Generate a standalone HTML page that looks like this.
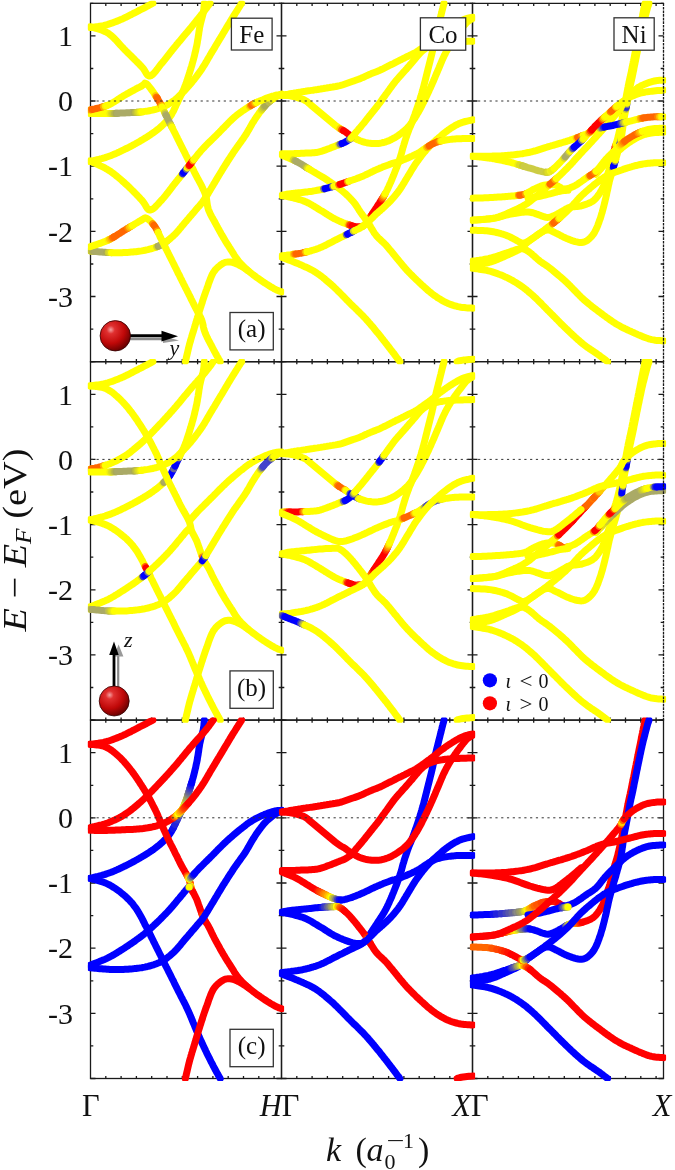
<!DOCTYPE html>
<html><head><meta charset="utf-8"><style>
html,body{margin:0;padding:0;background:#fff;width:675px;height:1170px;overflow:hidden}
svg{display:block;will-change:transform}
text{font-family:"Liberation Serif",serif}
</style></head><body>
<svg width="675" height="1170" viewBox="0 0 675 1170">
<defs><radialGradient id="ball" cx="0.35" cy="0.3" r="0.75"><stop offset="0" stop-color="#f4a0a0"/><stop offset="0.18" stop-color="#e03030"/><stop offset="0.6" stop-color="#c00808"/><stop offset="1" stop-color="#600000"/></radialGradient></defs>
<g stroke="#1a1a1a" stroke-width="1.3" fill="none">
<rect x="90.5" y="3.3" width="191.0" height="358.4"/>
<path d="M90.5 361.7h5.0M281.5 361.7h-5.0"/>
<path d="M90.5 329.1h2.8M281.5 329.1h-2.8"/>
<path d="M90.5 296.5h5.0M281.5 296.5h-5.0"/>
<path d="M90.5 264.0h2.8M281.5 264.0h-2.8"/>
<path d="M90.5 231.4h5.0M281.5 231.4h-5.0"/>
<path d="M90.5 198.8h2.8M281.5 198.8h-2.8"/>
<path d="M90.5 166.2h5.0M281.5 166.2h-5.0"/>
<path d="M90.5 133.6h2.8M281.5 133.6h-2.8"/>
<path d="M90.5 101.0h5.0M281.5 101.0h-5.0"/>
<path d="M90.5 68.5h2.8M281.5 68.5h-2.8"/>
<path d="M90.5 35.9h5.0M281.5 35.9h-5.0"/>
<path d="M90.5 3.3h2.8M281.5 3.3h-2.8"/>
<path d="M105.8 3.3v2.6M105.8 361.7v-2.6"/>
<path d="M121.1 3.3v2.6M121.1 361.7v-2.6"/>
<path d="M136.4 3.3v2.6M136.4 361.7v-2.6"/>
<path d="M151.7 3.3v2.6M151.7 361.7v-2.6"/>
<path d="M167.0 3.3v2.6M167.0 361.7v-2.6"/>
<path d="M182.3 3.3v2.6M182.3 361.7v-2.6"/>
<path d="M197.6 3.3v2.6M197.6 361.7v-2.6"/>
<path d="M212.9 3.3v2.6M212.9 361.7v-2.6"/>
<path d="M228.2 3.3v2.6M228.2 361.7v-2.6"/>
<path d="M243.5 3.3v2.6M243.5 361.7v-2.6"/>
<path d="M258.8 3.3v2.6M258.8 361.7v-2.6"/>
<path d="M274.1 3.3v2.6M274.1 361.7v-2.6"/>
<rect x="281.5" y="3.3" width="191.0" height="358.4"/>
<path d="M281.5 361.7h5.0M472.5 361.7h-5.0"/>
<path d="M281.5 329.1h2.8M472.5 329.1h-2.8"/>
<path d="M281.5 296.5h5.0M472.5 296.5h-5.0"/>
<path d="M281.5 264.0h2.8M472.5 264.0h-2.8"/>
<path d="M281.5 231.4h5.0M472.5 231.4h-5.0"/>
<path d="M281.5 198.8h2.8M472.5 198.8h-2.8"/>
<path d="M281.5 166.2h5.0M472.5 166.2h-5.0"/>
<path d="M281.5 133.6h2.8M472.5 133.6h-2.8"/>
<path d="M281.5 101.0h5.0M472.5 101.0h-5.0"/>
<path d="M281.5 68.5h2.8M472.5 68.5h-2.8"/>
<path d="M281.5 35.9h5.0M472.5 35.9h-5.0"/>
<path d="M281.5 3.3h2.8M472.5 3.3h-2.8"/>
<path d="M296.8 3.3v2.6M296.8 361.7v-2.6"/>
<path d="M312.1 3.3v2.6M312.1 361.7v-2.6"/>
<path d="M327.4 3.3v2.6M327.4 361.7v-2.6"/>
<path d="M342.7 3.3v2.6M342.7 361.7v-2.6"/>
<path d="M358.0 3.3v2.6M358.0 361.7v-2.6"/>
<path d="M373.3 3.3v2.6M373.3 361.7v-2.6"/>
<path d="M388.6 3.3v2.6M388.6 361.7v-2.6"/>
<path d="M403.9 3.3v2.6M403.9 361.7v-2.6"/>
<path d="M419.2 3.3v2.6M419.2 361.7v-2.6"/>
<path d="M434.5 3.3v2.6M434.5 361.7v-2.6"/>
<path d="M449.8 3.3v2.6M449.8 361.7v-2.6"/>
<path d="M465.1 3.3v2.6M465.1 361.7v-2.6"/>
<path d="M471.9 3.3H664.1M472.5 3.3V361.7H664.1"/>
<path d="M472.5 361.7h5.0M663.5 361.7h-5.0"/>
<path d="M472.5 329.1h2.8M663.5 329.1h-2.8"/>
<path d="M472.5 296.5h5.0M663.5 296.5h-5.0"/>
<path d="M472.5 264.0h2.8M663.5 264.0h-2.8"/>
<path d="M472.5 231.4h5.0M663.5 231.4h-5.0"/>
<path d="M472.5 198.8h2.8M663.5 198.8h-2.8"/>
<path d="M472.5 166.2h5.0M663.5 166.2h-5.0"/>
<path d="M472.5 133.6h2.8M663.5 133.6h-2.8"/>
<path d="M472.5 101.0h5.0M663.5 101.0h-5.0"/>
<path d="M472.5 68.5h2.8M663.5 68.5h-2.8"/>
<path d="M472.5 35.9h5.0M663.5 35.9h-5.0"/>
<path d="M472.5 3.3h2.8M663.5 3.3h-2.8"/>
<path d="M487.8 3.3v2.6M487.8 361.7v-2.6"/>
<path d="M503.1 3.3v2.6M503.1 361.7v-2.6"/>
<path d="M518.4 3.3v2.6M518.4 361.7v-2.6"/>
<path d="M533.7 3.3v2.6M533.7 361.7v-2.6"/>
<path d="M549.0 3.3v2.6M549.0 361.7v-2.6"/>
<path d="M564.3 3.3v2.6M564.3 361.7v-2.6"/>
<path d="M579.6 3.3v2.6M579.6 361.7v-2.6"/>
<path d="M594.9 3.3v2.6M594.9 361.7v-2.6"/>
<path d="M610.2 3.3v2.6M610.2 361.7v-2.6"/>
<path d="M625.5 3.3v2.6M625.5 361.7v-2.6"/>
<path d="M640.8 3.3v2.6M640.8 361.7v-2.6"/>
<path d="M656.1 3.3v2.6M656.1 361.7v-2.6"/>
<rect x="90.5" y="361.7" width="191.0" height="358.4"/>
<path d="M90.5 720.1h5.0M281.5 720.1h-5.0"/>
<path d="M90.5 687.5h2.8M281.5 687.5h-2.8"/>
<path d="M90.5 654.9h5.0M281.5 654.9h-5.0"/>
<path d="M90.5 622.4h2.8M281.5 622.4h-2.8"/>
<path d="M90.5 589.8h5.0M281.5 589.8h-5.0"/>
<path d="M90.5 557.2h2.8M281.5 557.2h-2.8"/>
<path d="M90.5 524.6h5.0M281.5 524.6h-5.0"/>
<path d="M90.5 492.0h2.8M281.5 492.0h-2.8"/>
<path d="M90.5 459.4h5.0M281.5 459.4h-5.0"/>
<path d="M90.5 426.9h2.8M281.5 426.9h-2.8"/>
<path d="M90.5 394.3h5.0M281.5 394.3h-5.0"/>
<path d="M90.5 361.7h2.8M281.5 361.7h-2.8"/>
<path d="M105.8 361.7v2.6M105.8 720.1v-2.6"/>
<path d="M121.1 361.7v2.6M121.1 720.1v-2.6"/>
<path d="M136.4 361.7v2.6M136.4 720.1v-2.6"/>
<path d="M151.7 361.7v2.6M151.7 720.1v-2.6"/>
<path d="M167.0 361.7v2.6M167.0 720.1v-2.6"/>
<path d="M182.3 361.7v2.6M182.3 720.1v-2.6"/>
<path d="M197.6 361.7v2.6M197.6 720.1v-2.6"/>
<path d="M212.9 361.7v2.6M212.9 720.1v-2.6"/>
<path d="M228.2 361.7v2.6M228.2 720.1v-2.6"/>
<path d="M243.5 361.7v2.6M243.5 720.1v-2.6"/>
<path d="M258.8 361.7v2.6M258.8 720.1v-2.6"/>
<path d="M274.1 361.7v2.6M274.1 720.1v-2.6"/>
<rect x="281.5" y="361.7" width="191.0" height="358.4"/>
<path d="M281.5 720.1h5.0M472.5 720.1h-5.0"/>
<path d="M281.5 687.5h2.8M472.5 687.5h-2.8"/>
<path d="M281.5 654.9h5.0M472.5 654.9h-5.0"/>
<path d="M281.5 622.4h2.8M472.5 622.4h-2.8"/>
<path d="M281.5 589.8h5.0M472.5 589.8h-5.0"/>
<path d="M281.5 557.2h2.8M472.5 557.2h-2.8"/>
<path d="M281.5 524.6h5.0M472.5 524.6h-5.0"/>
<path d="M281.5 492.0h2.8M472.5 492.0h-2.8"/>
<path d="M281.5 459.4h5.0M472.5 459.4h-5.0"/>
<path d="M281.5 426.9h2.8M472.5 426.9h-2.8"/>
<path d="M281.5 394.3h5.0M472.5 394.3h-5.0"/>
<path d="M281.5 361.7h2.8M472.5 361.7h-2.8"/>
<path d="M296.8 361.7v2.6M296.8 720.1v-2.6"/>
<path d="M312.1 361.7v2.6M312.1 720.1v-2.6"/>
<path d="M327.4 361.7v2.6M327.4 720.1v-2.6"/>
<path d="M342.7 361.7v2.6M342.7 720.1v-2.6"/>
<path d="M358.0 361.7v2.6M358.0 720.1v-2.6"/>
<path d="M373.3 361.7v2.6M373.3 720.1v-2.6"/>
<path d="M388.6 361.7v2.6M388.6 720.1v-2.6"/>
<path d="M403.9 361.7v2.6M403.9 720.1v-2.6"/>
<path d="M419.2 361.7v2.6M419.2 720.1v-2.6"/>
<path d="M434.5 361.7v2.6M434.5 720.1v-2.6"/>
<path d="M449.8 361.7v2.6M449.8 720.1v-2.6"/>
<path d="M465.1 361.7v2.6M465.1 720.1v-2.6"/>
<path d="M471.9 361.7H664.1M472.5 361.7V720.1H664.1"/>
<path d="M472.5 720.1h5.0M663.5 720.1h-5.0"/>
<path d="M472.5 687.5h2.8M663.5 687.5h-2.8"/>
<path d="M472.5 654.9h5.0M663.5 654.9h-5.0"/>
<path d="M472.5 622.4h2.8M663.5 622.4h-2.8"/>
<path d="M472.5 589.8h5.0M663.5 589.8h-5.0"/>
<path d="M472.5 557.2h2.8M663.5 557.2h-2.8"/>
<path d="M472.5 524.6h5.0M663.5 524.6h-5.0"/>
<path d="M472.5 492.0h2.8M663.5 492.0h-2.8"/>
<path d="M472.5 459.4h5.0M663.5 459.4h-5.0"/>
<path d="M472.5 426.9h2.8M663.5 426.9h-2.8"/>
<path d="M472.5 394.3h5.0M663.5 394.3h-5.0"/>
<path d="M472.5 361.7h2.8M663.5 361.7h-2.8"/>
<path d="M487.8 361.7v2.6M487.8 720.1v-2.6"/>
<path d="M503.1 361.7v2.6M503.1 720.1v-2.6"/>
<path d="M518.4 361.7v2.6M518.4 720.1v-2.6"/>
<path d="M533.7 361.7v2.6M533.7 720.1v-2.6"/>
<path d="M549.0 361.7v2.6M549.0 720.1v-2.6"/>
<path d="M564.3 361.7v2.6M564.3 720.1v-2.6"/>
<path d="M579.6 361.7v2.6M579.6 720.1v-2.6"/>
<path d="M594.9 361.7v2.6M594.9 720.1v-2.6"/>
<path d="M610.2 361.7v2.6M610.2 720.1v-2.6"/>
<path d="M625.5 361.7v2.6M625.5 720.1v-2.6"/>
<path d="M640.8 361.7v2.6M640.8 720.1v-2.6"/>
<path d="M656.1 361.7v2.6M656.1 720.1v-2.6"/>
<rect x="90.5" y="720.1" width="191.0" height="358.4"/>
<path d="M90.5 1078.5h5.0M281.5 1078.5h-5.0"/>
<path d="M90.5 1045.9h2.8M281.5 1045.9h-2.8"/>
<path d="M90.5 1013.3h5.0M281.5 1013.3h-5.0"/>
<path d="M90.5 980.8h2.8M281.5 980.8h-2.8"/>
<path d="M90.5 948.2h5.0M281.5 948.2h-5.0"/>
<path d="M90.5 915.6h2.8M281.5 915.6h-2.8"/>
<path d="M90.5 883.0h5.0M281.5 883.0h-5.0"/>
<path d="M90.5 850.4h2.8M281.5 850.4h-2.8"/>
<path d="M90.5 817.8h5.0M281.5 817.8h-5.0"/>
<path d="M90.5 785.3h2.8M281.5 785.3h-2.8"/>
<path d="M90.5 752.7h5.0M281.5 752.7h-5.0"/>
<path d="M90.5 720.1h2.8M281.5 720.1h-2.8"/>
<path d="M105.8 720.1v2.6M105.8 1078.5v-2.6"/>
<path d="M121.1 720.1v2.6M121.1 1078.5v-2.6"/>
<path d="M136.4 720.1v2.6M136.4 1078.5v-2.6"/>
<path d="M151.7 720.1v2.6M151.7 1078.5v-2.6"/>
<path d="M167.0 720.1v2.6M167.0 1078.5v-2.6"/>
<path d="M182.3 720.1v2.6M182.3 1078.5v-2.6"/>
<path d="M197.6 720.1v2.6M197.6 1078.5v-2.6"/>
<path d="M212.9 720.1v2.6M212.9 1078.5v-2.6"/>
<path d="M228.2 720.1v2.6M228.2 1078.5v-2.6"/>
<path d="M243.5 720.1v2.6M243.5 1078.5v-2.6"/>
<path d="M258.8 720.1v2.6M258.8 1078.5v-2.6"/>
<path d="M274.1 720.1v2.6M274.1 1078.5v-2.6"/>
<rect x="281.5" y="720.1" width="191.0" height="358.4"/>
<path d="M281.5 1078.5h5.0M472.5 1078.5h-5.0"/>
<path d="M281.5 1045.9h2.8M472.5 1045.9h-2.8"/>
<path d="M281.5 1013.3h5.0M472.5 1013.3h-5.0"/>
<path d="M281.5 980.8h2.8M472.5 980.8h-2.8"/>
<path d="M281.5 948.2h5.0M472.5 948.2h-5.0"/>
<path d="M281.5 915.6h2.8M472.5 915.6h-2.8"/>
<path d="M281.5 883.0h5.0M472.5 883.0h-5.0"/>
<path d="M281.5 850.4h2.8M472.5 850.4h-2.8"/>
<path d="M281.5 817.8h5.0M472.5 817.8h-5.0"/>
<path d="M281.5 785.3h2.8M472.5 785.3h-2.8"/>
<path d="M281.5 752.7h5.0M472.5 752.7h-5.0"/>
<path d="M281.5 720.1h2.8M472.5 720.1h-2.8"/>
<path d="M296.8 720.1v2.6M296.8 1078.5v-2.6"/>
<path d="M312.1 720.1v2.6M312.1 1078.5v-2.6"/>
<path d="M327.4 720.1v2.6M327.4 1078.5v-2.6"/>
<path d="M342.7 720.1v2.6M342.7 1078.5v-2.6"/>
<path d="M358.0 720.1v2.6M358.0 1078.5v-2.6"/>
<path d="M373.3 720.1v2.6M373.3 1078.5v-2.6"/>
<path d="M388.6 720.1v2.6M388.6 1078.5v-2.6"/>
<path d="M403.9 720.1v2.6M403.9 1078.5v-2.6"/>
<path d="M419.2 720.1v2.6M419.2 1078.5v-2.6"/>
<path d="M434.5 720.1v2.6M434.5 1078.5v-2.6"/>
<path d="M449.8 720.1v2.6M449.8 1078.5v-2.6"/>
<path d="M465.1 720.1v2.6M465.1 1078.5v-2.6"/>
<rect x="472.5" y="720.1" width="191.0" height="358.4"/>
<path d="M472.5 1078.5h5.0M663.5 1078.5h-5.0"/>
<path d="M472.5 1045.9h2.8M663.5 1045.9h-2.8"/>
<path d="M472.5 1013.3h5.0M663.5 1013.3h-5.0"/>
<path d="M472.5 980.8h2.8M663.5 980.8h-2.8"/>
<path d="M472.5 948.2h5.0M663.5 948.2h-5.0"/>
<path d="M472.5 915.6h2.8M663.5 915.6h-2.8"/>
<path d="M472.5 883.0h5.0M663.5 883.0h-5.0"/>
<path d="M472.5 850.4h2.8M663.5 850.4h-2.8"/>
<path d="M472.5 817.8h5.0M663.5 817.8h-5.0"/>
<path d="M472.5 785.3h2.8M663.5 785.3h-2.8"/>
<path d="M472.5 752.7h5.0M663.5 752.7h-5.0"/>
<path d="M472.5 720.1h2.8M663.5 720.1h-2.8"/>
<path d="M487.8 720.1v2.6M487.8 1078.5v-2.6"/>
<path d="M503.1 720.1v2.6M503.1 1078.5v-2.6"/>
<path d="M518.4 720.1v2.6M518.4 1078.5v-2.6"/>
<path d="M533.7 720.1v2.6M533.7 1078.5v-2.6"/>
<path d="M549.0 720.1v2.6M549.0 1078.5v-2.6"/>
<path d="M564.3 720.1v2.6M564.3 1078.5v-2.6"/>
<path d="M579.6 720.1v2.6M579.6 1078.5v-2.6"/>
<path d="M594.9 720.1v2.6M594.9 1078.5v-2.6"/>
<path d="M610.2 720.1v2.6M610.2 1078.5v-2.6"/>
<path d="M625.5 720.1v2.6M625.5 1078.5v-2.6"/>
<path d="M640.8 720.1v2.6M640.8 1078.5v-2.6"/>
<path d="M656.1 720.1v2.6M656.1 1078.5v-2.6"/>
</g>
<g fill="none" stroke-width="7.0" stroke-linecap="round" stroke-linejoin="round">
<defs><clipPath id="cp00"><rect x="87.9" y="0.7" width="196.2" height="363.6"/></clipPath><clipPath id="cp01"><rect x="278.9" y="0.7" width="196.2" height="363.6"/></clipPath><clipPath id="cp02"><rect x="469.9" y="0.7" width="196.2" height="363.6"/></clipPath><clipPath id="cp10"><rect x="87.9" y="359.1" width="196.2" height="363.6"/></clipPath><clipPath id="cp11"><rect x="278.9" y="359.1" width="196.2" height="363.6"/></clipPath><clipPath id="cp12"><rect x="469.9" y="359.1" width="196.2" height="363.6"/></clipPath><clipPath id="cp20"><rect x="87.9" y="717.5" width="196.2" height="363.6"/></clipPath><clipPath id="cp21"><rect x="278.9" y="717.5" width="196.2" height="363.6"/></clipPath><clipPath id="cp22"><rect x="469.9" y="717.5" width="196.2" height="363.6"/></clipPath></defs>
<g clip-path="url(#cp00)">
<polyline points="90.0,161.5 90.9,161.3 92.0,161.0 93.3,160.7 94.8,160.3 96.4,159.9 98.1,159.5 99.9,159.0 101.7,158.6 103.4,158.1 105.2,157.6 106.8,157.0 108.3,156.5 109.8,156.0 111.2,155.5 112.6,154.9 114.0,154.3 115.4,153.7 116.8,153.1 118.1,152.5 119.5,151.9 120.9,151.2 122.2,150.5 123.6,149.9 125.0,149.2 126.4,148.5 127.8,147.8 129.2,147.1 130.7,146.3 132.1,145.6 133.5,144.8 135.0,144.0 136.4,143.2 137.7,142.5 139.1,141.7 140.4,140.9 141.7,140.2 143.2,139.3 144.6,138.4 146.0,137.6 147.4,136.7 148.8,135.8 150.1,135.0 151.3,134.1 152.6,133.3 153.8,132.4 155.0,131.5 156.4,130.4 157.8,129.4 159.1,128.3 160.4,127.2 161.6,126.1 162.8,125.0 163.9,123.9 165.0,122.9 166.1,121.7 167.1,120.5 168.1,119.4 169.0,118.3 169.9,117.0 170.7,115.7 171.7,114.2 172.3,113.0 173.0,111.8 173.7,110.5 174.3,109.1 175.0,107.7 175.7,106.3 176.3,104.8 177.0,103.4 177.7,101.9 178.3,100.5 179.0,99.2 179.7,97.8 180.3,96.5 181.0,95.1 181.7,93.8 182.3,92.4 183.0,91.0 183.7,89.5 184.3,87.9 185.0,86.2 185.5,84.9 186.0,83.6 186.5,82.2 187.0,80.8 187.4,79.4 187.9,77.9 188.4,76.4 188.9,74.9 189.4,73.3 189.9,71.8 190.3,70.3 190.8,68.8 191.2,67.3 191.7,65.9 192.1,64.3 192.5,62.8 193.0,61.2 193.4,59.7 193.8,58.2 194.2,56.6 194.6,55.1 194.9,53.5 195.3,52.0 195.7,50.5 196.0,48.9 196.3,47.4 196.7,45.9 197.0,44.3 197.3,42.7 197.5,41.1 197.8,39.5 198.1,37.9 198.3,36.3 198.6,34.7 198.8,33.1 199.0,31.5 199.3,30.0 199.5,28.6 199.7,27.2 200.0,25.9 200.4,24.1 200.8,22.4 201.2,20.8 201.6,19.3 202.0,17.8 202.4,16.4 202.7,15.1 203.1,13.8 203.3,12.5 203.6,10.6 203.9,8.8 204.0,7.0 204.2,5.5 204.3,4.2 204.3,3.3" stroke="#ffff00"/>
<polyline points="90.0,27.5 90.9,27.4 92.0,27.3 93.3,27.1 94.8,26.9 96.5,26.7 98.2,26.5 99.9,26.2 101.7,25.9 103.4,25.6 105.0,25.2 106.5,24.8 107.9,24.4 109.4,23.9 110.9,23.4 112.5,22.9 114.0,22.3 115.5,21.7 117.1,21.1 118.6,20.5 120.1,19.8 121.7,19.2 123.1,18.6 124.5,17.9 125.8,17.3 127.2,16.6 128.6,15.9 130.0,15.2 131.4,14.5 132.8,13.7 134.2,13.0 135.6,12.3 137.0,11.6 138.3,10.9 139.7,10.1 141.2,9.4 142.8,8.6 144.3,7.8 145.9,7.0 147.4,6.2 148.8,5.4 150.2,4.7 151.5,4.0 152.6,3.4 152.9,3.3" stroke="#ffff00"/>
<polyline points="90.0,113.5 90.9,113.5 92.0,113.5 93.3,113.5 94.8,113.6 96.4,113.6 98.1,113.6 99.9,113.6 101.7,113.6 103.4,113.6 105.2,113.6 106.8,113.6 108.3,113.5 109.9,113.5" stroke="#ffff00"/>
<polyline points="109.9,113.5 111.5,113.5" stroke="#eeee11"/>
<polyline points="111.5,113.5 113.0,113.4" stroke="#dddd22"/>
<polyline points="113.0,113.4 114.5,113.4" stroke="#cccc33"/>
<polyline points="114.5,113.4 116.0,113.3" stroke="#bbbb44"/>
<polyline points="116.0,113.3 117.5,113.2" stroke="#aaaa55"/>
<polyline points="117.5,113.2 119.0,113.2 120.5,113.1 122.0,113.0 123.5,112.9 125.0,112.9 126.5,112.8 128.0,112.7 129.5,112.7 131.1,112.6 132.6,112.6 134.1,112.5" stroke="#aaaa66"/>
<polyline points="134.1,112.5 135.6,112.4" stroke="#aaaa55"/>
<polyline points="135.6,112.4 137.1,112.3" stroke="#bbbb44"/>
<polyline points="137.1,112.3 138.6,112.2" stroke="#cccc33"/>
<polyline points="138.6,112.2 140.2,112.0" stroke="#dddd22"/>
<polyline points="140.2,112.0 141.7,111.9" stroke="#eeee11"/>
<polyline points="141.7,111.9 143.2,111.7 144.7,111.4 146.3,111.2 147.9,111.0 149.4,110.7 151.0,110.4 152.5,110.1 154.0,109.7 155.5,109.4 156.9,109.0 158.3,108.5 160.0,108.0 161.6,107.4 163.1,106.7 164.7,106.1 166.2,105.3 167.6,104.6 169.0,103.8 170.3,103.0 171.7,102.2 173.1,101.2 174.4,100.3 175.7,99.2 176.9,98.2 178.1,97.1 179.2,95.9 180.4,94.7 181.7,93.5 182.8,92.4 183.9,91.3 185.0,90.1 186.1,88.9 187.2,87.7 188.3,86.5 189.4,85.2 190.6,83.9 191.7,82.5 192.6,81.4 193.5,80.3 194.4,79.2 195.3,78.0 196.2,76.8 197.1,75.6 198.0,74.4 198.9,73.1 199.8,71.9 200.8,70.5 201.7,69.2 202.5,67.9 203.3,66.6 204.2,65.3 205.0,63.9 205.8,62.5 206.7,61.1 207.5,59.6 208.3,58.2 209.2,56.8 210.0,55.3 210.8,53.9 211.7,52.5 212.5,51.1 213.3,49.8 214.2,48.4 215.0,47.0 215.8,45.6 216.7,44.2 217.5,42.8 218.3,41.4 219.2,40.0 220.0,38.6 220.8,37.3 221.7,35.9 222.5,34.5 223.3,33.1 224.2,31.7 225.0,30.3 225.8,28.9 226.7,27.5 227.5,26.1 228.3,24.7 229.2,23.3 230.0,21.9 230.8,20.6 231.7,19.2 232.5,17.8 233.4,16.3 234.4,14.8 235.4,13.2 236.3,11.7 237.3,10.2 238.2,8.7 239.1,7.3 239.9,6.1 240.6,4.9 241.2,4.0 241.6,3.3" stroke="#ffff00"/>
<polyline points="90.0,250.9 90.9,251.0" stroke="#dddd22"/>
<polyline points="90.9,251.0 92.0,251.1" stroke="#cccc33"/>
<polyline points="92.0,251.1 93.3,251.2" stroke="#bbbb44"/>
<polyline points="93.3,251.2 94.8,251.4" stroke="#aaaa55"/>
<polyline points="94.8,251.4 96.4,251.5 98.1,251.7 99.9,251.9 101.7,252.0 103.4,252.2 105.2,252.3 106.8,252.4" stroke="#aaaa66"/>
<polyline points="106.8,252.4 108.3,252.5" stroke="#aaaa55"/>
<polyline points="108.3,252.5 109.9,252.6" stroke="#cccc33"/>
<polyline points="109.9,252.6 111.5,252.7" stroke="#dddd22"/>
<polyline points="111.5,252.7 113.0,252.7 114.5,252.7 116.0,252.7 117.5,252.7 119.0,252.7 120.5,252.7 122.0,252.7 123.5,252.6 125.0,252.5 126.5,252.5 128.1,252.4 129.6,252.2 131.2,252.1 132.8,252.0 134.3,251.8 135.9,251.7 137.4,251.5 138.8,251.3 140.3,251.1 141.7,250.9 143.3,250.6 144.9,250.3 146.5,249.9 148.0,249.6 149.5,249.2 150.9,248.8 152.3,248.4 153.7,248.0 155.0,247.5 156.6,246.9" stroke="#ffff00"/>
<polyline points="156.6,246.9 158.1,246.3" stroke="#dddd22"/>
<polyline points="158.1,246.3 159.5,245.7" stroke="#aaaa55"/>
<polyline points="159.5,245.7 160.9,245.0 162.2,244.3 163.6,243.4 165.0,242.5" stroke="#aaaa66"/>
<polyline points="165.0,242.5 166.2,241.7" stroke="#aaaa55"/>
<polyline points="166.2,241.7 167.5,240.8" stroke="#dddd33"/>
<polyline points="167.5,240.8 168.8,239.8 170.0,238.8 171.2,237.7 172.5,236.6 173.8,235.4 175.0,234.2 176.0,233.2 177.0,232.1 178.0,230.9 179.0,229.8 180.0,228.6 181.0,227.4 182.0,226.1 183.0,224.9 184.0,223.7 185.0,222.5 186.0,221.4 187.0,220.2 188.1,219.0 189.1,217.8 190.1,216.6 191.1,215.4 192.1,214.2 193.1,213.1 194.1,212.0 195.0,210.9 196.1,209.6 197.2,208.3 198.2,207.1 199.3,206.0 200.3,204.8 201.3,203.6 202.3,202.3 203.3,200.9 204.2,199.7 205.0,198.5 205.8,197.2 206.6,195.9 207.4,194.6 208.2,193.3 209.0,191.9 209.9,190.5 210.8,189.0 211.7,187.5 212.4,186.3 213.2,185.0 214.0,183.6 214.8,182.3 215.6,180.9 216.5,179.5 217.3,178.1 218.1,176.7 219.0,175.2 219.9,173.8 220.8,172.3 221.7,170.9 222.4,169.6 223.2,168.3 224.1,167.0 224.9,165.7 225.7,164.4 226.6,163.0 227.4,161.7 228.2,160.4 229.1,159.0 230.0,157.7 230.8,156.4 231.7,155.1 232.5,153.8 233.3,152.5 234.2,151.2 235.1,149.9 236.1,148.6 237.0,147.3 237.9,146.0 238.8,144.7 239.7,143.5 240.6,142.2 241.5,140.9 242.4,139.7 243.3,138.4 244.2,137.1 245.0,135.9 245.9,134.5 246.8,133.1 247.6,131.6 248.5,130.2 249.3,128.8 250.1,127.3 250.9,125.9 251.7,124.5 252.5,123.1 253.4,121.8 254.2,120.5 255.0,119.2 255.9,117.8 256.8,116.5 257.7,115.2 258.6,113.9 259.5,112.6 260.5,111.4 261.4,110.2" stroke="#ffff00"/>
<polyline points="261.4,110.2 262.3,109.1" stroke="#eeee11"/>
<polyline points="262.3,109.1 263.2,107.9" stroke="#dddd22"/>
<polyline points="263.2,107.9 264.1,106.9" stroke="#cccc33"/>
<polyline points="264.1,106.9 265.0,105.9" stroke="#bbbb44"/>
<polyline points="265.0,105.9 266.3,104.6 267.6,103.3 268.9,102.2" stroke="#aaaa55"/>
<polyline points="268.9,102.2 270.2,101.1" stroke="#bbbb55"/>
<polyline points="270.2,101.1 271.5,100.1" stroke="#bbbb44"/>
<polyline points="271.5,100.1 272.7,99.1" stroke="#dddd33"/>
<polyline points="272.7,99.1 273.9,98.3" stroke="#eeee11"/>
<polyline points="273.9,98.3 275.0,97.5 277.1,96.3 279.0,95.3 280.5,94.7 281.7,94.2" stroke="#ffff00"/>
<polyline points="185.4,361.7 185.5,361.3 185.7,360.1 186.1,358.7 186.4,357.2 186.8,355.6 187.2,353.9 187.6,352.2 188.0,350.5 188.4,348.7 188.8,347.1 189.2,345.5 189.6,343.9 190.0,342.5 190.5,340.9 190.9,339.3 191.4,337.7 191.8,336.2 192.3,334.7 192.7,333.2 193.2,331.8 193.6,330.3 194.1,328.8 194.5,327.4 195.0,325.9 195.4,324.4 195.9,322.9 196.3,321.4 196.7,319.9 197.2,318.5 197.6,317.0 198.1,315.5 198.5,314.0 199.0,312.4 199.5,310.8 200.0,309.2 200.4,307.9 200.9,306.5 201.3,305.1 201.8,303.6 202.3,302.2 202.7,300.7 203.2,299.2 203.7,297.7 204.2,296.2 204.7,294.8 205.2,293.3 205.7,291.9 206.2,290.5 206.7,289.2 207.3,287.5 207.9,285.9 208.4,284.2 209.0,282.5 209.6,280.9 210.2,279.4 210.8,277.8 211.4,276.4 212.0,275.0 212.7,273.7 213.3,272.5 214.5,270.9 215.6,269.4 216.9,268.1 218.1,266.9 219.4,265.9 220.5,265.0 221.7,264.2 223.5,263.1 225.1,262.4 226.7,262.1 228.3,261.9 230.0,261.9 231.7,262.2 233.3,262.6 235.0,263.2 236.7,263.9 238.3,264.7 240.0,265.6 241.7,266.5 243.1,267.4 244.7,268.4 246.1,269.4 247.4,270.3 248.3,270.9" stroke="#ffff00"/>
<polyline points="90.0,26.7 90.8,26.9 91.8,27.2 93.0,27.5 94.3,27.9 95.8,28.3 97.3,28.7 98.9,29.2 100.6,29.7 102.2,30.3 103.8,31.0 105.4,31.7 106.9,32.5 108.3,33.3 109.5,34.2 110.6,35.1 111.8,36.0 112.9,37.1 114.0,38.1 115.1,39.3 116.2,40.4 117.3,41.6 118.4,42.9 119.5,44.1 120.6,45.3 121.7,46.5 122.8,47.7 123.9,48.9 125.0,50.0 126.1,51.1 127.3,52.3 128.5,53.5 129.7,54.6 130.9,55.8 132.1,57.0 133.3,58.2 134.4,59.4 135.6,60.5 136.7,61.7 137.8,62.7 138.9,63.8 139.9,64.8 140.8,65.8 141.7,66.7 143.1,68.3 144.3,70.0 145.3,71.7 146.1,73.2 147.0,74.4 147.9,75.4 148.9,75.9 150.0,76.0 150.9,75.7 151.9,75.1 152.9,74.2 153.9,73.2 155.0,72.0 156.1,70.6 157.2,69.2 158.3,67.7 159.4,66.2 160.5,64.7 161.7,63.3 162.6,62.3 163.5,61.2 164.4,60.1 165.3,59.0 166.2,57.8 167.1,56.6 168.0,55.5 169.0,54.3 169.9,53.0 170.9,51.8 171.9,50.5 172.9,49.3 173.9,48.0 175.0,46.7 175.9,45.6 176.8,44.4 177.8,43.3 178.8,42.1 179.8,40.9 180.8,39.7 181.8,38.5 182.8,37.3 183.8,36.1 184.9,34.8 185.9,33.6 186.9,32.4 187.9,31.2 188.9,30.0 189.8,28.9 190.8,27.8 191.7,26.7 192.7,25.4 193.8,24.1 194.9,22.8 195.9,21.5 196.9,20.2 197.9,18.9 198.9,17.7 199.9,16.5 200.8,15.3 201.7,14.2 202.6,13.1 203.4,12.0 204.2,11.0 205.0,10.0 206.3,8.4 207.4,6.8 208.5,5.3 209.5,4.0 210.0,3.3" stroke="#ffff00"/>
<polyline points="90.0,110.0 90.9,109.8" stroke="#ffbb00"/>
<polyline points="90.9,109.8 92.0,109.5" stroke="#ff9900"/>
<polyline points="92.0,109.5 93.3,109.2 94.8,108.9 96.4,108.5 98.1,108.1 99.9,107.7 101.7,107.2 103.4,106.7" stroke="#ff6600"/>
<polyline points="103.4,106.7 105.2,106.2" stroke="#ffaa00"/>
<polyline points="105.2,106.2 106.8,105.6" stroke="#ffee00"/>
<polyline points="106.8,105.6 108.3,105.0 109.8,104.3 111.2,103.6 112.6,102.8 114.0,102.0 115.4,101.1 116.8,100.2 118.1,99.3 119.5,98.4 120.9,97.5 122.2,96.7 123.6,95.8 125.0,95.0 126.4,94.2 127.9,93.4 129.4,92.5 131.0,91.7 132.5,90.8 134.1,90.0 135.5,89.2 137.0,88.4 138.3,87.7 139.6,87.1 140.7,86.5 141.7,86.0 144.0,84.1 144.9,83.1 146.7,84.0 147.4,84.6 148.1,85.4 148.9,86.4 149.8,87.5 150.7,88.7 151.7,90.0 152.7,91.3 153.7,92.7 154.6,94.2 155.6,95.7" stroke="#ffff00"/>
<polyline points="155.6,95.7 156.6,97.1" stroke="#ffcc00"/>
<polyline points="156.6,97.1 157.5,98.6" stroke="#ff7700"/>
<polyline points="157.5,98.6 158.3,100.0 159.1,101.3 159.8,102.6 160.6,104.0 161.3,105.4" stroke="#ff6600"/>
<polyline points="161.3,105.4 162.0,106.8" stroke="#ffaa00"/>
<polyline points="162.0,106.8 162.7,108.3 163.4,109.7 164.1,111.2 164.8,112.7" stroke="#ffff00"/>
<polyline points="164.8,112.7 165.5,114.2" stroke="#dddd22"/>
<polyline points="165.5,114.2 166.2,115.6" stroke="#bbbb55"/>
<polyline points="166.2,115.6 166.9,117.1 167.6,118.6 168.3,120.0 169.0,121.4 169.8,122.9 170.5,124.3" stroke="#aaaa66"/>
<polyline points="170.5,124.3 171.2,125.7" stroke="#bbbb55"/>
<polyline points="171.2,125.7 171.9,127.1" stroke="#dddd22"/>
<polyline points="171.9,127.1 172.6,128.6 173.3,130.0 174.0,131.4 174.8,132.9 175.5,134.3 176.2,135.7 176.9,137.1 177.6,138.6 178.3,140.0 179.1,141.4 179.8,142.9 180.5,144.4 181.3,145.9 182.0,147.4 182.8,148.9 183.5,150.4 184.3,151.9 185.0,153.3 185.7,154.8 186.4,156.2 187.1,157.5 187.7,158.8 188.3,160.0 189.2,161.7 190.0,163.3 190.7,164.7 191.3,166.0 192.0,167.3 192.7,168.6 193.4,170.1 194.1,171.6 195.0,173.3 195.6,174.6 196.3,175.9 197.0,177.3 197.8,178.7 198.6,180.2 199.4,181.7 200.2,183.2 201.0,184.7 201.8,186.2 202.5,187.7 203.2,189.2 203.9,190.6 204.5,192.0 205.0,193.3 205.6,195.1 206.0,196.8 206.4,198.5 206.7,200.1 206.9,201.7 207.1,203.2 207.3,204.8 207.6,206.3 207.9,207.7 208.3,209.2 208.9,210.8 209.6,212.3 210.2,213.8 211.0,215.2 211.7,216.6 212.5,218.1 213.3,219.5 214.2,221.0 215.0,222.5 215.7,223.8 216.4,225.2 217.2,226.5 217.9,227.9 218.7,229.3 219.5,230.7 220.2,232.1 221.0,233.5 221.8,234.9 222.6,236.2 223.3,237.5 224.2,238.9 225.0,240.4 225.9,241.8 226.7,243.1 227.6,244.5 228.5,245.9 229.3,247.2 230.1,248.4 230.9,249.7 231.7,250.9 232.6,252.3 233.4,253.6 234.1,254.9 234.9,256.1 235.7,257.3 236.5,258.4 237.4,259.6 238.3,260.9 239.3,262.0 240.3,263.1 241.3,264.2 242.4,265.3 243.5,266.4 244.6,267.5 245.8,268.6 247.1,269.8 248.3,270.9 249.4,271.8 250.6,272.7 251.7,273.6 252.9,274.6 254.2,275.5 255.4,276.4 256.7,277.4 257.9,278.3 259.2,279.1 260.4,280.0 261.7,280.9 263.0,281.8 264.4,282.7 265.9,283.7 267.3,284.6 268.8,285.5 270.1,286.4 271.5,287.2 272.8,287.9 273.9,288.6 275.0,289.2 277.3,290.3 279.2,291.1 280.6,291.5 281.7,291.9" stroke="#ffff00"/>
<polyline points="90.0,161.0 90.8,161.4 91.8,161.8 93.0,162.4 94.3,163.0 95.8,163.6 97.3,164.3 98.9,165.0 100.5,165.8 102.2,166.6 103.8,167.4 105.4,168.3 106.9,169.1 108.3,170.0 109.5,170.8 110.8,171.6 112.0,172.5 113.2,173.4 114.4,174.3 115.6,175.2 116.8,176.2 117.9,177.1 119.1,178.1 120.3,179.1 121.5,180.1 122.6,181.2 123.8,182.2 125.0,183.3 126.1,184.3 127.3,185.4 128.5,186.5 129.7,187.7 130.9,188.9 132.1,190.1 133.3,191.3 134.5,192.5 135.6,193.6 136.8,194.8 137.8,195.9 138.9,197.0 139.9,198.1 140.8,199.1 141.7,200.0 143.1,201.7 144.3,203.4 145.3,205.1 146.2,206.7 147.0,208.0 147.9,209.1 148.9,209.8 150.0,210.0 151.0,209.8 152.1,209.4 153.2,208.7 154.4,207.8 155.5,206.7 156.7,205.4 158.0,204.1 159.2,202.7 160.4,201.4 161.7,200.0 162.6,199.0 163.5,198.0 164.4,196.9 165.4,195.7 166.3,194.5 167.3,193.3 168.2,192.1 169.2,190.8 170.2,189.5 171.2,188.3 172.1,187.0 173.1,185.7 174.0,184.5 175.0,183.3 175.9,182.1 176.9,180.9 177.8,179.7 178.8,178.6 179.7,177.4 180.7,176.2 181.6,175.0" stroke="#ffff00"/>
<polyline points="181.6,175.0 182.6,173.8" stroke="#eeee11"/>
<polyline points="182.6,173.8 183.5,172.6" stroke="#3333cc"/>
<polyline points="183.5,172.6 184.5,171.4 185.4,170.3 186.4,169.1" stroke="#0000ff"/>
<polyline points="186.4,169.1 187.3,167.9" stroke="#777788"/>
<polyline points="187.3,167.9 188.3,166.7" stroke="#ffff00"/>
<polyline points="188.3,166.7 189.2,165.5" stroke="#ffcc00"/>
<polyline points="189.2,165.5 190.2,164.3" stroke="#ff1100"/>
<polyline points="190.2,164.3 191.1,163.1 192.0,161.9 192.9,160.7" stroke="#ff0000"/>
<polyline points="192.9,160.7 193.9,159.5" stroke="#ff9900"/>
<polyline points="193.9,159.5 194.8,158.4 195.7,157.2 196.7,156.0 197.6,154.8 198.6,153.6 199.6,152.4 200.6,151.2 201.7,150.0 202.7,148.9 203.8,147.8 204.8,146.7 205.9,145.5 207.0,144.4 208.1,143.3 209.2,142.2 210.4,141.1 211.5,140.0 212.6,138.9 213.8,137.7 214.9,136.6 216.1,135.5 217.2,134.4 218.3,133.3 219.4,132.2 220.5,131.0 221.6,129.9 222.7,128.7 223.9,127.6 225.0,126.4 226.1,125.3 227.2,124.1 228.3,123.0 229.4,121.9 230.5,120.8 231.7,119.7 232.8,118.7 233.9,117.7 235.0,116.7 236.3,115.6 237.6,114.6 239.0,113.5 240.3,112.5 241.7,111.6 243.0,110.6 244.4,109.7 245.7,108.8 247.0,108.0 248.2,107.2 249.4,106.4" stroke="#ffff00"/>
<polyline points="249.4,106.4 250.6,105.7" stroke="#ffdd00"/>
<polyline points="250.6,105.7 251.7,105.0" stroke="#ff9900"/>
<polyline points="251.7,105.0 253.4,104.0" stroke="#ff6600"/>
<polyline points="253.4,104.0 255.0,103.2" stroke="#ff7700"/>
<polyline points="255.0,103.2 256.4,102.5" stroke="#ffbb00"/>
<polyline points="256.4,102.5 257.8,101.8 259.2,101.3 260.5,100.7 261.7,100.2 263.0,99.7 264.6,99.0 266.2,98.3 267.6,97.7 269.0,97.2 270.5,96.7 272.0,96.2 273.7,95.8 275.5,95.3 277.3,95.0 279.0,94.7 280.5,94.4 281.5,94.2" stroke="#ffff00"/>
<polyline points="90.0,246.7 90.9,246.4 92.0,246.0 93.3,245.6 94.8,245.1 96.4,244.6 98.1,244.0 99.9,243.4 101.6,242.7 103.4,242.1 105.1,241.4 106.8,240.7 108.3,240.0" stroke="#ffff00"/>
<polyline points="108.3,240.0 109.7,239.3" stroke="#ffee00"/>
<polyline points="109.7,239.3 111.2,238.5" stroke="#ffcc00"/>
<polyline points="111.2,238.5 112.6,237.7" stroke="#ffaa00"/>
<polyline points="112.6,237.7 114.0,236.9" stroke="#ff7700"/>
<polyline points="114.0,236.9 115.4,236.1 116.8,235.2 118.1,234.3 119.5,233.5 120.9,232.6 122.2,231.7 123.6,230.8 125.0,230.0 126.4,229.1 127.9,228.2" stroke="#ff6600"/>
<polyline points="127.9,228.2 129.4,227.3" stroke="#ff8800"/>
<polyline points="129.4,227.3 131.0,226.4" stroke="#ffbb00"/>
<polyline points="131.0,226.4 132.6,225.4" stroke="#ffdd00"/>
<polyline points="132.6,225.4 134.1,224.5 135.6,223.6 137.0,222.7 138.3,221.9 139.6,221.2 140.7,220.5 141.7,220.0 144.1,218.4 145.2,217.8 146.7,218.3 147.7,218.9 148.9,219.8 150.1,220.9 151.4,222.2 152.6,223.6" stroke="#ffff00"/>
<polyline points="152.6,223.6 153.9,225.2" stroke="#ff9900"/>
<polyline points="153.9,225.2 155.0,226.7 155.8,228.0 156.6,229.3 157.4,230.8" stroke="#ff6600"/>
<polyline points="157.4,230.8 158.1,232.3" stroke="#ff9900"/>
<polyline points="158.1,232.3 158.8,233.8 159.5,235.4 160.2,237.0 161.0,238.5 161.7,240.0 162.4,241.5 163.2,243.0 163.9,244.4 164.6,245.9 165.4,247.4 166.1,248.9 166.8,250.3 167.6,251.8 168.3,253.3 169.0,254.7 169.7,256.1 170.4,257.5 171.1,258.9 171.8,260.3 172.5,261.7 173.3,263.3 174.1,264.9 175.0,266.7 175.6,267.9 176.3,269.2 176.9,270.5 177.6,271.9 178.3,273.4 179.1,274.8 179.8,276.3 180.5,277.8 181.3,279.3 182.0,280.8 182.8,282.3 183.5,283.8 184.3,285.3 185.0,286.7 185.7,288.1 186.5,289.6 187.2,291.1 188.0,292.6 188.7,294.1 189.5,295.6 190.2,297.1 190.9,298.6 191.7,300.1 192.4,301.5 193.1,302.9 193.7,304.2 194.4,305.5 195.0,306.7 195.9,308.5 196.8,310.1 197.6,311.7 198.4,313.1 199.1,314.5 199.8,315.9 200.5,317.2 201.1,318.6 201.7,320.0 202.2,321.6 202.6,323.1 203.0,324.6 203.2,326.0 203.5,327.5 203.9,329.1 204.4,330.7 205.0,332.5 205.5,333.8 206.1,335.1 206.7,336.4 207.4,337.9 208.1,339.3 208.9,340.8 209.6,342.2 210.4,343.7 211.2,345.1 211.9,346.5 212.6,347.9 213.3,349.2 214.1,350.8 215.0,352.4 215.9,354.0 216.8,355.7 217.7,357.2 218.5,358.7 219.3,360.1 220.0,361.3 220.2,361.7" stroke="#ffff00"/>
</g>
<g clip-path="url(#cp01)">
<polyline points="282.0,195.7 283.1,195.9 284.6,196.1 286.4,196.4 288.5,196.8 290.8,197.3 292.0,197.6 293.4,197.9 294.8,198.3 296.3,198.7 297.8,199.1 299.4,199.5 301.0,200.0 302.5,200.5 304.1,201.1 305.6,201.7 306.9,202.3 308.3,203.0 309.6,203.7 311.0,204.5 312.3,205.3 313.7,206.1 315.0,206.9 316.4,207.7 317.7,208.6 319.1,209.4 320.4,210.2 321.8,211.0 323.1,211.8 324.5,212.7 325.8,213.6 327.2,214.4 328.5,215.3 329.9,216.1 331.2,216.9 332.6,217.7 333.9,218.5 335.3,219.2 336.8,219.9 338.4,220.7 339.9,221.4 341.5,222.0 343.1,222.7 344.6,223.3 346.1,223.8 347.5,224.3" stroke="#ffff00"/>
<polyline points="347.5,224.3 348.9,224.8" stroke="#ffee00"/>
<polyline points="348.9,224.8 350.1,225.2" stroke="#ff8800"/>
<polyline points="350.1,225.2 352.0,225.8" stroke="#ff3300"/>
<polyline points="352.0,225.8 353.6,226.2 355.1,226.5 356.5,226.7 357.8,226.7 359.0,226.7 360.6,226.7" stroke="#ff0000"/>
<polyline points="360.6,226.7 361.9,226.5" stroke="#ff5500"/>
<polyline points="361.9,226.5 363.2,225.9" stroke="#ffaa00"/>
<polyline points="363.2,225.9 365.0,224.2 365.7,223.3 366.6,222.3 367.4,221.1 368.3,219.9" stroke="#ffff00"/>
<polyline points="368.3,219.9 369.3,218.5" stroke="#ffee00"/>
<polyline points="369.3,218.5 370.2,217.0" stroke="#ffbb00"/>
<polyline points="370.2,217.0 371.2,215.6" stroke="#ff8800"/>
<polyline points="371.2,215.6 372.2,214.0" stroke="#ff4400"/>
<polyline points="372.2,214.0 373.2,212.5 374.2,211.0 375.1,209.6 376.0,208.2 376.9,206.9 377.7,205.6 378.6,204.2 379.5,202.9 380.3,201.6 381.2,200.3 382.0,199.0" stroke="#ff0000"/>
<polyline points="382.0,199.0 382.9,197.7" stroke="#ff3300"/>
<polyline points="382.9,197.7 383.7,196.3" stroke="#ff6600"/>
<polyline points="383.7,196.3 384.5,195.0" stroke="#ff9900"/>
<polyline points="384.5,195.0 385.2,193.6" stroke="#ffcc00"/>
<polyline points="385.2,193.6 386.0,192.2 386.7,190.9 387.4,189.5 388.0,188.1 388.7,186.7 389.3,185.3 389.9,183.9 390.6,182.5 391.2,181.1 391.8,179.7 392.3,178.3 392.9,176.9 393.5,175.5 394.0,174.2 394.6,172.7 395.2,171.1 395.8,169.6 396.4,168.2 397.0,166.7 397.5,165.2 398.0,163.8 398.6,162.4 399.1,161.0 399.5,159.6 400.0,158.2 400.5,156.5 401.0,154.9 401.5,153.3 401.9,151.7 402.3,150.2 402.7,148.6 403.1,147.1 403.6,145.7 404.0,144.2 404.5,142.6 405.0,141.0 405.5,139.5 406.0,137.9 406.5,136.5 407.0,135.0 407.5,133.6 408.0,132.2 408.6,130.7 409.1,129.2 409.7,127.8 410.3,126.5 410.9,125.1 411.4,123.7 412.0,122.2 412.6,120.7 413.1,119.2 413.7,117.6 414.3,116.0 414.9,114.4 415.4,112.8 416.0,111.2 416.5,109.8 417.0,108.3 417.5,106.9 418.0,105.4 418.5,103.9 419.0,102.4 419.5,100.8 420.0,99.2 420.4,97.7 420.9,96.3 421.3,94.8 421.8,93.2 422.2,91.7 422.7,90.1 423.1,88.5 423.6,86.9 424.0,85.2 424.4,83.7 424.8,82.1 425.2,80.5 425.6,78.9 426.0,77.3 426.4,75.7 426.8,74.1 427.2,72.4 427.6,70.8 428.0,69.2 428.4,67.6 428.8,66.0 429.2,64.5 429.6,62.9 430.0,61.3 430.4,59.7 430.8,58.1 431.2,56.5 431.6,54.9 432.0,53.2 432.3,51.8 432.7,50.3 433.0,48.8 433.3,47.3 433.7,45.7 434.0,44.2 434.3,42.7 434.7,41.1 435.0,39.6 435.3,38.1 435.7,36.6 436.0,35.2 436.4,33.5 436.8,31.9 437.2,30.3 437.6,28.7 438.0,27.1 438.4,25.5 438.8,23.9 439.2,22.4 439.6,20.8 440.0,19.2 440.4,17.5 440.9,15.7 441.3,13.9 441.8,12.0 442.2,10.2 442.7,8.4 443.1,6.8 443.5,5.4 443.8,4.2 444.0,3.3" stroke="#ffff00"/>
<polyline points="282.0,95.2 283.1,95.0 284.5,94.7 286.2,94.4 288.1,94.1 290.1,93.7 292.0,93.4 293.4,93.2 294.9,92.9 296.4,92.7 297.9,92.4 299.4,92.2 301.0,92.0 302.5,91.7 304.0,91.5 305.5,91.3 307.0,91.0 308.5,90.8 310.0,90.6 311.5,90.4 313.0,90.2 314.5,89.9 316.0,89.7 317.5,89.5 319.0,89.2 320.5,89.0 322.0,88.7 323.5,88.5 325.0,88.2 326.5,88.0 328.0,87.7 329.5,87.5 331.0,87.2 332.6,87.0 334.1,86.7 335.6,86.5 337.1,86.2 338.6,85.9 340.0,85.6 341.5,85.2 343.0,84.7 344.4,84.2 345.8,83.7 347.2,83.2 348.6,82.7 350.0,82.2 351.4,81.7 352.9,81.2 354.3,80.8 355.7,80.3 357.1,79.8 358.6,79.3 360.0,78.7 361.4,78.1 362.9,77.5 364.3,76.8 365.7,76.1 367.1,75.5 368.6,74.8 370.0,74.2 371.4,73.6 372.9,73.0 374.3,72.5 375.7,72.0 377.1,71.4 378.6,70.8 380.0,70.2 381.4,69.5 382.9,68.8 384.3,68.1 385.7,67.4 387.1,66.7 388.6,65.9 390.0,65.2 391.4,64.5 392.9,63.8 394.3,63.1 395.7,62.3 397.1,61.6 398.6,60.9 400.0,60.2 401.5,59.5 403.0,58.7 404.5,58.0 406.0,57.2 407.4,56.5 408.8,55.8 410.0,55.2 411.7,54.4 413.0,53.8 414.3,53.2 416.0,52.2 417.1,51.5 418.3,50.7 419.5,49.8 420.9,48.9 422.2,47.9 423.5,47.0 424.8,46.1 426.0,45.2 427.5,44.1 428.9,43.1 430.2,42.1 431.6,41.1 432.8,40.1 434.0,39.2 435.3,38.2 436.4,37.2 437.4,36.3 438.6,35.3 440.0,34.2 441.1,33.4 442.2,32.6 443.5,31.7 444.8,30.8 446.1,29.8 447.4,28.9 448.7,28.0 450.0,27.2 451.4,26.3 452.9,25.3 454.4,24.4 455.9,23.5 457.3,22.7 458.7,21.9 460.0,21.2 461.8,20.4 463.5,19.7 465.1,19.1 466.6,18.6 468.0,18.2 470.1,17.7 471.8,17.4 473.0,17.2" stroke="#ffff00"/>
<polyline points="282.0,95.2 283.1,95.3 284.5,95.4 286.2,95.5 288.1,95.6 290.1,95.9 292.0,96.2 293.4,96.5 295.0,96.9 296.6,97.3 298.2,97.8 299.9,98.3 301.4,98.8 302.8,99.3 304.0,99.8 305.9,100.8 307.4,101.9 308.6,103.0 310.0,104.2 311.2,105.2 312.4,106.2 313.6,107.2 314.8,108.2 316.0,109.2 317.2,110.2 318.4,111.2 319.6,112.2 320.8,113.2 322.0,114.2 323.2,115.2 324.4,116.2 325.6,117.2 326.8,118.2 328.0,119.2 329.2,120.2 330.4,121.2 331.6,122.2 332.8,123.2 334.0,124.2 335.2,125.2 336.4,126.1 337.7,127.0 338.9,127.9 340.0,128.7" stroke="#ffff00"/>
<polyline points="340.0,128.7 341.7,129.7" stroke="#ffcc00"/>
<polyline points="341.7,129.7 343.4,130.6" stroke="#ff5500"/>
<polyline points="343.4,130.6 345.0,131.5 346.1,132.3 347.2,133.2 348.4,134.1 350.0,135.2 351.2,135.9 352.5,136.7" stroke="#ff0000"/>
<polyline points="352.5,136.7 353.9,137.6" stroke="#ff6600"/>
<polyline points="353.9,137.6 355.5,138.5" stroke="#ffcc00"/>
<polyline points="355.5,138.5 357.0,139.3 358.5,140.1 360.0,140.7 361.7,141.3 363.3,141.8 365.0,142.3 366.7,142.7 368.3,143.0 370.0,143.2 371.7,143.4 373.3,143.5 375.0,143.5 376.7,143.5 378.3,143.4 380.0,143.2 381.7,142.9 383.3,142.5 385.0,142.1 386.7,141.5 388.3,140.9 390.0,140.2 391.4,139.5 392.9,138.7 394.4,137.9 395.9,137.0 397.3,136.1 398.7,135.1 400.0,134.2 401.3,133.3 402.5,132.3 403.7,131.3 404.8,130.3 405.9,129.3 407.0,128.3 408.0,127.2 409.1,125.9 410.1,124.7 411.1,123.4 412.1,122.1 413.0,120.7 414.0,119.2 414.9,117.9 415.7,116.5 416.6,115.2 417.4,113.7 418.3,112.3 419.1,110.8 420.0,109.2 420.8,107.8 421.5,106.4 422.2,104.9 423.0,103.4 423.8,101.9 424.5,100.3 425.2,98.8 426.0,97.2 426.7,95.8 427.3,94.4 428.0,93.0 428.7,91.5 429.3,90.1 430.0,88.6 430.7,87.2 431.3,85.7 432.0,84.2 432.6,82.8 433.2,81.5 433.8,80.1 434.4,78.7 435.0,77.3 435.6,75.8 436.2,74.4 436.8,73.0 437.4,71.6 438.0,70.2 438.6,68.8 439.2,67.4 439.8,65.9 440.4,64.5 441.0,63.0 441.6,61.6 442.2,60.2 442.8,58.8 443.4,57.5 444.0,56.2 444.8,54.7 445.5,53.2 446.2,51.8 447.0,50.4 447.8,49.0 448.5,47.7 449.2,46.5 450.0,45.2 450.9,43.8 451.7,42.5 452.6,41.2 453.4,39.9 454.3,38.6 455.1,37.4 456.0,36.2 457.0,34.8 458.0,33.4 459.1,32.0 460.1,30.7 461.1,29.4 462.0,28.2 463.0,26.8 464.0,25.6 465.0,24.4 466.0,23.2 467.0,22.2 468.6,21.0 470.3,19.8 471.9,18.9 473.0,18.2" stroke="#ffff00"/>
<polyline points="282.0,153.7 283.1,153.7 284.5,153.7 286.2,153.7 288.1,153.7 290.1,153.7 292.0,153.7 293.4,153.7 294.9,153.6 296.4,153.5 298.0,153.5 299.6,153.4 301.1,153.3 302.6,153.3 304.0,153.2 305.8,153.1 307.6,153.1 309.4,153.0 311.0,152.9 312.6,152.8 314.0,152.7 315.7,152.5 317.0,152.4 318.3,152.1 320.0,151.7 321.2,151.3 322.6,150.9 324.0,150.4 325.5,149.9 327.0,149.3 328.5,148.7 330.0,148.2 331.5,147.6 333.0,147.0 334.5,146.4 336.1,145.8 337.5,145.2 338.8,144.7" stroke="#ffff00"/>
<polyline points="338.8,144.7 340.0,144.2" stroke="#dddd22"/>
<polyline points="340.0,144.2 342.0,143.5" stroke="#777788"/>
<polyline points="342.0,143.5 343.4,142.9 345.0,142.2 346.5,141.4 348.0,140.4 349.5,139.4" stroke="#0000ff"/>
<polyline points="349.5,139.4 351.0,138.2" stroke="#777788"/>
<polyline points="351.0,138.2 352.0,137.1 353.0,136.0 354.0,134.8 355.0,133.5 356.0,132.2 356.9,131.1 357.9,130.1 358.8,128.9 359.8,127.8 360.9,126.6 362.0,125.2 362.9,124.1 363.9,122.9 364.9,121.7 365.9,120.4 366.9,119.1 368.0,117.8 369.0,116.5 370.0,115.2 371.0,114.0 372.0,112.7 373.0,111.5 374.0,110.3 375.0,109.0 376.0,107.8 377.0,106.5 378.0,105.2 378.9,104.0 379.8,102.8 380.7,101.6 381.6,100.4 382.4,99.1 383.3,97.9 384.2,96.7 385.1,95.4 386.0,94.2 386.9,93.0 387.8,91.7 388.7,90.4 389.7,89.1 390.6,87.8 391.5,86.6 392.4,85.4 393.2,84.2 394.0,83.2 395.1,81.8 396.1,80.6 397.0,79.6 397.9,78.5 398.9,77.4 400.0,76.2 400.9,75.2 401.9,74.0 402.9,72.9 404.0,71.7 405.1,70.5 406.1,69.4 407.1,68.2 408.0,67.2 409.1,65.9 410.1,64.7 411.1,63.6 412.1,62.5 413.0,61.3 414.0,60.2 415.0,59.0 416.0,57.8 417.0,56.6 418.0,55.4 419.0,54.3 420.0,53.2 421.2,52.0 422.3,51.0 423.5,50.0 424.7,49.1 426.0,48.2 427.4,47.4 429.0,46.6 430.6,45.9 432.2,45.3 434.0,44.7 435.5,44.3 437.1,43.9 438.8,43.5 440.4,43.2 442.2,43.0 444.0,42.7 445.4,42.5 446.7,42.4 448.1,42.2 449.6,42.1 451.0,42.0 452.6,41.9 454.2,41.8 456.0,41.7 457.4,41.6 459.0,41.6 460.7,41.5 462.5,41.5 464.3,41.4 466.1,41.4 467.9,41.3 469.5,41.3 470.9,41.3 472.1,41.2 473.0,41.2" stroke="#ffff00"/>
<polyline points="282.0,255.7 283.1,255.6 284.6,255.4 286.4,255.3 288.5,255.0 290.8,254.7 292.0,254.5 293.4,254.3" stroke="#ffff00"/>
<polyline points="293.4,254.3 294.8,254.1" stroke="#ffcc00"/>
<polyline points="294.8,254.1 296.3,253.9" stroke="#ff8800"/>
<polyline points="296.3,253.9 297.8,253.7 299.4,253.4 301.0,253.2 302.5,252.9 304.1,252.5" stroke="#ff6600"/>
<polyline points="304.1,252.5 305.6,252.2" stroke="#ff7700"/>
<polyline points="305.6,252.2 307.1,251.8" stroke="#ffbb00"/>
<polyline points="307.1,251.8 308.6,251.5 310.0,251.1 311.5,250.6 313.0,250.2 314.5,249.7 316.0,249.3 317.4,248.7 318.9,248.2 320.4,247.6 321.8,247.0 323.1,246.4 324.5,245.8 325.8,245.1 327.2,244.4 328.5,243.7 329.9,243.0 331.2,242.3 332.6,241.6 333.9,240.9 335.3,240.2 336.7,239.5 338.0,238.8 339.4,238.1 340.8,237.4 342.2,236.8 343.6,236.1 344.9,235.4 346.3,234.7" stroke="#ffff00"/>
<polyline points="346.3,234.7 347.6,234.1" stroke="#777788"/>
<polyline points="347.6,234.1 348.9,233.4 350.1,232.8 351.8,232.0" stroke="#0000ff"/>
<polyline points="351.8,232.0 353.4,231.2" stroke="#1111ee"/>
<polyline points="353.4,231.2 355.0,230.4" stroke="#cccc33"/>
<polyline points="355.0,230.4 356.6,229.7 358.1,229.0 359.5,228.3 360.8,227.6 362.0,226.9 363.5,225.9 364.7,225.1 365.7,224.3 366.8,223.3 368.0,222.2 369.0,221.2 370.1,220.1 371.3,218.9 372.5,217.7 373.7,216.5 374.8,215.3 376.0,214.2 377.1,213.2 378.3,212.2 379.4,211.2 380.6,210.2 381.7,209.2 382.9,208.2 384.0,207.2 385.1,206.1 386.3,205.0 387.4,203.9 388.6,202.8 389.7,201.7 390.9,200.5 392.0,199.2 393.0,198.1 394.0,196.9 395.0,195.7 396.0,194.5 397.0,193.3 398.0,192.0 399.0,190.6 400.0,189.2 400.8,188.0 401.6,186.8 402.4,185.5 403.2,184.2 404.0,182.9 404.8,181.5 405.6,180.2 406.4,178.8 407.2,177.5 408.0,176.2 408.8,174.9 409.6,173.6 410.3,172.3 411.1,171.0 411.9,169.7 412.7,168.4 413.5,167.1 414.3,165.8 415.1,164.5 416.0,163.2 416.9,161.9 417.9,160.6 418.9,159.2 419.9,157.9 420.9,156.5 421.9,155.2 422.9,153.9 424.0,152.6 425.0,151.4 426.0,150.2 427.1,149.0 428.2,147.8 429.3,146.6 430.3,145.5 431.4,144.5 432.5,143.4 433.6,142.4 434.8,141.3 436.0,140.2 437.1,139.2 438.3,138.2 439.5,137.1 440.7,136.1 441.9,135.0 443.1,134.0 444.3,133.0 445.6,132.0 446.8,131.1 448.0,130.2 449.3,129.3 450.6,128.4 452.0,127.5 453.3,126.7 454.6,125.9 455.9,125.2 457.3,124.5 458.6,123.8 460.0,123.2 461.7,122.6 463.5,122.0 465.4,121.5 467.2,121.1 469.0,120.7 470.6,120.3 472.0,120.0 473.0,119.8" stroke="#ffff00"/>
<polyline points="281.6,257.2 282.5,257.5 283.5,257.9 284.8,258.4 286.2,259.0 287.8,259.6 289.4,260.2 291.1,260.8 292.8,261.5 294.5,262.2 296.2,262.9 297.8,263.5 299.3,264.2 300.7,264.8 302.1,265.4 303.5,266.1 304.9,266.7 306.3,267.3 307.7,267.9 309.1,268.6 310.5,269.3 311.8,270.0 313.2,270.8 314.6,271.6 316.0,272.5 317.2,273.3 318.4,274.1 319.6,275.0 320.8,275.9 322.0,276.8 323.2,277.7 324.4,278.7 325.5,279.7 326.7,280.7 327.9,281.7 329.1,282.7 330.3,283.8 331.5,284.8 332.7,285.9 333.8,286.9 334.9,288.0 336.0,289.0 337.1,290.1 338.2,291.2 339.3,292.3 340.4,293.4 341.6,294.6 342.7,295.7 343.8,296.8 344.9,298.0 346.0,299.1 347.1,300.3 348.2,301.4 349.3,302.5 350.4,303.6 351.5,304.7 352.6,305.8 353.7,306.9 354.9,307.9 356.0,309.0 357.1,310.1 358.2,311.2 359.3,312.3 360.4,313.4 361.5,314.5 362.7,315.6 363.8,316.8 364.9,318.0 366.0,319.2 367.0,320.3 368.0,321.4 368.9,322.5 369.9,323.6 370.9,324.8 371.9,325.9 372.9,327.1 373.9,328.3 374.8,329.5 375.8,330.7 376.8,331.9 377.8,333.1 378.8,334.3 379.8,335.5 380.7,336.7 381.7,338.0 382.7,339.2 383.6,340.4 384.6,341.6 385.6,342.9 386.7,344.2 387.7,345.6 388.8,347.0 389.8,348.3 390.8,349.7 391.9,351.0 392.9,352.4 393.9,353.6 394.8,354.9 395.7,356.1 396.5,357.2 397.3,358.3 398.1,359.2 398.7,360.1 399.3,360.9 399.9,361.7" stroke="#ffff00"/>
<polyline points="457.1,361.7 458.3,361.2 460.0,360.7 461.6,360.4 463.3,360.1 465.2,359.9 467.1,359.7 468.9,359.5 470.6,359.4 472.0,359.3 473.0,359.2" stroke="#ffff00"/>
<polyline points="282.0,155.2 282.9,155.6 284.0,156.0 285.3,156.6 286.8,157.2 288.4,157.8 290.0,158.5 291.7,159.2 293.2,159.9" stroke="#ffff00"/>
<polyline points="293.2,159.9 294.7,160.6" stroke="#dddd22"/>
<polyline points="294.7,160.6 296.0,161.2" stroke="#bbbb44"/>
<polyline points="296.0,161.2 297.6,162.1 299.1,162.9 300.6,163.8 301.9,164.6 303.3,165.5 304.6,166.3 306.0,167.2" stroke="#aaaa66"/>
<polyline points="306.0,167.2 307.4,168.1" stroke="#bbbb44"/>
<polyline points="307.4,168.1 308.9,168.9" stroke="#dddd22"/>
<polyline points="308.9,168.9 310.3,169.8 311.7,170.6 313.1,171.5 314.6,172.3 316.0,173.2 317.4,174.0 318.9,174.9 320.3,175.7 321.7,176.6 323.1,177.4 324.6,178.3 326.0,179.2 327.2,180.0 328.5,180.9 329.8,181.7 331.0,182.6 332.2,183.5 333.5,184.4 334.8,185.3 336.0,186.2 337.3,187.1 338.5,188.1 339.8,189.1 341.1,190.1 342.4,191.1 343.6,192.1 344.8,193.1 346.0,194.2 347.2,195.3 348.3,196.4 349.4,197.5 350.5,198.6 351.6,199.8 352.6,200.9 353.6,202.1 354.5,203.2 355.5,204.5 356.3,205.7 357.1,206.9 357.9,208.2 358.7,209.5 359.5,210.8 360.4,212.1 361.3,213.3 362.1,214.5 363.1,215.8 364.0,217.1 365.0,218.4 365.9,219.7 366.9,221.1 367.9,222.5 368.7,223.7 369.5,224.9 370.2,226.2 371.0,227.5 371.8,228.9 372.6,230.2 373.4,231.5 374.2,232.8 375.1,234.0 376.0,235.2 377.0,236.4 378.1,237.6 379.2,238.7 380.3,239.7 381.5,240.8 382.6,241.8 383.7,242.9 384.9,244.0 386.0,245.2 387.0,246.3 388.0,247.5 389.0,248.7 390.0,249.9 391.0,251.1 392.0,252.3 393.0,253.5 394.0,254.8 395.0,256.0 396.0,257.2 397.0,258.4 397.9,259.6 398.9,260.8 399.8,261.9 400.8,263.1 401.8,264.3 402.8,265.5 403.8,266.7 404.9,267.9 406.0,269.2 407.0,270.3 408.0,271.4 409.1,272.5 410.2,273.6 411.3,274.7 412.4,275.9 413.6,277.0 414.7,278.1 415.9,279.3 417.0,280.4 418.2,281.4 419.3,282.5 420.5,283.6 421.7,284.8 423.0,285.9 424.2,287.0 425.4,288.1 426.6,289.2 427.8,290.3 429.0,291.3 430.3,292.3 431.5,293.3 432.7,294.2 434.0,295.2 435.4,296.1 436.7,297.1 438.0,298.0 439.4,298.8 440.7,299.6 442.0,300.4 443.3,301.1 444.7,301.8 446.0,302.5 447.5,303.2 448.9,303.8 450.4,304.4 451.9,304.9 453.4,305.4 454.8,305.8 456.3,306.2 457.8,306.6 459.3,306.9 460.9,307.2 462.6,307.4 464.3,307.6 466.1,307.8 467.8,307.9 469.4,308.0 470.9,308.1 472.1,308.1 473.0,308.2" stroke="#ffff00"/>
<polyline points="282.0,195.2 283.1,195.0 284.6,194.7 286.4,194.3 288.5,193.9 290.8,193.6 292.2,193.4 293.7,193.3 295.3,193.1 297.0,193.0 298.7,192.8 300.4,192.7 302.2,192.5 303.9,192.3 305.6,192.1 307.3,191.9 308.9,191.6 310.6,191.4 312.2,191.2 313.9,190.9 315.6,190.6 317.2,190.3 318.8,190.0 320.4,189.7 322.0,189.4 323.6,189.0" stroke="#ffff00"/>
<polyline points="323.6,189.0 325.1,188.6" stroke="#888877"/>
<polyline points="325.1,188.6 326.7,188.2 328.2,187.8 329.7,187.4 331.2,187.0 332.6,186.6" stroke="#0000ff"/>
<polyline points="332.6,186.6 334.0,186.2" stroke="#777788"/>
<polyline points="334.0,186.2 335.7,185.7 337.2,185.3 338.6,184.8" stroke="#ffff00"/>
<polyline points="338.6,184.8 340.0,184.4" stroke="#ff8800"/>
<polyline points="340.0,184.4 341.5,183.9 343.1,183.3 345.0,182.7 346.2,182.3 347.5,181.8" stroke="#ff0000"/>
<polyline points="347.5,181.8 348.9,181.3" stroke="#ff8800"/>
<polyline points="348.9,181.3 350.3,180.8 351.8,180.3 353.3,179.8 354.8,179.2 356.3,178.7 357.8,178.1 359.3,177.6 360.7,177.0 362.0,176.5 363.5,175.9 365.0,175.2 366.4,174.5 367.8,173.8 369.2,173.2 370.5,172.5 371.9,171.8 373.2,171.2 374.6,170.5 376.0,169.9 377.4,169.3 378.9,168.7 380.3,168.0 381.8,167.4 383.2,166.8 384.7,166.2 386.1,165.7 387.5,165.2 388.8,164.7 390.0,164.2 391.8,163.6 393.4,163.1 394.9,162.8 396.4,162.4 398.0,161.9 400.0,161.2 401.3,160.7 402.7,160.1 404.1,159.5 405.7,158.9 407.3,158.2 408.9,157.5 410.5,156.8 412.1,156.1 413.5,155.4 414.8,154.8 416.0,154.2 417.8,153.3 419.3,152.4 420.5,151.6 421.6,150.8 422.8,150.0 424.0,149.2 425.3,148.3 426.7,147.5" stroke="#ffff00"/>
<polyline points="426.7,147.5 428.0,146.6" stroke="#ffcc00"/>
<polyline points="428.0,146.6 429.3,145.7" stroke="#ff9900"/>
<polyline points="429.3,145.7 430.7,144.9 432.0,144.2 433.5,143.5 435.0,142.8 436.5,142.2 438.1,141.7" stroke="#ff6600"/>
<polyline points="438.1,141.7 440.0,141.2" stroke="#ff7700"/>
<polyline points="440.0,141.2 441.3,140.9" stroke="#ffbb00"/>
<polyline points="441.3,140.9 442.7,140.6" stroke="#ffee00"/>
<polyline points="442.7,140.6 444.2,140.3 445.8,140.0 447.3,139.8 448.9,139.6 450.5,139.4 452.0,139.2 453.5,139.1 455.1,138.9 456.6,138.8 458.2,138.8 459.7,138.7 461.2,138.7 462.6,138.6 464.0,138.6 465.8,138.6 467.6,138.6 469.2,138.6 470.8,138.6 472.1,138.6 473.0,138.6" stroke="#ffff00"/>
</g>
<g clip-path="url(#cp02)">
<polyline points="472.5,220.2 473.4,220.1 474.5,220.0 475.9,219.9 477.4,219.8 479.0,219.7 480.7,219.5 482.5,219.4 484.3,219.2 486.1,219.1 487.9,218.9 489.6,218.7 491.2,218.6 492.7,218.4 494.0,218.2 496.0,217.9 497.7,217.5 499.3,217.1 500.7,216.7 502.1,216.3 503.4,215.9 504.7,215.5 506.0,215.2 507.7,214.8 509.3,214.4 510.9,214.1 512.4,213.8 514.1,213.5 516.0,213.2 517.4,213.0 518.8,212.8 520.3,212.6 521.8,212.4 523.4,212.2 525.0,212.1 526.7,212.0 528.3,212.0 530.0,212.2 531.4,212.5 532.9,212.8 534.4,213.3 536.0,213.9 537.6,214.4 539.2,215.0 540.7,215.6 542.2,216.2 543.6,216.6 544.8,217.0 546.0,217.2 548.1,217.4 549.7,217.2 551.0,216.8 552.4,216.3 554.0,215.6 555.4,215.0 556.8,214.3 558.4,213.4 559.9,212.5 561.4,211.7 562.8,210.9 564.0,210.2 565.6,209.2 566.9,208.5 568.2,207.8 570.0,207.2 571.2,207.0 572.6,206.8 574.1,206.7 575.6,206.5 577.2,206.4 578.9,206.2 580.5,206.0 582.0,205.6 583.5,205.1 585.1,204.6 586.7,204.1 588.2,203.5 589.8,202.8 591.3,202.0 592.7,201.2 594.0,200.2 595.1,199.2 596.1,198.1 597.1,196.8 598.1,195.5 599.0,194.2 599.9,192.9 600.6,191.6 601.4,190.3 602.0,189.2 602.9,187.5 603.5,186.1 603.9,184.7 604.4,183.1 605.0,181.2 605.5,179.9 606.0,178.5 606.6,177.1 607.1,175.5 607.7,173.9 608.3,172.2 608.9,170.6 609.5,168.9 610.0,167.2 610.4,165.7 610.9,164.1 611.3,162.5 611.7,160.8 612.1,159.2 612.4,157.6 612.8,155.9 613.2,154.3 613.6,152.7" stroke="#ffff00"/>
<polyline points="613.6,152.7 614.0,151.2" stroke="#ff5500"/>
<polyline points="614.0,151.2 614.4,149.6 614.9,148.0 615.3,146.5" stroke="#ff0000"/>
<polyline points="615.3,146.5 615.8,145.1" stroke="#ff2200"/>
<polyline points="615.8,145.1 616.2,143.6" stroke="#ffcc00"/>
<polyline points="616.2,143.6 616.7,142.1 617.1,140.5 617.6,138.9 618.0,137.2 618.3,135.8 618.7,134.4 619.0,132.9 619.4,131.4 619.7,129.9 620.1,128.3 620.4,126.8 620.7,125.2 621.1,123.7 621.4,122.1 621.7,120.6 622.0,119.2 622.3,117.5 622.7,115.9 623.0,114.3 623.3,112.7 623.6,111.1" stroke="#ffff00"/>
<polyline points="623.6,111.1 623.8,109.5" stroke="#ff8800"/>
<polyline points="623.8,109.5 624.1,107.9" stroke="#ff6600"/>
<polyline points="624.1,107.9 624.4,106.4" stroke="#ffaa00"/>
<polyline points="624.4,106.4 624.7,104.8 625.0,103.2 625.3,101.6 625.6,100.0 625.9,98.3 626.2,96.7 626.5,95.1 626.8,93.5 627.1,91.9 627.4,90.3 627.7,88.7 628.0,87.2 628.3,85.5 628.7,83.9 629.0,82.2 629.4,80.6 629.7,79.0 630.1,77.5 630.4,76.0 630.7,74.6 631.0,73.2 631.4,71.5 631.6,70.1 631.9,68.9 632.1,67.5 632.5,65.7 633.0,63.2 633.2,62.0 633.5,60.8 633.8,59.4 634.1,57.9 634.4,56.3 634.7,54.7 635.0,53.0 635.4,51.3 635.7,49.6 636.1,47.9 636.4,46.1 636.8,44.4 637.1,42.8 637.4,41.2 637.7,39.7 638.0,38.2 638.3,36.5 638.7,34.8 639.0,33.1 639.3,31.5 639.7,29.9 640.0,28.3 640.3,26.8 640.6,25.3 640.9,23.8 641.2,22.4 641.4,21.0 641.7,19.6 642.0,18.2 642.4,16.4 642.7,14.6 643.1,12.9 643.4,11.1 643.8,9.4 644.1,7.9 644.4,6.4 644.6,5.2 644.8,4.1 645.0,3.3" stroke="#ffff00"/>
<polyline points="472.5,268.2 473.4,268.3 474.6,268.5 476.1,268.7 477.6,268.9 479.4,269.2 481.2,269.5 483.0,269.8 484.9,270.1 486.7,270.4 488.4,270.8 490.0,271.2 491.5,271.6 493.0,272.1 494.5,272.6 496.0,273.1 497.5,273.6 498.9,274.2 500.4,274.7 501.8,275.3 503.2,275.9 504.6,276.6 506.0,277.2 507.5,277.9 508.9,278.6 510.4,279.4 511.8,280.1 513.2,280.9 514.5,281.7 515.9,282.5 517.3,283.4 518.6,284.3 520.0,285.2 521.2,286.0 522.4,286.9 523.6,287.8 524.7,288.6 525.9,289.5 527.1,290.5 528.2,291.5 529.4,292.5 530.7,293.6 532.0,294.7 533.3,295.9 534.3,296.8 535.4,297.8 536.4,298.8 537.5,299.9 538.6,301.0 539.7,302.1 540.9,303.2 542.0,304.4 543.2,305.6 544.3,306.7 545.5,307.9 546.6,309.1 547.7,310.2 548.9,311.4 550.0,312.5 551.1,313.6 552.2,314.7 553.3,315.9 554.5,317.0 555.6,318.1 556.7,319.3 557.8,320.4 558.9,321.5 560.0,322.6 561.1,323.8 562.3,324.9 563.4,326.0 564.5,327.1 565.6,328.1 566.7,329.2 567.9,330.3 569.1,331.5 570.3,332.6 571.4,333.7 572.6,334.8 573.8,335.9 575.0,337.0 576.2,338.1 577.4,339.2 578.6,340.2 579.7,341.2 580.9,342.2 582.1,343.2 583.3,344.2 584.6,345.2 585.9,346.2 587.2,347.2 588.6,348.1 589.9,349.0 591.3,350.0 592.6,350.8 593.9,351.7 595.2,352.6 596.5,353.4 597.7,354.3 598.9,355.1 600.0,355.9 601.4,357.0 602.9,358.1 604.3,359.2 605.7,360.2 607.0,361.3 607.6,361.7" stroke="#ffff00"/>
<polyline points="472.5,265.2 473.4,265.1 474.6,264.9 476.1,264.7 477.6,264.5 479.4,264.2 481.2,264.0 483.0,263.7 484.9,263.4 486.7,263.0 488.4,262.6 490.0,262.2 491.5,261.7 493.0,261.2 494.5,260.7 496.0,260.1 497.5,259.5 498.9,258.9 500.4,258.2 501.8,257.6 503.2,257.0 504.6,256.3 506.0,255.7 507.5,255.0 509.0,254.4 510.5,253.7 511.9,253.1 513.4,252.4 514.8,251.7 516.2,251.0 517.5,250.3 518.8,249.6 520.0,248.8 521.4,247.8 522.6,246.8 523.8,245.8 524.9,244.7 526.0,243.6 527.2,242.5 528.5,241.4 530.0,240.2 531.1,239.4 532.4,238.5 533.7,237.5 535.1,236.5 536.5,235.5 538.0,234.5 539.5,233.5 540.9,232.6 542.3,231.8 543.6,231.1 544.9,230.6 546.0,230.2 548.0,229.9 549.8,230.2 551.4,230.8 552.9,231.6 554.4,232.4 556.0,233.2 557.4,233.8 558.8,234.5 560.2,235.3 561.6,236.0 563.0,236.8 564.5,237.5 566.0,238.2 567.4,238.8 569.0,239.4 570.5,240.0 572.1,240.6 573.7,241.1 575.2,241.6 576.7,241.9 578.0,242.2 579.9,242.4 581.5,242.5 583.0,242.3 584.5,241.9 586.0,241.2 587.2,240.5 588.3,239.6 589.5,238.6 590.7,237.4 591.9,236.1 593.0,234.7 594.0,233.2 594.7,232.1 595.3,230.8 596.0,229.6 596.6,228.2 597.2,226.8 597.8,225.4 598.3,223.9 598.9,222.4 599.4,220.8 600.0,219.2 600.5,217.9 600.9,216.5 601.3,215.1 601.7,213.6 602.2,212.2 602.6,210.7 603.0,209.2 603.4,207.6 603.8,206.1 604.2,204.5 604.6,202.9 605.0,201.2 605.3,199.9 605.7,198.5 606.0,197.1 606.3,195.7 606.6,194.2 606.9,192.8 607.2,191.3 607.6,189.8 607.9,188.3 608.2,186.8 608.5,185.3 608.9,183.7 609.2,182.2 609.6,180.7 610.0,179.2 610.4,177.8 610.8,176.3 611.2,174.8 611.6,173.3 612.0,171.8 612.5,170.3 612.9,168.7" stroke="#ffff00"/>
<polyline points="612.9,168.7 613.4,167.2" stroke="#bbbb44"/>
<polyline points="613.4,167.2 613.8,165.7" stroke="#1111ee"/>
<polyline points="613.8,165.7 614.3,164.2 614.7,162.7 615.2,161.3" stroke="#0000ff"/>
<polyline points="615.2,161.3 615.6,159.9" stroke="#888877"/>
<polyline points="615.6,159.9 616.0,158.5 616.3,157.2 616.7,155.9 617.2,154.1 617.6,152.5 618.1,151.0 618.5,149.5 618.9,148.0 619.3,146.6" stroke="#ffff00"/>
<polyline points="619.3,146.6 619.6,145.2" stroke="#999966"/>
<polyline points="619.6,145.2 620.0,143.8 620.3,142.3 620.7,140.8" stroke="#0000ff"/>
<polyline points="620.7,140.8 621.0,139.2" stroke="#bbbb44"/>
<polyline points="621.0,139.2 621.3,137.8 621.5,136.3 621.8,134.7 622.0,133.2 622.2,131.6 622.5,130.0 622.7,128.4 622.9,126.8 623.1,125.2 623.3,123.6 623.6,122.1 623.8,120.6 624.0,119.2 624.3,117.4 624.6,115.7 624.9,114.1 625.2,112.5 625.5,110.9 625.8,109.4" stroke="#ffff00"/>
<polyline points="625.8,109.4 626.1,107.9" stroke="#cccc33"/>
<polyline points="626.1,107.9 626.4,106.3" stroke="#4444bb"/>
<polyline points="626.4,106.3 626.7,104.8" stroke="#2222dd"/>
<polyline points="626.7,104.8 627.0,103.2" stroke="#777788"/>
<polyline points="627.0,103.2 627.3,101.6 627.6,100.0 627.9,98.3 628.2,96.7 628.5,95.1 628.8,93.5 629.1,91.9 629.4,90.3 629.7,88.7 630.0,87.2 630.3,85.5 630.7,83.9 631.0,82.2 631.4,80.6 631.7,79.0 632.1,77.5 632.4,76.0 632.7,74.6 633.0,73.2 633.3,71.6 633.6,70.4 633.8,69.3 634.0,68.0 634.4,66.1 635.0,63.2 635.2,62.1 635.5,60.9 635.7,59.6 636.0,58.3 636.3,56.8 636.6,55.2 636.9,53.6 637.3,52.0 637.6,50.3 638.0,48.5 638.3,46.8 638.7,45.1 639.1,43.3 639.4,41.6 639.8,39.9 640.1,38.2 640.5,36.6 640.8,35.1 641.1,33.6 641.4,32.2 641.7,30.9 642.1,28.9 642.6,27.0 643.0,25.2 643.4,23.5 643.9,21.8 644.3,20.2 644.7,18.6 645.0,17.2 645.4,15.8 645.7,14.5 646.1,13.2 646.4,12.0 646.7,10.9 647.4,8.3 648.0,6.3 648.6,4.7 649.0,3.5 649.0,3.3" stroke="#ffff00"/>
<polyline points="472.5,261.2 473.4,261.0 474.6,260.9 476.1,260.7 477.6,260.4 479.4,260.2 481.2,259.9 483.0,259.6 484.9,259.2 486.7,258.9 488.4,258.6 490.0,258.2 491.5,257.8 493.0,257.4 494.5,257.0 496.0,256.5 497.5,256.0 498.9,255.5 500.4,255.1 501.8,254.6 503.2,254.1 504.6,253.6 506.0,253.2 507.7,252.6 509.4,252.1 511.0,251.4 512.7,250.8 514.3,250.3 515.9,249.7 517.3,249.3 518.7,249.0 520.0,248.8 521.9,248.7 523.4,248.9 524.8,249.4 526.2,250.1 528.0,251.2 529.0,251.9 530.2,252.8 531.4,253.7 532.6,254.8 533.9,255.9 535.2,257.1 536.4,258.2 537.7,259.3 538.9,260.3 540.0,261.2 541.3,262.2 542.5,263.0 543.6,263.7 544.7,264.4 545.8,265.2 547.1,266.0 548.4,267.0 550.0,268.2 551.0,269.0 552.0,269.8 553.1,270.7 554.3,271.7 555.5,272.7 556.7,273.7 557.9,274.7 559.2,275.8 560.5,276.9 561.7,278.0 563.0,279.1 564.3,280.3 565.5,281.4 566.7,282.5 567.8,283.6 568.9,284.6 570.0,285.7 571.1,286.9 572.2,288.0 573.3,289.2 574.4,290.3 575.6,291.5 576.7,292.6 577.8,293.8 578.9,294.9 580.0,296.0 581.1,297.1 582.2,298.2 583.3,299.2 584.5,300.3 585.7,301.3 586.9,302.3 588.1,303.3 589.3,304.3 590.5,305.2 591.6,306.2 592.8,307.1 594.0,308.0 595.2,308.9 596.4,309.8 597.6,310.7 598.8,311.6 600.0,312.5 601.3,313.5 602.6,314.4 603.9,315.4 605.1,316.3 606.4,317.3 607.7,318.2 609.0,319.1 610.3,320.0 611.6,320.9 612.9,321.8 614.1,322.6 615.4,323.4 616.7,324.2 618.1,325.0 619.5,325.8 620.9,326.6 622.2,327.3 623.6,328.0 625.0,328.7 626.4,329.3 627.8,330.0 629.1,330.6 630.5,331.2 631.9,331.9 633.3,332.5 634.8,333.2 636.4,333.9 637.9,334.6 639.5,335.3 641.1,335.9 642.6,336.6 644.2,337.2 645.7,337.8 647.2,338.3 648.6,338.8 650.0,339.2 651.7,339.6 653.5,339.9 655.2,340.2 657.0,340.4 658.6,340.5 660.1,340.6 661.5,340.7 662.6,340.8 663.5,340.9" stroke="#ffff00"/>
<polyline points="472.5,230.2 473.4,230.2 474.6,230.3 476.1,230.3 477.6,230.4 479.4,230.4 481.2,230.5 483.0,230.6 484.9,230.7 486.7,230.8 488.4,231.0 490.0,231.2 491.7,231.5 493.4,231.8 495.0,232.1 496.7,232.5 498.3,232.9 500.0,233.3 501.5,233.8 503.1,234.2 504.6,234.7 506.0,235.2 507.7,235.9 509.4,236.7 511.1,237.5 512.7,238.3 514.2,239.2 515.6,239.9 516.9,240.6 518.0,241.2 520.1,242.3 521.4,243.1 523.0,243.2 524.2,243.0 525.5,242.6 526.9,241.9 528.4,241.1 530.0,240.2 531.1,239.5 532.3,238.7 533.5,237.9 534.8,237.0 536.1,236.0 537.4,235.1 538.7,234.1 540.0,233.2 541.2,232.3 542.5,231.4 543.8,230.4 545.0,229.5 546.2,228.5 547.5,227.5 548.8,226.6 550.0,225.6 551.2,224.6 552.5,223.7" stroke="#ffff00"/>
<polyline points="552.5,223.7 553.8,222.7" stroke="#ff9900"/>
<polyline points="553.8,222.7 555.0,221.7 556.2,220.7 557.5,219.7" stroke="#ff6600"/>
<polyline points="557.5,219.7 558.8,218.7" stroke="#ff7700"/>
<polyline points="558.8,218.7 560.0,217.6" stroke="#ffdd00"/>
<polyline points="560.0,217.6 561.1,216.6 562.2,215.6 563.3,214.6 564.4,213.6 565.6,212.6 566.7,211.5 567.8,210.4 568.9,209.3 570.0,208.2 571.1,207.0 572.2,205.8 573.3,204.6 574.4,203.3 575.6,202.0 576.7,200.8 577.8,199.5 578.9,198.3 580.0,197.2 581.2,196.0 582.5,194.8 583.8,193.6 585.0,192.5 586.2,191.4 587.5,190.3 588.8,189.3 590.0,188.2 591.3,187.1 592.5,186.1 593.8,185.0 595.1,183.9 596.4,182.9 597.6,182.0 598.8,181.0 600.0,180.2 601.4,179.2 602.7,178.3 604.0,177.4 605.3,176.7 606.6,175.9 608.0,175.2 609.3,174.6 610.7,174.0 612.0,173.4 613.5,172.9 614.9,172.3 616.4,171.8 618.0,171.2 619.4,170.7 620.9,170.2 622.4,169.7 623.9,169.1 625.4,168.6 627.0,168.1 628.5,167.7 630.0,167.2 631.5,166.8 633.0,166.3 634.5,165.9 636.0,165.5 637.5,165.2 639.0,164.8 640.5,164.5 642.0,164.2 643.5,163.9 645.1,163.7 646.6,163.5 648.2,163.3 649.7,163.2 651.2,163.0 652.6,162.9 654.0,162.8 655.8,162.7 657.7,162.7 659.5,162.7 661.1,162.7 662.5,162.8 663.5,162.8" stroke="#ffff00"/>
<polyline points="596.0,174.2 596.7,173.5 597.6,172.5 598.6,171.3 599.8,170.0 601.0,168.6 602.3,167.2 603.6,165.8 604.8,164.4 606.0,163.2 607.1,162.0 608.2,160.9 609.3,159.7 610.4,158.6 611.6,157.5 612.7,156.4 613.8,155.3 614.9,154.2 616.0,153.2 617.2,152.1 618.5,150.9 619.7,149.9 620.9,148.8 622.1,147.7 623.4,146.7 624.7,145.7 626.0,144.7 627.2,143.8 628.5,142.9 629.9,142.0 631.2,141.1 632.6,140.2 633.9,139.4 635.3,138.6 636.7,137.9 638.0,137.2 639.5,136.5 641.0,135.9 642.4,135.3 643.9,134.8 645.4,134.3 646.9,133.9 648.4,133.5 650.0,133.2 651.5,133.0 653.2,132.8 654.9,132.6 656.6,132.5 658.3,132.4 659.9,132.3 661.4,132.3 662.6,132.3 663.5,132.2" stroke="#ffff00"/>
<polyline points="472.5,198.2 473.4,198.2 474.6,198.1 475.9,198.1 477.5,198.1 479.1,198.0 480.9,198.0 482.7,197.9 484.6,197.8 486.4,197.8 488.2,197.7 490.0,197.6 491.5,197.5 493.0,197.4 494.6,197.3 496.2,197.2 497.9,197.1 499.5,197.0 501.2,196.9 502.8,196.8 504.4,196.7 505.9,196.5 507.3,196.4 508.7,196.3 510.0,196.2 511.9,196.0 513.7,195.9 515.4,195.7 516.9,195.5 518.4,195.3" stroke="#ffff00"/>
<polyline points="518.4,195.3 519.7,195.2" stroke="#ffaa00"/>
<polyline points="519.7,195.2 520.9,195.0 522.0,194.8 524.1,194.4 525.4,193.9" stroke="#ff6600"/>
<polyline points="525.4,193.9 527.0,193.2" stroke="#ff9900"/>
<polyline points="527.0,193.2 528.2,192.6 529.5,191.8 530.9,190.9 532.4,190.0 534.0,189.2 535.3,188.6 536.6,188.0 538.1,187.3 539.6,186.7 541.1,186.1 542.5,185.6 544.0,185.2 545.7,184.9 547.5,184.7 549.2,184.6 551.0,184.6 552.6,184.7 554.0,184.8 555.8,185.2 557.4,185.8 558.7,186.6 560.0,187.2 561.8,188.5 564.0,189.2 565.3,189.0 566.8,188.8 568.5,188.3 570.3,187.8 572.1,187.0 574.0,186.2 575.3,185.5 576.6,184.7 577.9,183.9 579.3,182.9 580.7,182.0 582.1,181.0 583.4,180.0 584.7,179.1 586.0,178.2 587.3,177.3 588.6,176.5" stroke="#ffff00"/>
<polyline points="588.6,176.5 589.9,175.7" stroke="#ffdd00"/>
<polyline points="589.9,175.7 591.1,174.9" stroke="#ff7700"/>
<polyline points="591.1,174.9 592.3,174.1 593.5,173.3 594.8,172.3" stroke="#ff6600"/>
<polyline points="594.8,172.3 596.0,171.2" stroke="#ff8800"/>
<polyline points="596.0,171.2 597.0,170.2 598.0,169.1 599.0,167.9 600.0,166.7 601.0,165.4 602.0,164.1 603.0,162.8 604.0,161.6 605.0,160.3 606.0,159.2 607.1,158.0 608.2,156.8 609.3,155.7 610.4,154.6 611.6,153.5 612.7,152.4 613.8,151.3 614.9,150.3 616.0,149.2 617.2,148.0 618.5,146.8 619.7,145.7" stroke="#ffff00"/>
<polyline points="619.7,145.7 620.9,144.5" stroke="#ffee00"/>
<polyline points="620.9,144.5 622.1,143.4" stroke="#ffcc00"/>
<polyline points="622.1,143.4 623.4,142.3" stroke="#ffaa00"/>
<polyline points="623.4,142.3 624.7,141.2" stroke="#ff8800"/>
<polyline points="624.7,141.2 626.0,140.2 627.2,139.3 628.5,138.5 629.9,137.6 631.2,136.8 632.6,136.0 633.9,135.2 635.3,134.5 636.7,133.8 638.0,133.2" stroke="#ff6600"/>
<polyline points="638.0,133.2 639.5,132.5" stroke="#ff8800"/>
<polyline points="639.5,132.5 641.0,131.9" stroke="#ffaa00"/>
<polyline points="641.0,131.9 642.4,131.3" stroke="#ffcc00"/>
<polyline points="642.4,131.3 643.9,130.8 645.4,130.3 646.9,129.9 648.4,129.5 650.0,129.2 651.5,129.0 653.2,128.8 654.9,128.6 656.6,128.5 658.3,128.4 659.9,128.3 661.4,128.3 662.6,128.3 663.5,128.2" stroke="#ffff00"/>
<polyline points="528.0,198.2 528.9,198.0 530.2,197.8 531.7,197.6 533.4,197.3 535.1,197.1 536.9,196.8 538.5,196.5 540.0,196.2 541.8,195.8 543.5,195.4 545.1,195.0 546.7,194.6 548.4,194.2 550.0,193.8 551.7,193.4 553.4,192.9 555.1,192.4 556.8,192.0 558.4,191.5 560.0,191.2 561.9,190.9 563.7,190.6 565.5,190.5 566.9,190.3 568.0,190.2" stroke="#ffff00"/>
<polyline points="472.5,220.2 473.4,220.1 474.5,220.1 475.8,220.0 477.2,219.9 478.8,219.8 480.5,219.7 482.2,219.6 484.0,219.4 485.8,219.3 487.6,219.1 489.4,218.9 491.0,218.7 492.6,218.5 494.0,218.2 495.7,217.8 497.2,217.4 498.8,216.9 500.2,216.4 501.6,215.9 503.0,215.3 504.4,214.7 505.8,214.1 507.2,213.5 508.6,212.8 510.0,212.2 511.5,211.6 512.9,210.9 514.4,210.2 515.9,209.6 517.4,208.9 518.9,208.2 520.3,207.4 521.8,206.7 523.2,205.9 524.6,205.0 526.0,204.2 527.4,203.3 528.7,202.4 530.1,201.4 531.4,200.3 532.7,199.3 534.0,198.2 535.3,197.2 536.5,196.1 537.7,195.1 538.9,194.1 540.0,193.2 541.4,192.0 542.8,190.8 544.0,189.7 545.2,188.6 546.4,187.5 547.6,186.4 548.8,185.3" stroke="#ffff00"/>
<polyline points="548.8,185.3 550.0,184.2" stroke="#ffdd00"/>
<polyline points="550.0,184.2 551.2,183.1 552.5,182.0 553.8,180.9 555.0,179.8" stroke="#ff6600"/>
<polyline points="555.0,179.8 556.2,178.6" stroke="#ffaa00"/>
<polyline points="556.2,178.6 557.5,177.5 558.8,176.4 560.0,175.2 561.1,174.1 562.2,173.1 563.3,172.0 564.4,170.9 565.5,169.8 566.6,168.7 567.7,167.6 568.8,166.4 570.0,165.2 571.1,164.1 572.1,163.0 573.2,161.8 574.2,160.6 575.3,159.4 576.4,158.2 577.5,157.0 578.7,155.8 579.8,154.5 581.0,153.2 582.0,152.1 583.0,151.0 584.0,149.9 585.1,148.8 586.1,147.7 587.2,146.6 588.3,145.4 589.4,144.2 590.5,143.0 591.6,141.8 592.8,140.5 594.0,139.2 594.9,138.2 595.9,137.1 596.9,136.0 597.9,134.8 599.0,133.7 600.0,132.5 601.1,131.3 602.2,130.1 603.3,128.9 604.3,127.7 605.3,126.5 606.4,125.4 607.3,124.3 608.3,123.2 609.2,122.2 610.0,121.2 611.3,119.7 612.5,118.3 613.6,117.0 614.7,115.7 615.8,114.5 616.7,113.4 617.6,112.2 618.5,111.2 619.3,110.2 620.0,109.2 621.1,107.6 621.6,106.3 622.1,105.2 622.8,103.9 624.0,102.2 624.8,101.2 625.7,100.1 626.7,98.9 627.9,97.6 629.0,96.3 630.2,94.9 631.4,93.6 632.7,92.4 633.8,91.2 635.0,90.1 636.0,89.2 637.5,88.0 639.0,87.0 640.4,86.2 641.8,85.5 643.2,84.9 644.6,84.3 646.0,83.7 647.7,83.0 649.4,82.4 651.2,81.9 652.9,81.4 654.5,81.0 656.0,80.7 657.8,80.4 659.5,80.3 661.2,80.2 662.5,80.2 663.5,80.2" stroke="#ffff00"/>
<polyline points="472.5,156.2 473.4,156.2 474.6,156.2 475.9,156.2 477.5,156.2 479.1,156.3 480.9,156.3 482.7,156.3 484.6,156.3 486.4,156.3 488.2,156.2 490.0,156.2 491.5,156.2 492.9,156.1 494.4,156.1 496.0,156.0 497.5,156.0 499.1,155.9 500.6,155.9 502.2,155.8 503.8,155.7 505.3,155.6 506.9,155.5 508.5,155.3 510.0,155.2 511.5,155.0 513.1,154.9 514.6,154.7 516.2,154.5 517.7,154.3 519.2,154.1 520.8,153.9 522.3,153.7 523.8,153.4 525.4,153.1 526.9,152.8 528.5,152.5 530.0,152.2 531.5,151.8 533.1,151.4 534.6,151.0 536.2,150.6 537.7,150.1 539.2,149.6 540.8,149.1 542.3,148.6 543.8,148.1 545.4,147.6 546.9,147.2 548.5,146.7 550.0,146.2 551.5,145.7 553.1,145.3 554.7,144.8 556.3,144.4 557.9,143.9 559.5,143.4 561.0,143.0 562.6,142.5 564.1,142.0 565.7,141.6 567.1,141.1 568.6,140.7 570.0,140.2 571.6,139.7 573.2,139.1 574.7,138.6 576.2,138.0" stroke="#ffff00"/>
<polyline points="576.2,138.0 577.7,137.5" stroke="#ffcc00"/>
<polyline points="577.7,137.5 579.1,136.9 580.5,136.4 581.9,135.8" stroke="#ff6600"/>
<polyline points="581.9,135.8 583.3,135.3" stroke="#ff9900"/>
<polyline points="583.3,135.3 584.6,134.7 586.0,134.2 587.5,133.6 588.9,133.0 590.3,132.3 591.7,131.7 593.1,131.0 594.5,130.4 595.9,129.8 597.2,129.2 598.6,128.7 600.0,128.2" stroke="#ffff00"/>
<polyline points="600.0,128.2 601.6,127.7" stroke="#bbbb44"/>
<polyline points="601.6,127.7 603.2,127.3" stroke="#777788"/>
<polyline points="603.2,127.3 604.9,126.9" stroke="#3333cc"/>
<polyline points="604.9,126.9 606.6,126.6 608.2,126.3 609.8,126.0 611.3,125.7 612.7,125.5 614.0,125.2 616.0,124.7 617.6,124.3 619.1,124.0 620.5,123.6" stroke="#0000ff"/>
<polyline points="620.5,123.6 622.0,123.2" stroke="#2222dd"/>
<polyline points="622.0,123.2 623.5,122.8" stroke="#666699"/>
<polyline points="623.5,122.8 625.0,122.4" stroke="#aaaa55"/>
<polyline points="625.0,122.4 626.5,122.1" stroke="#dddd22"/>
<polyline points="626.5,122.1 628.1,121.7 630.0,121.2 631.3,120.9 632.7,120.5 634.2,120.1 635.8,119.7 637.3,119.3 638.9,118.9" stroke="#ffff00"/>
<polyline points="638.9,118.9 640.5,118.5" stroke="#ffee00"/>
<polyline points="640.5,118.5 642.0,118.2" stroke="#ffbb00"/>
<polyline points="642.0,118.2 643.5,117.9" stroke="#ff8800"/>
<polyline points="643.5,117.9 645.1,117.7 646.6,117.5 648.2,117.3 649.7,117.2 651.2,117.0 652.6,116.9 654.0,116.8 655.8,116.7 657.7,116.7" stroke="#ff6600"/>
<polyline points="657.7,116.7 659.5,116.7" stroke="#ff8800"/>
<polyline points="659.5,116.7 661.1,116.7" stroke="#ffbb00"/>
<polyline points="661.1,116.7 662.5,116.8" stroke="#ffee00"/>
<polyline points="662.5,116.8 663.5,116.8" stroke="#ffff00"/>
<polyline points="472.5,156.2 473.4,156.3 474.6,156.4 475.9,156.5 477.5,156.7 479.1,156.9 480.9,157.0 482.7,157.2 484.6,157.5 486.4,157.7 488.2,157.9 490.0,158.2 491.5,158.4 492.9,158.7 494.4,158.9 496.0,159.2 497.5,159.5 499.1,159.8 500.6,160.1 502.2,160.4 503.8,160.8 505.3,161.1 506.9,161.5 508.5,161.8 510.0,162.2 511.5,162.6 513.1,163.0 514.7,163.5 516.3,164.0 517.9,164.5" stroke="#ffff00"/>
<polyline points="517.9,164.5 519.5,165.0" stroke="#eeee11"/>
<polyline points="519.5,165.0 521.0,165.4 522.6,165.9" stroke="#dddd22"/>
<polyline points="522.6,165.9 524.1,166.4" stroke="#cccc33"/>
<polyline points="524.1,166.4 525.7,166.9 527.1,167.4 528.6,167.8 530.0,168.2 531.8,168.7 533.6,169.2 535.4,169.8 537.1,170.3 538.8,170.8 540.4,171.2 542.0,171.6 543.4,171.9 544.8,172.1 546.0,172.2" stroke="#cccc44"/>
<polyline points="546.0,172.2 547.9,172.2" stroke="#cccc33"/>
<polyline points="547.9,172.2 549.3,171.9 550.3,171.3" stroke="#dddd22"/>
<polyline points="550.3,171.3 551.5,170.4" stroke="#eeee22"/>
<polyline points="551.5,170.4 553.0,169.2 554.0,168.4" stroke="#eeee11"/>
<polyline points="554.0,168.4 555.0,167.5 556.1,166.4 557.3,165.2 558.5,164.0 559.7,162.8 560.9,161.5 562.0,160.3 563.0,159.2 564.0,158.2" stroke="#ffff00"/>
<polyline points="564.0,158.2 565.2,156.9" stroke="#dddd22"/>
<polyline points="565.2,156.9 566.1,155.8 567.0,154.7 567.9,153.7 568.8,152.6" stroke="#aaaa66"/>
<polyline points="568.8,152.6 569.8,151.5" stroke="#bbbb55"/>
<polyline points="569.8,151.5 571.0,150.2" stroke="#eeee11"/>
<polyline points="571.0,150.2 572.0,149.2" stroke="#ffff00"/>
<polyline points="572.0,149.2 573.0,148.3" stroke="#bbbb44"/>
<polyline points="573.0,148.3 574.2,147.2" stroke="#5555aa"/>
<polyline points="574.2,147.2 575.3,146.2 576.6,145.1 577.8,144.0 579.1,142.9 580.4,141.7 581.7,140.5" stroke="#0000ff"/>
<polyline points="581.7,140.5 583.0,139.2" stroke="#777788"/>
<polyline points="583.0,139.2 584.0,138.2" stroke="#eeee11"/>
<polyline points="584.0,138.2 585.1,137.1 586.1,135.9 587.2,134.7 588.3,133.5" stroke="#ffff00"/>
<polyline points="588.3,133.5 589.4,132.3" stroke="#ffdd00"/>
<polyline points="589.4,132.3 590.6,131.1" stroke="#ff9900"/>
<polyline points="590.6,131.1 591.7,129.9" stroke="#ff4400"/>
<polyline points="591.7,129.9 592.8,128.7 593.9,127.5 594.9,126.3 596.0,125.2 597.0,124.2 598.3,122.9 599.6,121.7 600.8,120.5 602.1,119.4" stroke="#ff0000"/>
<polyline points="602.1,119.4 603.3,118.3" stroke="#ff5500"/>
<polyline points="603.3,118.3 604.5,117.2" stroke="#ffaa00"/>
<polyline points="604.5,117.2 605.7,116.2" stroke="#ffee00"/>
<polyline points="605.7,116.2 606.8,115.1 607.9,114.2 609.0,113.2 610.3,112.0" stroke="#ffff00"/>
<polyline points="610.3,112.0 611.4,111.0" stroke="#ff8800"/>
<polyline points="611.4,111.0 612.6,109.9 613.6,108.9 614.7,108.0 615.8,107.1" stroke="#ff6600"/>
<polyline points="615.8,107.1 616.8,106.1" stroke="#ffcc00"/>
<polyline points="616.8,106.1 618.0,105.2 619.2,104.3 620.4,103.3 621.6,102.4 622.8,101.5 624.1,100.6 625.3,99.8 626.6,99.0 628.0,98.2 629.4,97.5 630.9,96.7 632.4,96.0 633.9,95.4 635.4,94.8 637.0,94.2 638.5,93.7 640.0,93.2 641.5,92.8 643.0,92.5 644.5,92.2 646.0,91.9 647.5,91.7 649.0,91.6 650.5,91.4 652.0,91.2 653.8,91.0 655.7,90.8 657.6,90.6 659.4,90.5 661.1,90.4 662.5,90.3 663.5,90.2" stroke="#ffff00"/>
</g>
<g clip-path="url(#cp10)">
<polyline points="90.0,519.9 90.9,519.7 92.0,519.4 93.3,519.1 94.8,518.7 96.4,518.3 98.1,517.9 99.9,517.4 101.7,517.0 103.4,516.5 105.2,516.0 106.8,515.4 108.3,514.9 109.8,514.4 111.2,513.9 112.6,513.3 114.0,512.7 115.4,512.1 116.8,511.5 118.1,510.9 119.5,510.3 120.9,509.6 122.2,508.9 123.6,508.3 125.0,507.6 126.4,506.9 127.8,506.2 129.2,505.5 130.7,504.7 132.1,504.0 133.5,503.2 135.0,502.4 136.4,501.6 137.7,500.9 139.1,500.1 140.4,499.3 141.7,498.6 143.2,497.7 144.6,496.8 146.0,496.0 147.4,495.1 148.8,494.2 150.1,493.4 151.3,492.5 152.6,491.7 153.8,490.8 155.0,489.9 156.4,488.9 157.8,487.8 159.1,486.7 160.4,485.6 161.6,484.5 162.8,483.4" stroke="#ffff00"/>
<polyline points="162.8,483.4 163.9,482.3" stroke="#eeee11"/>
<polyline points="163.9,482.3 165.0,481.3" stroke="#aaaa55"/>
<polyline points="165.0,481.3 166.1,480.1 167.1,478.9 168.1,477.8" stroke="#aaaa66"/>
<polyline points="168.1,477.8 169.0,476.7" stroke="#999966"/>
<polyline points="169.0,476.7 169.9,475.4" stroke="#2222dd"/>
<polyline points="169.9,475.4 170.7,474.1 171.7,472.6 172.3,471.4 173.0,470.2 173.7,468.9" stroke="#0000ff"/>
<polyline points="173.7,468.9 174.3,467.5 175.0,466.1" stroke="#666699"/>
<polyline points="175.0,466.1 175.7,464.7 176.3,463.2 177.0,461.8 177.7,460.3 178.3,458.9" stroke="#0000ff"/>
<polyline points="178.3,458.9 179.0,457.6" stroke="#2222dd"/>
<polyline points="179.0,457.6 179.7,456.2" stroke="#aaaa55"/>
<polyline points="179.7,456.2 180.3,454.9 181.0,453.5 181.7,452.2 182.3,450.8 183.0,449.4 183.7,447.9 184.3,446.3 185.0,444.6 185.5,443.3 186.0,442.0 186.5,440.6 187.0,439.2 187.4,437.8 187.9,436.3 188.4,434.8 188.9,433.3 189.4,431.7 189.9,430.2 190.3,428.7 190.8,427.2 191.2,425.7 191.7,424.3 192.1,422.7 192.5,421.2 193.0,419.6 193.4,418.1 193.8,416.6 194.2,415.0 194.6,413.5 194.9,411.9 195.3,410.4 195.7,408.9 196.0,407.3 196.3,405.8 196.7,404.3 197.0,402.7 197.3,401.1 197.5,399.5 197.8,397.9 198.1,396.3 198.3,394.7 198.6,393.1 198.8,391.5 199.0,389.9 199.3,388.4 199.5,387.0 199.7,385.6 200.0,384.3 200.4,382.5 200.8,380.8 201.2,379.2 201.6,377.7 202.0,376.2 202.4,374.8 202.7,373.5 203.1,372.2 203.3,370.9 203.6,369.0 203.9,367.2 204.0,365.4 204.2,363.9 204.3,362.6 204.3,361.7" stroke="#ffff00"/>
<polyline points="90.0,385.9 90.9,385.8 92.0,385.7 93.3,385.5 94.8,385.3 96.5,385.1 98.2,384.9 99.9,384.6 101.7,384.3 103.4,384.0 105.0,383.6 106.5,383.2 107.9,382.8 109.4,382.3 110.9,381.8 112.5,381.3 114.0,380.7 115.5,380.1 117.1,379.5 118.6,378.9 120.1,378.2 121.7,377.6 123.1,377.0 124.5,376.3 125.8,375.7 127.2,375.0 128.6,374.3 130.0,373.6 131.4,372.9 132.8,372.1 134.2,371.4 135.6,370.7 137.0,370.0 138.3,369.3 139.7,368.5 141.2,367.8 142.8,367.0 144.3,366.2 145.9,365.4 147.4,364.6 148.8,363.8 150.2,363.1 151.5,362.4 152.6,361.8 152.9,361.7" stroke="#ffff00"/>
<polyline points="90.0,385.9 90.9,386.0 92.1,386.1 93.5,386.2 95.0,386.4 96.7,386.5 98.4,386.7 100.1,387.0 101.9,387.3 103.5,387.7 105.0,388.3 106.4,388.9 107.8,389.6 109.1,390.4 110.5,391.2 111.8,392.1 113.1,393.1 114.4,394.2 115.7,395.3 117.0,396.4 118.3,397.6 119.4,398.6 120.4,399.5 121.4,400.6 122.4,401.6 123.5,402.7 124.5,403.9 125.5,405.0 126.5,406.2 127.6,407.4 128.6,408.7 129.6,410.0 130.6,411.3 131.7,412.6 132.5,413.7 133.4,414.9 134.2,416.1 135.1,417.3 135.9,418.5 136.8,419.8 137.7,421.1 138.5,422.4 139.4,423.7 140.2,425.0 141.1,426.3 141.9,427.6 142.7,428.9 143.5,430.1 144.3,431.4 145.0,432.6 145.9,434.1 146.7,435.5 147.6,437.0 148.4,438.4 149.2,439.8 150.0,441.3 150.8,442.7 151.5,444.1 152.2,445.5 152.9,446.9 153.6,448.2 154.3,449.6 155.0,450.9 155.7,452.4 156.4,453.8 157.1,455.3 157.7,456.7 158.3,458.2 158.9,459.6 159.5,461.0 160.1,462.4 160.7,463.7 161.2,465.0 161.8,466.3 162.3,467.6 163.1,469.2 163.7,470.8 164.4,472.3 165.1,473.8 165.7,475.2 166.3,476.6 167.0,478.0 167.6,479.5 168.3,480.9 169.0,482.4 169.8,483.9 170.5,485.4 171.3,486.9 172.0,488.3 172.8,489.8 173.5,491.3 174.3,492.8 175.0,494.3 175.7,495.7 176.5,497.2 177.2,498.7 177.9,500.2 178.7,501.7 179.4,503.2 180.1,504.6 180.9,506.1 181.7,507.6 182.4,508.9 183.2,510.3 184.0,511.7 184.8,513.1 185.6,514.5 186.4,515.8 187.1,517.2 187.8,518.5 188.5,519.7 189.0,520.9 189.7,522.8 190.1,524.5 190.5,526.1 190.8,527.7 191.1,529.3 191.7,530.9 192.2,532.3 192.9,533.5 193.6,534.8 194.3,536.1 195.0,537.5 195.8,539.1 196.7,540.9 197.1,542.1 197.6,543.4 198.1,544.8 198.6,546.3 199.2,547.8 199.7,549.4 200.3,551.0 200.8,552.6 201.4,554.1 201.9,555.5" stroke="#ffff00"/>
<polyline points="201.9,555.5 202.4,556.9" stroke="#ffee00"/>
<polyline points="202.4,556.9 202.9,558.2" stroke="#ff8800"/>
<polyline points="202.9,558.2 203.3,559.3" stroke="#ff6600"/>
<polyline points="203.3,559.3 204.2,561.2" stroke="#ff7700"/>
<polyline points="204.2,561.2 205.1,562.6" stroke="#ffdd00"/>
<polyline points="205.1,562.6 205.8,563.7 206.6,564.8 207.4,566.0 208.3,567.6 209.0,568.9 209.7,570.2 210.4,571.6 211.1,573.1 211.8,574.6 212.6,576.2 213.4,577.8 214.2,579.4 215.0,580.9 215.7,582.2 216.4,583.6 217.2,584.9 217.9,586.3 218.7,587.7 219.5,589.1 220.2,590.5 221.0,591.9 221.8,593.3 222.6,594.6 223.3,595.9 224.2,597.3 225.0,598.8 225.9,600.2 226.7,601.5 227.6,602.9 228.5,604.3 229.3,605.6 230.1,606.8 230.9,608.1 231.7,609.3 232.6,610.7 233.4,612.0 234.1,613.3 234.9,614.5 235.7,615.7 236.5,616.8 237.4,618.0 238.3,619.3 239.3,620.4 240.3,621.5 241.3,622.6 242.4,623.7 243.5,624.8 244.6,625.9 245.8,627.0 247.1,628.2 248.3,629.3 249.4,630.2 250.6,631.1 251.7,632.0 252.9,633.0 254.2,633.9 255.4,634.8 256.7,635.8 257.9,636.7 259.2,637.5 260.4,638.4 261.7,639.3 263.0,640.2 264.4,641.1 265.9,642.1 267.3,643.0 268.8,643.9 270.1,644.8 271.5,645.6 272.8,646.3 273.9,647.0 275.0,647.6 277.3,648.7 279.2,649.5 280.6,649.9 281.7,650.3" stroke="#ffff00"/>
<polyline points="90.0,469.3 90.9,469.0" stroke="#ffbb00"/>
<polyline points="90.9,469.0 92.0,468.8" stroke="#ff9900"/>
<polyline points="92.0,468.8 93.3,468.4 94.8,468.1 96.4,467.7 98.1,467.3 99.9,466.8 101.7,466.4 103.4,465.9" stroke="#ff6600"/>
<polyline points="103.4,465.9 105.2,465.4" stroke="#ffaa00"/>
<polyline points="105.2,465.4 106.8,464.8 108.3,464.3 109.8,463.7 111.2,463.1 112.6,462.5 114.0,461.9 115.4,461.3 116.8,460.6 118.1,459.9 119.5,459.2 120.9,458.4 122.2,457.7 123.6,456.8 125.0,455.9 126.2,455.1 127.4,454.3 128.6,453.5 129.8,452.6 131.0,451.7 132.1,450.7 133.3,449.8 134.5,448.8 135.7,447.8 136.9,446.8 138.1,445.8 139.3,444.7 140.5,443.7 141.7,442.6 142.8,441.6 143.9,440.6 145.0,439.5 146.1,438.4 147.2,437.4 148.3,436.3 149.4,435.1 150.6,434.0 151.7,432.9 152.8,431.7 153.9,430.6 155.0,429.4 156.1,428.3 157.2,427.1 158.3,425.9 159.4,424.8 160.4,423.7 161.5,422.6 162.5,421.5 163.5,420.4 164.6,419.3 165.6,418.1 166.7,417.0 167.7,415.8 168.8,414.7 169.8,413.5 170.8,412.3 171.9,411.2 172.9,410.0 174.0,408.8 175.0,407.6 176.0,406.5 177.0,405.3 178.0,404.1 179.0,402.9 180.0,401.7 181.0,400.5 182.0,399.2 183.0,398.0 184.0,396.8 185.0,395.6 186.0,394.4 187.0,393.2 188.0,392.0 188.9,390.9 189.9,389.7 190.8,388.6 191.7,387.6 192.8,386.3 194.0,385.0 195.1,383.7 196.2,382.5 197.3,381.3 198.3,380.1 199.4,379.0 200.4,377.9 201.4,376.8 202.3,375.7 203.3,374.6 204.1,373.6 205.0,372.6 206.2,371.1 207.3,369.7 208.5,368.2 209.5,366.8 210.5,365.5 211.4,364.3 212.1,363.2 212.8,362.3 213.3,361.7" stroke="#ffff00"/>
<polyline points="90.0,471.9 90.9,471.9 92.0,471.9 93.3,471.9 94.8,472.0 96.4,472.0 98.1,472.0 99.9,472.0 101.7,472.0 103.4,472.0 105.2,472.0 106.8,472.0 108.3,471.9 109.9,471.9" stroke="#ffff00"/>
<polyline points="109.9,471.9 111.5,471.9" stroke="#eeee11"/>
<polyline points="111.5,471.9 113.0,471.8" stroke="#dddd22"/>
<polyline points="113.0,471.8 114.5,471.8" stroke="#cccc33"/>
<polyline points="114.5,471.8 116.0,471.7" stroke="#bbbb44"/>
<polyline points="116.0,471.7 117.5,471.6" stroke="#aaaa55"/>
<polyline points="117.5,471.6 119.0,471.6 120.5,471.5 122.0,471.4 123.5,471.3 125.0,471.3 126.5,471.2 128.0,471.1 129.5,471.1 131.1,471.0 132.6,471.0 134.1,470.9" stroke="#aaaa66"/>
<polyline points="134.1,470.9 135.6,470.8" stroke="#aaaa55"/>
<polyline points="135.6,470.8 137.1,470.7" stroke="#bbbb44"/>
<polyline points="137.1,470.7 138.6,470.6" stroke="#cccc33"/>
<polyline points="138.6,470.6 140.2,470.4" stroke="#dddd22"/>
<polyline points="140.2,470.4 141.7,470.3" stroke="#eeee11"/>
<polyline points="141.7,470.3 143.2,470.1 144.7,469.8 146.3,469.6 147.9,469.4 149.4,469.1 151.0,468.8 152.5,468.5 154.0,468.1 155.5,467.8 156.9,467.4 158.3,466.9 160.0,466.4 161.6,465.8 163.1,465.1 164.7,464.5 166.2,463.7 167.6,463.0 169.0,462.2 170.3,461.4 171.7,460.6 173.1,459.6 174.4,458.7 175.7,457.6 176.9,456.6 178.1,455.5 179.2,454.3 180.4,453.1 181.7,451.9 182.8,450.8 183.9,449.7 185.0,448.5 186.1,447.3 187.2,446.1 188.3,444.9 189.4,443.6 190.6,442.3 191.7,440.9 192.6,439.8 193.5,438.7 194.4,437.6 195.3,436.4 196.2,435.2 197.1,434.0 198.0,432.8 198.9,431.5 199.8,430.3 200.8,428.9 201.7,427.6 202.5,426.3 203.3,425.0 204.2,423.7 205.0,422.3 205.8,420.9 206.7,419.5 207.5,418.0 208.3,416.6 209.2,415.2 210.0,413.7 210.8,412.3 211.7,410.9 212.5,409.5 213.3,408.2 214.2,406.8 215.0,405.4 215.8,404.0 216.7,402.6 217.5,401.2 218.3,399.8 219.2,398.4 220.0,397.0 220.8,395.7 221.7,394.3 222.5,392.9 223.3,391.5 224.2,390.1 225.0,388.7 225.8,387.3 226.7,385.9 227.5,384.5 228.3,383.1 229.2,381.7 230.0,380.3 230.8,379.0 231.7,377.6 232.5,376.2 233.4,374.7 234.4,373.2 235.4,371.6 236.3,370.1 237.3,368.6 238.2,367.1 239.1,365.7 239.9,364.5 240.6,363.3 241.2,362.4 241.6,361.7" stroke="#ffff00"/>
<polyline points="90.0,519.9 90.9,520.2 92.0,520.5 93.3,520.9 94.8,521.3 96.4,521.7 98.1,522.2 99.9,522.7 101.7,523.3 103.4,523.9 105.2,524.5 106.8,525.2 108.3,525.9 109.7,526.6 111.0,527.4 112.4,528.2 113.7,529.1 115.1,529.9 116.4,530.8 117.7,531.8 119.0,532.7 120.3,533.7 121.5,534.7 122.7,535.7 123.9,536.6 125.0,537.6 126.3,538.7 127.4,539.9 128.6,541.0 129.7,542.1 130.7,543.3 131.8,544.4 132.8,545.6 133.7,546.9 134.7,548.2 135.7,549.5 136.7,550.9 137.5,552.2 138.3,553.5 139.1,554.9 139.9,556.3 140.7,557.7 141.5,559.2 142.3,560.6 143.0,562.1 143.8,563.6 144.5,565.0 145.2,566.5" stroke="#ffff00"/>
<polyline points="145.2,566.5 146.0,567.9" stroke="#ff6600"/>
<polyline points="146.0,567.9 146.7,569.3 147.4,570.7 148.2,572.1 148.9,573.6" stroke="#ff0000"/>
<polyline points="148.9,573.6 149.6,574.9" stroke="#ffbb00"/>
<polyline points="149.6,574.9 150.3,576.3 150.9,577.7 151.6,579.1 152.3,580.4 153.0,581.8 153.6,583.2 154.3,584.5 155.0,585.9 155.7,587.3 156.4,588.7 157.1,590.1 157.8,591.5 158.5,592.9 159.2,594.3 159.9,595.7 160.6,597.0 161.2,598.4 161.9,599.8 162.6,601.2 163.3,602.6 164.0,604.0 164.7,605.4 165.4,606.8 166.1,608.2 166.8,609.5 167.5,610.9 168.2,612.3 168.9,613.7 169.6,615.1 170.3,616.5 171.0,617.9 171.7,619.3 172.4,620.7 173.1,622.0 173.8,623.4 174.4,624.8 175.1,626.2 175.8,627.6 176.5,629.0 177.2,630.4 177.9,631.8 178.6,633.2 179.3,634.5 180.0,635.9 180.7,637.3 181.4,638.7 182.1,640.0 182.8,641.4 183.5,642.7 184.2,644.1 184.9,645.4 185.6,646.8 186.2,648.2 186.9,649.6 187.6,651.1 188.3,652.6 188.9,653.9 189.5,655.3 190.1,656.7 190.7,658.1 191.3,659.6 191.9,661.0 192.5,662.5 193.1,664.0 193.7,665.4 194.3,666.9 194.9,668.4 195.5,669.8 196.1,671.2 196.7,672.6 197.3,674.1 197.9,675.5 198.6,677.0 199.2,678.4 199.9,679.8 200.5,681.3 201.2,682.7 201.8,684.1 202.4,685.5 203.1,686.9 203.7,688.2 204.4,689.6 205.0,690.9 205.7,692.4 206.4,693.8 207.1,695.3 207.8,696.7 208.5,698.1 209.2,699.5 209.9,700.9 210.6,702.3 211.3,703.7 212.0,705.0 212.7,706.3 213.3,707.6 214.2,709.2 215.0,710.8 215.9,712.4 216.8,714.1 217.7,715.6 218.5,717.1 219.3,718.5 220.0,719.7 220.2,720.1" stroke="#ffff00"/>
<polyline points="189.3,520.9 190.0,520.2 190.8,519.2 191.9,518.1 193.0,516.8 194.2,515.4 195.6,513.9 196.9,512.4 198.3,510.9 199.3,509.9 200.3,508.9 201.4,507.8 202.5,506.7 203.6,505.6 204.7,504.5 205.9,503.3 207.1,502.2 208.2,501.0 209.4,499.9 210.5,498.7 211.7,497.6 212.8,496.5 213.9,495.4 215.0,494.2 216.1,493.1 217.2,492.0 218.3,490.8 219.4,489.7 220.6,488.6 221.7,487.5 222.8,486.4 223.9,485.3 225.0,484.3 226.2,483.1 227.4,482.0 228.6,480.9 229.8,479.8 231.1,478.8 232.3,477.7 233.5,476.6 234.7,475.6 235.9,474.6 237.1,473.6 238.3,472.6 239.5,471.6 240.8,470.6 242.0,469.7 243.2,468.7 244.4,467.8 245.6,466.8 246.8,465.9 248.0,465.0 249.2,464.2 250.5,463.4 251.7,462.6 253.2,461.7 254.7,460.8 256.2,460.0 257.8,459.2 259.3,458.5 260.8,457.8 262.3,457.1 263.7,456.5 265.0,455.9 266.6,455.3 268.2,454.7 269.7,454.1 271.1,453.7 272.5,453.3 273.8,452.9 275.0,452.6 277.1,452.2 279.0,452.1 280.5,452.0 281.7,451.9" stroke="#ffff00"/>
<polyline points="90.0,606.9 90.8,606.6 91.8,606.2 93.0,605.7 94.3,605.2 95.8,604.6 97.3,604.0 98.9,603.4 100.6,602.7 102.2,602.0 103.8,601.4 105.4,600.7 106.9,600.0 108.3,599.3 109.8,598.5 111.2,597.8 112.6,597.0 114.0,596.2 115.4,595.3 116.8,594.5 118.1,593.7 119.5,592.8 120.9,591.9 122.2,591.1 123.6,590.2 125.0,589.3 126.3,588.4 127.6,587.6 128.9,586.7 130.2,585.8 131.6,584.9 132.9,584.0 134.2,583.1 135.5,582.2 136.8,581.2 138.0,580.3 139.3,579.4 140.5,578.5 141.7,577.6" stroke="#ffff00"/>
<polyline points="141.7,577.6 143.0,576.5" stroke="#dddd22"/>
<polyline points="143.0,576.5 144.3,575.5" stroke="#3333cc"/>
<polyline points="144.3,575.5 145.5,574.5 146.8,573.4 148.0,572.4" stroke="#0000ff"/>
<polyline points="148.0,572.4 149.1,571.3" stroke="#777788"/>
<polyline points="149.1,571.3 150.3,570.3 151.5,569.2 152.6,568.2 153.8,567.1 155.0,565.9 156.1,564.9 157.3,563.8 158.4,562.7 159.6,561.6 160.7,560.4 161.9,559.3 163.0,558.1 164.1,557.0 165.2,555.9 166.3,554.7 167.3,553.7 168.3,552.6 169.5,551.4 170.6,550.1 171.6,548.9 172.7,547.7 173.6,546.6 174.6,545.4 175.6,544.3 176.5,543.1 177.4,542.0 178.3,540.9 179.5,539.6 180.7,538.1 181.8,536.7 183.0,535.4 184.0,534.0 185.0,532.9 185.9,531.8 186.7,530.9 188.5,529.1 189.3,528.6" stroke="#ffff00"/>
<polyline points="90.0,609.3 90.9,609.4" stroke="#cccc44"/>
<polyline points="90.9,609.4 92.0,609.5" stroke="#bbbb44"/>
<polyline points="92.0,609.5 93.3,609.6" stroke="#aaaa55"/>
<polyline points="93.3,609.6 94.8,609.8 96.4,609.9 98.1,610.1 99.9,610.3 101.7,610.4 103.4,610.6 105.2,610.7 106.8,610.8 108.3,610.9" stroke="#aaaa66"/>
<polyline points="108.3,610.9 109.9,611.0" stroke="#bbbb55"/>
<polyline points="109.9,611.0 111.5,611.1" stroke="#cccc33"/>
<polyline points="111.5,611.1 113.0,611.1" stroke="#dddd22"/>
<polyline points="113.0,611.1 114.5,611.1" stroke="#eeee11"/>
<polyline points="114.5,611.1 116.0,611.1 117.5,611.1 119.0,611.1 120.5,611.1 122.0,611.1 123.5,611.0 125.0,610.9 126.5,610.9 128.1,610.8 129.6,610.6 131.2,610.5 132.8,610.4 134.3,610.2 135.9,610.1 137.4,609.9 138.8,609.7 140.3,609.5 141.7,609.3 143.3,609.0 144.9,608.7 146.5,608.3 148.0,608.0 149.5,607.6 150.9,607.2 152.3,606.8 153.7,606.4 155.0,605.9 156.6,605.3 158.1,604.7 159.5,604.1 160.9,603.4 162.2,602.7 163.6,601.8 165.0,600.9 166.2,600.1 167.5,599.2 168.8,598.2 170.0,597.2 171.2,596.1 172.5,595.0 173.8,593.8 175.0,592.6 176.0,591.6 177.0,590.5 178.0,589.3 179.0,588.2 180.0,587.0 181.0,585.8 182.0,584.5 183.0,583.3 184.0,582.1 185.0,580.9 186.0,579.8 187.0,578.6 188.1,577.4 189.1,576.2 190.1,575.0 191.1,573.8 192.1,572.6 193.1,571.5 194.1,570.4 195.0,569.3 196.1,568.0 197.2,566.7 198.2,565.5 199.3,564.4 200.3,563.2 201.3,562.0" stroke="#ffff00"/>
<polyline points="201.3,562.0 202.3,560.7" stroke="#dddd22"/>
<polyline points="202.3,560.7 203.3,559.3 204.2,558.1 205.0,556.9" stroke="#0000ff"/>
<polyline points="205.0,556.9 205.8,555.6" stroke="#4444bb"/>
<polyline points="205.8,555.6 206.6,554.3 207.4,553.0 208.2,551.7 209.0,550.3 209.9,548.9 210.8,547.4 211.7,545.9 212.4,544.7 213.2,543.4 214.0,542.0 214.8,540.7 215.6,539.3 216.5,537.9 217.3,536.5 218.1,535.1 219.0,533.6 219.9,532.2 220.8,530.7 221.7,529.3 222.4,528.0 223.2,526.7 224.1,525.4 224.9,524.1 225.7,522.8 226.6,521.4 227.4,520.1 228.2,518.8 229.1,517.4 230.0,516.1 230.8,514.8 231.7,513.5 232.5,512.2 233.3,510.9 234.2,509.6 235.1,508.3 236.1,507.0 237.0,505.7 237.9,504.4 238.8,503.1 239.7,501.9 240.6,500.6 241.5,499.3 242.4,498.1 243.3,496.8 244.2,495.5 245.0,494.3 245.9,492.9 246.8,491.5 247.6,490.0 248.5,488.6 249.3,487.2 250.1,485.7 250.9,484.3 251.7,482.9 252.5,481.5 253.4,480.2 254.2,478.9 255.0,477.6 255.9,476.2 256.8,474.9 257.7,473.6 258.6,472.3 259.5,471.0 260.5,469.8" stroke="#ffff00"/>
<polyline points="260.5,469.8 261.4,468.6" stroke="#dddd22"/>
<polyline points="261.4,468.6 262.3,467.5" stroke="#aaaa66"/>
<polyline points="262.3,467.5 263.2,466.3" stroke="#666699"/>
<polyline points="263.2,466.3 264.1,465.3 265.0,464.3 266.3,463.0 267.6,461.7 268.9,460.6 270.2,459.5" stroke="#4444cc"/>
<polyline points="270.2,459.5 271.5,458.5" stroke="#4444bb"/>
<polyline points="271.5,458.5 272.7,457.5" stroke="#888877"/>
<polyline points="272.7,457.5 273.9,456.7" stroke="#cccc33"/>
<polyline points="273.9,456.7 275.0,455.9 277.1,454.7 279.0,453.7 280.5,453.1 281.7,452.6" stroke="#ffff00"/>
<polyline points="185.4,720.1 185.5,719.7 185.7,718.5 186.1,717.1 186.4,715.6 186.8,714.0 187.2,712.3 187.6,710.6 188.0,708.9 188.4,707.1 188.8,705.5 189.2,703.9 189.6,702.3 190.0,700.9 190.5,699.3 190.9,697.7 191.4,696.1 191.8,694.6 192.3,693.1 192.7,691.6 193.2,690.2 193.6,688.7 194.1,687.2 194.5,685.8 195.0,684.3 195.4,682.8 195.9,681.3 196.3,679.8 196.7,678.3 197.2,676.9 197.6,675.4 198.1,673.9 198.5,672.4 199.0,670.8 199.5,669.2 200.0,667.6 200.4,666.3 200.9,664.9 201.3,663.5 201.8,662.0 202.3,660.6 202.7,659.1 203.2,657.6 203.7,656.1 204.2,654.6 204.7,653.2 205.2,651.7 205.7,650.3 206.2,648.9 206.7,647.6 207.3,645.9 207.9,644.3 208.4,642.6 209.0,640.9 209.6,639.3 210.2,637.8 210.8,636.2 211.4,634.8 212.0,633.4 212.7,632.1 213.3,630.9 214.5,629.3 215.6,627.8 216.9,626.5 218.1,625.3 219.4,624.3 220.5,623.4 221.7,622.6 223.5,621.5 225.1,620.8 226.7,620.5 228.3,620.3 230.0,620.3 231.7,620.6 233.3,621.0 235.0,621.6 236.7,622.3 238.3,623.1 240.0,624.0 241.7,624.9 243.1,625.8 244.7,626.8 246.1,627.8 247.4,628.7 248.3,629.3" stroke="#ffff00"/>
</g>
<g clip-path="url(#cp11)">
<polyline points="282.0,554.1 283.1,554.3 284.6,554.5 286.4,554.8 288.5,555.2 290.8,555.7 292.0,556.0 293.4,556.3 294.8,556.7 296.3,557.1 297.8,557.5 299.4,557.9 301.0,558.4 302.5,558.9 304.1,559.5 305.6,560.1 306.9,560.7 308.3,561.4 309.6,562.1 311.0,562.9 312.3,563.7 313.7,564.5 315.0,565.3 316.4,566.1 317.7,567.0 319.1,567.8 320.4,568.6 321.8,569.4 323.1,570.2 324.5,571.1 325.8,572.0 327.2,572.8 328.5,573.7 329.9,574.5 331.2,575.3 332.6,576.1 333.9,576.9 335.3,577.6 336.8,578.3 338.4,579.1 339.9,579.8 341.5,580.4 343.1,581.1 344.6,581.7 346.1,582.2" stroke="#ffff00"/>
<polyline points="346.1,582.2 347.5,582.7" stroke="#ff9900"/>
<polyline points="347.5,582.7 348.9,583.2" stroke="#ff3300"/>
<polyline points="348.9,583.2 350.1,583.6 352.0,584.2 353.6,584.6 355.1,584.9 356.5,585.1 357.8,585.1 359.0,585.1" stroke="#ff0000"/>
<polyline points="359.0,585.1 360.6,585.1" stroke="#ff4400"/>
<polyline points="360.6,585.1 361.9,584.9" stroke="#ffaa00"/>
<polyline points="361.9,584.9 363.2,584.3 365.0,582.6 365.7,581.7 366.6,580.7 367.4,579.5 368.3,578.3 369.3,576.9" stroke="#ffff00"/>
<polyline points="369.3,576.9 370.2,575.4" stroke="#ffee00"/>
<polyline points="370.2,575.4 371.2,574.0" stroke="#ffbb00"/>
<polyline points="371.2,574.0 372.2,572.4" stroke="#ff8800"/>
<polyline points="372.2,572.4 373.2,570.9" stroke="#ff5500"/>
<polyline points="373.2,570.9 374.2,569.4" stroke="#ff2200"/>
<polyline points="374.2,569.4 375.1,568.0 376.0,566.6 376.9,565.3 377.7,564.0 378.6,562.6 379.5,561.3 380.3,560.0 381.2,558.7 382.0,557.4 382.9,556.1 383.7,554.7 384.5,553.4 385.2,552.0 386.0,550.6" stroke="#ff0000"/>
<polyline points="386.0,550.6 386.7,549.3" stroke="#ff2200"/>
<polyline points="386.7,549.3 387.4,547.9" stroke="#ff4400"/>
<polyline points="387.4,547.9 388.0,546.5" stroke="#ff7700"/>
<polyline points="388.0,546.5 388.7,545.1" stroke="#ff9900"/>
<polyline points="388.7,545.1 389.3,543.7" stroke="#ffcc00"/>
<polyline points="389.3,543.7 389.9,542.3" stroke="#ffee00"/>
<polyline points="389.9,542.3 390.6,540.9 391.2,539.5 391.8,538.1 392.3,536.7 392.9,535.3 393.5,533.9 394.0,532.6 394.6,531.1 395.2,529.5 395.8,528.0 396.4,526.6 397.0,525.1 397.5,523.6 398.0,522.2 398.6,520.8 399.1,519.4 399.5,518.0 400.0,516.6 400.5,514.9 401.0,513.3 401.5,511.7 401.9,510.1 402.3,508.6 402.7,507.0 403.1,505.5 403.6,504.1 404.0,502.6 404.5,501.0 405.0,499.4 405.5,497.9 406.0,496.3 406.5,494.9 407.0,493.4 407.5,492.0 408.0,490.6 408.6,489.1 409.1,487.6 409.7,486.2 410.3,484.9 410.9,483.5 411.4,482.1 412.0,480.6 412.6,479.1 413.1,477.6 413.7,476.0 414.3,474.4 414.9,472.8 415.4,471.2 416.0,469.6 416.5,468.2 417.0,466.7 417.5,465.3 418.0,463.8 418.5,462.3 419.0,460.8 419.5,459.2 420.0,457.6 420.4,456.1 420.9,454.7 421.3,453.2 421.8,451.6 422.2,450.1 422.7,448.5 423.1,446.9 423.6,445.3 424.0,443.6 424.4,442.1 424.8,440.5 425.2,438.9 425.6,437.3 426.0,435.7 426.4,434.1 426.8,432.5 427.2,430.8 427.6,429.2 428.0,427.6 428.4,426.0 428.8,424.4 429.2,422.9 429.6,421.3 430.0,419.7 430.4,418.1 430.8,416.5 431.2,414.9 431.6,413.3 432.0,411.6 432.3,410.2 432.7,408.7 433.0,407.2 433.3,405.7 433.7,404.1 434.0,402.6 434.3,401.1 434.7,399.5 435.0,398.0 435.3,396.5 435.7,395.0 436.0,393.6 436.4,391.9 436.8,390.3 437.2,388.7 437.6,387.1 438.0,385.5 438.4,383.9 438.8,382.3 439.2,380.8 439.6,379.2 440.0,377.6 440.4,375.9 440.9,374.1 441.3,372.3 441.8,370.4 442.2,368.6 442.7,366.8 443.1,365.2 443.5,363.8 443.8,362.6 444.0,361.7" stroke="#ffff00"/>
<polyline points="282.0,453.6 283.1,453.4 284.5,453.1 286.2,452.8 288.1,452.5 290.1,452.1 292.0,451.8 293.4,451.6 294.9,451.3 296.4,451.1 297.9,450.8 299.4,450.6 301.0,450.4 302.5,450.1 304.0,449.9 305.5,449.7 307.0,449.4 308.5,449.2 310.0,449.0 311.5,448.8 313.0,448.6 314.5,448.3 316.0,448.1 317.5,447.9 319.0,447.6 320.5,447.4 322.0,447.1 323.5,446.9 325.0,446.6 326.5,446.4 328.0,446.1 329.5,445.9 331.0,445.6 332.6,445.4 334.1,445.1 335.6,444.9 337.1,444.6 338.6,444.3 340.0,444.0 341.5,443.6 343.0,443.1 344.4,442.6 345.8,442.1 347.2,441.6 348.6,441.1 350.0,440.6 351.4,440.1 352.9,439.6 354.3,439.2 355.7,438.7 357.1,438.2 358.6,437.7 360.0,437.1 361.4,436.5 362.9,435.9 364.3,435.2 365.7,434.5 367.1,433.9 368.6,433.2 370.0,432.6 371.4,432.0 372.9,431.4 374.3,430.9 375.7,430.4 377.1,429.8 378.6,429.2 380.0,428.6 381.4,427.9 382.9,427.2 384.3,426.5 385.7,425.8 387.1,425.1 388.6,424.3 390.0,423.6 391.4,422.9 392.9,422.2 394.3,421.5 395.7,420.7 397.1,420.0 398.6,419.3 400.0,418.6 401.5,417.9 403.0,417.1 404.5,416.4 406.0,415.6 407.4,414.9 408.8,414.2 410.0,413.6 411.7,412.8 413.0,412.2 414.3,411.6 416.0,410.6 417.1,409.9 418.3,409.1 419.5,408.2 420.9,407.3 422.2,406.3 423.5,405.4 424.8,404.5 426.0,403.6 427.5,402.5 428.9,401.5 430.2,400.5 431.6,399.5 432.8,398.5 434.0,397.6 435.3,396.6 436.4,395.6 437.4,394.7 438.6,393.7 440.0,392.6 441.1,391.8 442.2,391.0 443.5,390.1 444.8,389.2 446.1,388.2 447.4,387.3 448.7,386.4 450.0,385.6 451.4,384.7 452.9,383.7 454.4,382.8 455.9,381.9 457.3,381.1 458.7,380.3 460.0,379.6 461.8,378.8 463.5,378.1 465.1,377.5 466.6,377.0 468.0,376.6 470.1,376.1 471.8,375.8 473.0,375.6" stroke="#ffff00"/>
<polyline points="282.0,453.6 283.1,453.7 284.5,453.8 286.2,453.9 288.1,454.0 290.1,454.3 292.0,454.6 293.4,454.9 295.0,455.3 296.6,455.7 298.2,456.2 299.9,456.7 301.4,457.2 302.8,457.7 304.0,458.2 305.9,459.2 307.4,460.3 308.6,461.4 310.0,462.6 311.2,463.6 312.4,464.6 313.6,465.6 314.8,466.6 316.0,467.6 317.2,468.6 318.4,469.6 319.6,470.6 320.8,471.6 322.0,472.6 323.2,473.6 324.4,474.6 325.6,475.6 326.8,476.6 328.0,477.6 329.2,478.6 330.4,479.6 331.6,480.6 332.8,481.6 334.0,482.6 335.2,483.6 336.4,484.5" stroke="#ffff00"/>
<polyline points="336.4,484.5 337.7,485.4" stroke="#ffdd00"/>
<polyline points="337.7,485.4 338.9,486.3" stroke="#ff8800"/>
<polyline points="338.9,486.3 340.0,487.1 341.7,488.1 343.4,489.0 345.0,489.9" stroke="#ff6600"/>
<polyline points="345.0,489.9 346.1,490.7" stroke="#ffcc00"/>
<polyline points="346.1,490.7 347.2,491.6 348.4,492.5 350.0,493.6" stroke="#ffff00"/>
<polyline points="350.0,493.6 351.2,494.3" stroke="#5555aa"/>
<polyline points="351.2,494.3 352.5,495.1 353.9,496.0 355.5,496.9 357.0,497.7" stroke="#0000ff"/>
<polyline points="357.0,497.7 358.5,498.5" stroke="#5555aa"/>
<polyline points="358.5,498.5 360.0,499.1" stroke="#eeee11"/>
<polyline points="360.0,499.1 361.7,499.7 363.3,500.2 365.0,500.7 366.7,501.1 368.3,501.4 370.0,501.6 371.7,501.8 373.3,501.9 375.0,501.9 376.7,501.9 378.3,501.8 380.0,501.6 381.7,501.3 383.3,500.9 385.0,500.5 386.7,499.9 388.3,499.3 390.0,498.6 391.4,497.9 392.9,497.1 394.4,496.3 395.9,495.4 397.3,494.5 398.7,493.5 400.0,492.6 401.3,491.7 402.5,490.7 403.7,489.7 404.8,488.7 405.9,487.7 407.0,486.7 408.0,485.6 409.1,484.3 410.1,483.1 411.1,481.8 412.1,480.5 413.0,479.1 414.0,477.6 414.9,476.3 415.7,474.9 416.6,473.6 417.4,472.1 418.3,470.7 419.1,469.2 420.0,467.6 420.8,466.2 421.5,464.8 422.2,463.3 423.0,461.8 423.8,460.3 424.5,458.7 425.2,457.2 426.0,455.6 426.7,454.2 427.3,452.8 428.0,451.4 428.7,449.9 429.3,448.5 430.0,447.0 430.7,445.6 431.3,444.1 432.0,442.6 432.6,441.2 433.2,439.9 433.8,438.5 434.4,437.1 435.0,435.7 435.6,434.2 436.2,432.8 436.8,431.4 437.4,430.0 438.0,428.6 438.6,427.2 439.2,425.8 439.8,424.3 440.4,422.9 441.0,421.4 441.6,420.0 442.2,418.6 442.8,417.2 443.4,415.9 444.0,414.6 444.8,413.1 445.5,411.6 446.2,410.2 447.0,408.8 447.8,407.4 448.5,406.1 449.2,404.9 450.0,403.6 450.9,402.2 451.7,400.9 452.6,399.6 453.4,398.3 454.3,397.0 455.1,395.8 456.0,394.6 457.0,393.2 458.0,391.8 459.1,390.4 460.1,389.1 461.1,387.8 462.0,386.6 463.0,385.2 464.0,384.0 465.0,382.8 466.0,381.6 467.0,380.6 468.6,379.4 470.3,378.2 471.9,377.3 473.0,376.6" stroke="#ffff00"/>
<polyline points="282.0,512.1 283.1,512.1 284.5,512.1" stroke="#ffff00"/>
<polyline points="284.5,512.1 286.2,512.1" stroke="#ffdd00"/>
<polyline points="286.2,512.1 288.1,512.1" stroke="#ff8800"/>
<polyline points="288.1,512.1 290.1,512.1" stroke="#ff2200"/>
<polyline points="290.1,512.1 292.0,512.1 293.4,512.1 294.9,512.0 296.4,511.9 298.0,511.9 299.6,511.8 301.1,511.7 302.6,511.7" stroke="#ff0000"/>
<polyline points="302.6,511.7 304.0,511.6" stroke="#ff5500"/>
<polyline points="304.0,511.6 305.8,511.5" stroke="#ff9900"/>
<polyline points="305.8,511.5 307.6,511.5 309.4,511.4 311.0,511.3 312.6,511.2 314.0,511.1 315.7,510.9 317.0,510.8 318.3,510.5 320.0,510.1 321.2,509.7 322.6,509.3 324.0,508.8 325.5,508.3 327.0,507.7 328.5,507.1 330.0,506.6 331.5,506.0 333.0,505.4 334.5,504.8 336.1,504.2 337.5,503.6 338.8,503.1 340.0,502.6 342.0,501.9" stroke="#ffff00"/>
<polyline points="342.0,501.9 343.4,501.3" stroke="#eeee11"/>
<polyline points="343.4,501.3 345.0,500.6" stroke="#777788"/>
<polyline points="345.0,500.6 346.5,499.8 348.0,498.8 349.5,497.8 351.0,496.6 352.0,495.5 353.0,494.4" stroke="#0000ff"/>
<polyline points="353.0,494.4 354.0,493.2" stroke="#666699"/>
<polyline points="354.0,493.2 355.0,491.9" stroke="#cccc33"/>
<polyline points="355.0,491.9 356.0,490.6 356.9,489.5 357.9,488.5 358.8,487.3 359.8,486.2 360.9,485.0 362.0,483.6 362.9,482.5 363.9,481.3 364.9,480.1 365.9,478.8 366.9,477.5 368.0,476.2 369.0,474.9 370.0,473.6 371.0,472.4 372.0,471.1 373.0,469.9 374.0,468.7 375.0,467.4 376.0,466.2 377.0,464.9 378.0,463.6 378.9,462.4" stroke="#ffff00"/>
<polyline points="378.9,462.4 379.8,461.2" stroke="#5555aa"/>
<polyline points="379.8,461.2 380.7,460.0 381.6,458.8 382.4,457.5 383.3,456.3" stroke="#0000ff"/>
<polyline points="383.3,456.3 384.2,455.1" stroke="#999966"/>
<polyline points="384.2,455.1 385.1,453.8 386.0,452.6 386.9,451.4 387.8,450.1 388.7,448.8 389.7,447.5 390.6,446.2 391.5,445.0 392.4,443.8 393.2,442.6 394.0,441.6 395.1,440.2 396.1,439.0 397.0,438.0 397.9,436.9 398.9,435.8 400.0,434.6 400.9,433.6 401.9,432.4 402.9,431.3 404.0,430.1 405.1,428.9 406.1,427.8 407.1,426.6 408.0,425.6 409.1,424.3 410.1,423.1 411.1,422.0 412.1,420.9 413.0,419.7 414.0,418.6 415.0,417.4 416.0,416.2 417.0,415.0 418.0,413.8 419.0,412.7 420.0,411.6 421.2,410.4 422.3,409.4 423.5,408.4 424.7,407.5 426.0,406.6 427.4,405.8 429.0,405.0 430.6,404.3 432.2,403.7 434.0,403.1 435.5,402.7 437.1,402.3 438.8,401.9 440.4,401.6 442.2,401.4 444.0,401.1 445.4,400.9 446.7,400.8 448.1,400.6 449.6,400.5 451.0,400.4 452.6,400.3 454.2,400.2 456.0,400.1 457.4,400.0 459.0,400.0 460.7,399.9 462.5,399.9 464.3,399.8 466.1,399.8 467.9,399.7 469.5,399.7 470.9,399.7 472.1,399.6 473.0,399.6" stroke="#ffff00"/>
<polyline points="282.0,513.6 282.9,514.0 284.0,514.4 285.3,515.0 286.8,515.6 288.4,516.2 290.0,516.9 291.7,517.6 293.2,518.3 294.7,519.0 296.0,519.6 297.6,520.5 299.1,521.3 300.6,522.2 301.9,523.0 303.3,523.9 304.6,524.7 306.0,525.6 307.4,526.5 308.9,527.3 310.3,528.2 311.7,529.1 313.1,530.0 314.6,530.8 316.0,531.6 317.4,532.4 318.9,533.1 320.4,533.9 321.9,534.6 323.3,535.3 324.7,536.0 326.0,536.6 327.7,537.4 329.4,538.2 331.0,538.9 332.5,539.6 334.0,540.1 335.8,540.7 337.4,541.2 339.1,541.5 341.0,541.6 342.3,541.5 343.7,541.3 345.2,541.0 346.7,540.6 348.3,540.1 350.0,539.6 351.3,539.2 352.7,538.7 354.2,538.1 355.7,537.5 357.2,536.9 358.8,536.3 360.4,535.6 362.0,534.9 363.3,534.3 364.7,533.7 366.1,533.0 367.5,532.4 368.9,531.7 370.3,531.0 371.7,530.3 373.2,529.6 374.6,528.9 376.0,528.3 377.4,527.7 378.9,527.1 380.3,526.4 381.8,525.8 383.2,525.2 384.7,524.6 386.1,524.1 387.5,523.6 388.8,523.1 390.0,522.6 391.8,522.0 393.4,521.5 394.9,521.2 396.4,520.8 398.0,520.3 400.0,519.6 401.3,519.1" stroke="#ffff00"/>
<polyline points="401.3,519.1 402.7,518.5" stroke="#ffee00"/>
<polyline points="402.7,518.5 404.1,517.9" stroke="#ffaa00"/>
<polyline points="404.1,517.9 405.7,517.3 407.3,516.6 408.9,515.9 410.5,515.2 412.1,514.5 413.5,513.8" stroke="#ff6600"/>
<polyline points="413.5,513.8 414.8,513.2" stroke="#ff9900"/>
<polyline points="414.8,513.2 416.0,512.6" stroke="#ffdd00"/>
<polyline points="416.0,512.6 417.8,511.7 419.3,510.8 420.5,510.0 421.6,509.2 422.8,508.4 424.0,507.6" stroke="#ffff00"/>
<polyline points="424.0,507.6 425.3,506.7" stroke="#cccc33"/>
<polyline points="425.3,506.7 426.7,505.9" stroke="#888877"/>
<polyline points="426.7,505.9 428.0,505.0" stroke="#4444bb"/>
<polyline points="428.0,505.0 429.3,504.1 430.7,503.3 432.0,502.6 433.5,501.9 435.0,501.2 436.5,500.6 438.1,500.1" stroke="#4444cc"/>
<polyline points="438.1,500.1 440.0,499.6" stroke="#888888"/>
<polyline points="440.0,499.6 441.3,499.3" stroke="#cccc33"/>
<polyline points="441.3,499.3 442.7,499.0 444.2,498.7 445.8,498.4 447.3,498.2 448.9,498.0 450.5,497.8 452.0,497.6 453.5,497.5 455.1,497.3 456.6,497.2 458.2,497.2 459.7,497.1 461.2,497.1 462.6,497.0 464.0,497.0 465.8,497.0 467.6,497.0 469.2,497.0 470.8,497.0 472.1,497.0 473.0,497.0" stroke="#ffff00"/>
<polyline points="282.0,553.6 283.1,553.4 284.6,553.1 286.4,552.7 288.5,552.3 290.8,552.0 292.2,551.8 293.7,551.7 295.3,551.5 297.0,551.3 298.7,551.2 300.4,551.0 302.2,550.8 303.9,550.7 305.6,550.5 307.3,550.3 308.9,550.2 310.6,550.0 312.3,549.8 313.9,549.6 315.6,549.4 317.2,549.3 318.8,549.1 320.4,549.0 322.2,548.9 324.0,548.7 325.9,548.6 327.7,548.5 329.4,548.4 331.0,548.4 332.5,548.3 333.8,548.3 336.3,548.2 337.9,548.3 339.7,549.0 340.8,549.7 342.1,550.5 343.3,551.5 344.6,552.6 345.8,553.7 347.1,554.9 348.2,556.0 349.3,557.1 350.4,558.3 351.4,559.5 352.5,560.7 353.5,562.0 354.5,563.1 355.6,564.4 356.6,565.7 357.6,566.9 358.6,568.2 359.5,569.4 360.4,570.5 361.7,572.1 362.8,573.6 363.9,575.1 364.9,576.4 365.8,577.7 366.6,578.8 367.9,580.9 368.5,581.9 369.2,583.0 369.9,584.2 370.7,585.5 371.5,586.9 372.4,588.3 373.3,589.7 374.2,591.1 375.1,592.4 376.0,593.6 377.0,594.8 378.1,596.0 379.2,597.1 380.3,598.1 381.5,599.2 382.6,600.2 383.7,601.3 384.9,602.4 386.0,603.6 387.0,604.7 388.0,605.9 389.0,607.1 390.0,608.3 391.0,609.5 392.0,610.7 393.0,611.9 394.0,613.2 395.0,614.4 396.0,615.6 397.0,616.8 397.9,618.0 398.9,619.2 399.8,620.3 400.8,621.5 401.8,622.7 402.8,623.9 403.8,625.1 404.9,626.3 406.0,627.6 407.0,628.7 408.0,629.8 409.1,630.9 410.2,632.0 411.3,633.1 412.4,634.3 413.6,635.4 414.7,636.5 415.9,637.7 417.0,638.8 418.2,639.8 419.3,640.9 420.5,642.0 421.7,643.2 423.0,644.3 424.2,645.4 425.4,646.5 426.6,647.6 427.8,648.7 429.0,649.7 430.3,650.7 431.5,651.7 432.7,652.6 434.0,653.6 435.4,654.5 436.7,655.5 438.0,656.4 439.4,657.2 440.7,658.0 442.0,658.8 443.3,659.5 444.7,660.2 446.0,660.9 447.5,661.6 448.9,662.2 450.4,662.8 451.9,663.3 453.4,663.8 454.8,664.2 456.3,664.6 457.8,665.0 459.3,665.3 460.9,665.6 462.6,665.8 464.3,666.0 466.1,666.2 467.8,666.3 469.4,666.4 470.9,666.5 472.1,666.5 473.0,666.6" stroke="#ffff00"/>
<polyline points="282.0,614.1 283.1,614.0 284.6,613.8 286.4,613.7 288.5,613.4 290.8,613.1 292.0,612.9 293.4,612.7 294.8,612.5 296.3,612.3 297.8,612.1 299.4,611.8 301.0,611.6 302.5,611.3 304.1,610.9 305.6,610.6 307.1,610.2 308.6,609.9 310.0,609.5 311.5,609.0 313.0,608.6 314.5,608.1 316.0,607.7 317.4,607.1 318.9,606.6 320.4,606.0 321.8,605.4 323.1,604.8 324.5,604.2 325.8,603.5 327.2,602.8 328.5,602.1 329.9,601.4 331.2,600.7 332.6,600.0 333.9,599.3 335.3,598.6 336.7,597.9 338.0,597.2 339.4,596.5 340.8,595.8 342.2,595.2 343.6,594.5 344.9,593.8 346.3,593.1 347.6,592.5 348.9,591.8 350.1,591.2 351.8,590.4 353.4,589.6 355.0,588.8 356.6,588.1 358.1,587.4 359.5,586.7 360.8,586.0 362.0,585.3 363.5,584.3 364.7,583.5 365.7,582.7 366.8,581.7 368.0,580.6 369.0,579.6 370.1,578.5 371.3,577.3 372.5,576.1 373.7,574.9 374.8,573.7 376.0,572.6 377.1,571.6 378.3,570.6 379.4,569.6 380.6,568.6 381.7,567.6 382.9,566.6 384.0,565.6 385.1,564.5 386.3,563.4 387.4,562.3 388.6,561.2 389.7,560.1 390.9,558.9 392.0,557.6 393.0,556.5 394.0,555.3 395.0,554.1 396.0,552.9 397.0,551.7 398.0,550.4 399.0,549.0 400.0,547.6 400.8,546.4 401.6,545.2 402.4,543.9 403.2,542.6 404.0,541.3 404.8,539.9 405.6,538.6 406.4,537.2 407.2,535.9 408.0,534.6 408.8,533.3 409.6,532.0 410.3,530.7 411.1,529.4 411.9,528.1 412.7,526.8 413.5,525.5 414.3,524.2 415.1,522.9 416.0,521.6 416.9,520.3 417.9,519.0 418.9,517.6 419.9,516.3 420.9,514.9 421.9,513.6 422.9,512.3 424.0,511.0 425.0,509.8 426.0,508.6 427.1,507.4 428.2,506.2 429.3,505.0 430.3,503.9 431.4,502.9 432.5,501.8 433.6,500.8 434.8,499.7 436.0,498.6 437.1,497.6 438.3,496.6 439.5,495.5 440.7,494.5 441.9,493.4 443.1,492.4 444.3,491.4 445.6,490.4 446.8,489.5 448.0,488.6 449.3,487.7 450.6,486.8 452.0,485.9 453.3,485.1 454.6,484.3 455.9,483.6 457.3,482.9 458.6,482.2 460.0,481.6 461.7,481.0 463.5,480.4 465.4,479.9 467.2,479.5 469.0,479.1 470.6,478.7 472.0,478.4 473.0,478.2" stroke="#ffff00"/>
<polyline points="281.6,615.6 282.5,615.9" stroke="#888877"/>
<polyline points="282.5,615.9 283.5,616.3" stroke="#666699"/>
<polyline points="283.5,616.3 284.8,616.8" stroke="#3333cc"/>
<polyline points="284.8,616.8 286.2,617.4 287.8,618.0 289.4,618.6 291.1,619.2 292.8,619.9 294.5,620.6 296.2,621.3 297.8,621.9 299.3,622.6 300.7,623.2" stroke="#0000ff"/>
<polyline points="300.7,623.2 302.1,623.8" stroke="#4444bb"/>
<polyline points="302.1,623.8 303.5,624.5" stroke="#888877"/>
<polyline points="303.5,624.5 304.9,625.1" stroke="#bbbb44"/>
<polyline points="304.9,625.1 306.3,625.7 307.7,626.3 309.1,627.0 310.5,627.7 311.8,628.4 313.2,629.2 314.6,630.0 316.0,630.9 317.2,631.7 318.4,632.5 319.6,633.4 320.8,634.3 322.0,635.2 323.2,636.1 324.4,637.1 325.5,638.1 326.7,639.1 327.9,640.1 329.1,641.1 330.3,642.2 331.5,643.2 332.7,644.3 333.8,645.3 334.9,646.4 336.0,647.4 337.1,648.5 338.2,649.6 339.3,650.7 340.4,651.8 341.6,653.0 342.7,654.1 343.8,655.2 344.9,656.4 346.0,657.5 347.1,658.7 348.2,659.8 349.3,660.9 350.4,662.0 351.5,663.1 352.6,664.2 353.7,665.3 354.9,666.3 356.0,667.4 357.1,668.5 358.2,669.6 359.3,670.7 360.4,671.8 361.5,672.9 362.7,674.0 363.8,675.2 364.9,676.4 366.0,677.6 367.0,678.7 368.0,679.8 368.9,680.9 369.9,682.0 370.9,683.2 371.9,684.3 372.9,685.5 373.9,686.7 374.8,687.9 375.8,689.1 376.8,690.3 377.8,691.5 378.8,692.7 379.8,693.9 380.7,695.1 381.7,696.4 382.7,697.6 383.6,698.8 384.6,700.0 385.6,701.3 386.7,702.6 387.7,704.0 388.8,705.4 389.8,706.7 390.8,708.1 391.9,709.4 392.9,710.8 393.9,712.0 394.8,713.3 395.7,714.5 396.5,715.6 397.3,716.7 398.1,717.6 398.7,718.5 399.3,719.3 399.9,720.1" stroke="#ffff00"/>
<polyline points="457.1,720.1 458.3,719.6 460.0,719.1 461.6,718.8 463.3,718.5 465.2,718.3 467.1,718.1 468.9,717.9 470.6,717.8 472.0,717.7 473.0,717.6" stroke="#ffff00"/>
</g>
<g clip-path="url(#cp12)">
<polyline points="472.5,578.6 473.4,578.5 474.5,578.4 475.9,578.3 477.4,578.2 479.0,578.1 480.7,577.9 482.5,577.8 484.3,577.6 486.1,577.5 487.9,577.3 489.6,577.1 491.2,577.0 492.7,576.8 494.0,576.6 496.0,576.3 497.7,575.9 499.3,575.5 500.7,575.1 502.1,574.7 503.4,574.3 504.7,573.9 506.0,573.6 507.7,573.2 509.3,572.8 510.9,572.5 512.4,572.2 514.1,571.9 516.0,571.6 517.4,571.4 518.8,571.2 520.3,571.0 521.8,570.8 523.4,570.6 525.0,570.5 526.7,570.4 528.3,570.4 530.0,570.6 531.4,570.9 532.9,571.2 534.4,571.7 536.0,572.3 537.6,572.8 539.2,573.4 540.7,574.0 542.2,574.6 543.6,575.0 544.8,575.4 546.0,575.6 548.1,575.8 549.7,575.6 551.0,575.2 552.4,574.7 554.0,574.0 555.4,573.4 556.8,572.7 558.4,571.8 559.9,570.9 561.4,570.1 562.8,569.3 564.0,568.6 565.6,567.6 566.9,566.9 568.2,566.2 570.0,565.6 571.2,565.4 572.6,565.2 574.1,565.1 575.6,564.9 577.2,564.8 578.9,564.6 580.5,564.4 582.0,564.0 583.5,563.5 585.1,563.0 586.7,562.5 588.2,561.9 589.8,561.2 591.3,560.4 592.7,559.6 594.0,558.6 595.1,557.6 596.1,556.5 597.1,555.2 598.1,553.9 599.0,552.6 599.9,551.3 600.6,550.0 601.4,548.7 602.0,547.6 602.9,545.9 603.5,544.5 603.9,543.1 604.4,541.5 605.0,539.6 605.5,538.3 606.0,536.9 606.6,535.5 607.1,533.9 607.7,532.3 608.3,530.6 608.9,529.0 609.5,527.3 610.0,525.6 610.4,524.1 610.9,522.5 611.3,520.9 611.7,519.2 612.1,517.6 612.4,516.0 612.8,514.3 613.2,512.7 613.6,511.1 614.0,509.6 614.4,508.0 614.9,506.4 615.3,504.9 615.8,503.5 616.2,502.0 616.7,500.5 617.1,498.9 617.6,497.3 618.0,495.6 618.3,494.2 618.7,492.8 619.0,491.3 619.4,489.8 619.7,488.3 620.1,486.7 620.4,485.2 620.7,483.6 621.1,482.1 621.4,480.5 621.7,479.0 622.0,477.6 622.3,475.9 622.7,474.3 623.0,472.7 623.3,471.1 623.6,469.5 623.8,467.9 624.1,466.3 624.4,464.8 624.7,463.2 625.0,461.6 625.3,460.0 625.6,458.4 625.9,456.7 626.2,455.1 626.5,453.5 626.8,451.9 627.1,450.3 627.4,448.7 627.7,447.1 628.0,445.6 628.3,443.9 628.7,442.3 629.0,440.6 629.4,439.0 629.7,437.4 630.1,435.9 630.4,434.4 630.7,433.0 631.0,431.6 631.4,429.9 631.6,428.5 631.9,427.3 632.1,425.9 632.5,424.1 633.0,421.6 633.2,420.4 633.5,419.2 633.8,417.8 634.1,416.3 634.4,414.7 634.7,413.1 635.0,411.4 635.4,409.7 635.7,408.0 636.1,406.3 636.4,404.5 636.8,402.8 637.1,401.2 637.4,399.6 637.7,398.1 638.0,396.6 638.3,394.9 638.7,393.2 639.0,391.5 639.3,389.9 639.7,388.3 640.0,386.7 640.3,385.2 640.6,383.7 640.9,382.2 641.2,380.8 641.4,379.4 641.7,378.0 642.0,376.6 642.4,374.8 642.7,373.0 643.1,371.3 643.4,369.5 643.8,367.8 644.1,366.3 644.4,364.8 644.6,363.6 644.8,362.5 645.0,361.7" stroke="#ffff00"/>
<polyline points="472.5,626.6 473.4,626.7 474.6,626.9 476.1,627.1 477.6,627.3 479.4,627.6 481.2,627.9 483.0,628.2 484.9,628.5 486.7,628.8 488.4,629.2 490.0,629.6 491.5,630.0 493.0,630.5 494.5,631.0 496.0,631.5 497.5,632.0 498.9,632.6 500.4,633.1 501.8,633.7 503.2,634.3 504.6,635.0 506.0,635.6 507.5,636.3 508.9,637.0 510.4,637.8 511.8,638.5 513.2,639.3 514.5,640.1 515.9,640.9 517.3,641.8 518.6,642.7 520.0,643.6 521.2,644.4 522.4,645.3 523.6,646.2 524.7,647.0 525.9,647.9 527.1,648.9 528.2,649.9 529.4,650.9 530.7,652.0 532.0,653.1 533.3,654.3 534.3,655.2 535.4,656.2 536.4,657.2 537.5,658.3 538.6,659.4 539.7,660.5 540.9,661.6 542.0,662.8 543.2,664.0 544.3,665.1 545.5,666.3 546.6,667.5 547.7,668.6 548.9,669.8 550.0,670.9 551.1,672.0 552.2,673.1 553.3,674.3 554.5,675.4 555.6,676.5 556.7,677.7 557.8,678.8 558.9,679.9 560.0,681.0 561.1,682.2 562.3,683.3 563.4,684.4 564.5,685.5 565.6,686.5 566.7,687.6 567.9,688.7 569.1,689.9 570.3,691.0 571.4,692.1 572.6,693.2 573.8,694.3 575.0,695.4 576.2,696.5 577.4,697.6 578.6,698.6 579.7,699.6 580.9,700.6 582.1,701.6 583.3,702.6 584.6,703.6 585.9,704.6 587.2,705.6 588.6,706.5 589.9,707.4 591.3,708.4 592.6,709.2 593.9,710.1 595.2,711.0 596.5,711.8 597.7,712.7 598.9,713.5 600.0,714.3 601.4,715.4 602.9,716.5 604.3,717.6 605.7,718.6 607.0,719.7 607.6,720.1" stroke="#ffff00"/>
<polyline points="472.5,623.6 473.4,623.5 474.6,623.3 476.1,623.1 477.6,622.9 479.4,622.6 481.2,622.4 483.0,622.1 484.9,621.8 486.7,621.4 488.4,621.0 490.0,620.6 491.5,620.1 493.0,619.6 494.5,619.1 496.0,618.5 497.5,617.9 498.9,617.3 500.4,616.6 501.8,616.0 503.2,615.4 504.6,614.7 506.0,614.1 507.5,613.4 509.0,612.8 510.5,612.1 511.9,611.5 513.4,610.8 514.8,610.1 516.2,609.4 517.5,608.7 518.8,608.0 520.0,607.2 521.4,606.2 522.6,605.2 523.8,604.2 524.9,603.1 526.0,602.0 527.2,600.9 528.5,599.8 530.0,598.6 531.1,597.8 532.4,596.9 533.7,595.9 535.1,594.9 536.5,593.9 538.0,592.9 539.5,591.9 540.9,591.0 542.3,590.2 543.6,589.5 544.9,589.0 546.0,588.6 548.0,588.3 549.8,588.6 551.4,589.2 552.9,590.0 554.4,590.8 556.0,591.6 557.4,592.2 558.8,592.9 560.2,593.7 561.6,594.4 563.0,595.2 564.5,595.9 566.0,596.6 567.4,597.2 569.0,597.8 570.5,598.4 572.1,599.0 573.7,599.5 575.2,600.0 576.7,600.3 578.0,600.6 579.9,600.8 581.5,600.9 583.0,600.7 584.5,600.3 586.0,599.6 587.2,598.9 588.3,598.0 589.5,597.0 590.7,595.8 591.9,594.5 593.0,593.1 594.0,591.6 594.7,590.5 595.3,589.2 596.0,588.0 596.6,586.6 597.2,585.2 597.8,583.8 598.3,582.3 598.9,580.8 599.4,579.2 600.0,577.6 600.5,576.3 600.9,574.9 601.3,573.5 601.7,572.0 602.2,570.6 602.6,569.1 603.0,567.6 603.4,566.0 603.8,564.5 604.2,562.9 604.6,561.3 605.0,559.6 605.3,558.3 605.7,556.9 606.0,555.5 606.3,554.1 606.6,552.6 606.9,551.2 607.2,549.7 607.6,548.2 607.9,546.7 608.2,545.2 608.5,543.7 608.9,542.1 609.2,540.6 609.6,539.1 610.0,537.6 610.4,536.2 610.8,534.7 611.2,533.2 611.6,531.7 612.0,530.2 612.5,528.7 612.9,527.1 613.4,525.6 613.8,524.1 614.3,522.6 614.7,521.1 615.2,519.7 615.6,518.3 616.0,516.9 616.3,515.6 616.7,514.3 617.2,512.5 617.6,510.9 618.1,509.4 618.5,507.9 618.9,506.4 619.3,505.0 619.6,503.6 620.0,502.2 620.3,500.7 620.7,499.2 621.0,497.6 621.3,496.2 621.5,494.7" stroke="#ffff00"/>
<polyline points="621.5,494.7 621.8,493.1" stroke="#aaaa55"/>
<polyline points="621.8,493.1 622.0,491.6 622.2,490.0 622.5,488.4 622.7,486.8" stroke="#0000ff"/>
<polyline points="622.7,486.8 622.9,485.2" stroke="#777788"/>
<polyline points="622.9,485.2 623.1,483.6 623.3,482.0 623.6,480.5 623.8,479.0 624.0,477.6 624.3,475.8 624.6,474.1 624.9,472.5 625.2,470.9 625.5,469.3" stroke="#ffff00"/>
<polyline points="625.5,469.3 625.8,467.8" stroke="#eeee11"/>
<polyline points="625.8,467.8 626.1,466.3" stroke="#5555aa"/>
<polyline points="626.1,466.3 626.4,464.7 626.7,463.2 627.0,461.6 627.3,460.0" stroke="#0000ff"/>
<polyline points="627.3,460.0 627.6,458.4" stroke="#5555aa"/>
<polyline points="627.6,458.4 627.9,456.7" stroke="#eeee11"/>
<polyline points="627.9,456.7 628.2,455.1 628.5,453.5 628.8,451.9 629.1,450.3 629.4,448.7 629.7,447.1 630.0,445.6 630.3,443.9 630.7,442.3 631.0,440.6 631.4,439.0 631.7,437.4 632.1,435.9 632.4,434.4 632.7,433.0 633.0,431.6 633.3,430.0 633.6,428.8 633.8,427.7 634.0,426.4 634.4,424.5 635.0,421.6 635.2,420.5 635.5,419.3 635.7,418.0 636.0,416.7 636.3,415.2 636.6,413.6 636.9,412.0 637.3,410.4 637.6,408.7 638.0,406.9 638.3,405.2 638.7,403.5 639.1,401.7 639.4,400.0 639.8,398.3 640.1,396.6 640.5,395.0 640.8,393.5 641.1,392.0 641.4,390.6 641.7,389.3 642.1,387.3 642.6,385.4 643.0,383.6 643.4,381.9 643.9,380.2 644.3,378.6 644.7,377.0 645.0,375.6 645.4,374.2 645.7,372.9 646.1,371.6 646.4,370.4 646.7,369.3 647.4,366.7 648.0,364.7 648.6,363.1 649.0,361.9 649.0,361.7" stroke="#ffff00"/>
<polyline points="472.5,619.6 473.4,619.4 474.6,619.3 476.1,619.1 477.6,618.8 479.4,618.6 481.2,618.3 483.0,618.0 484.9,617.6 486.7,617.3 488.4,617.0 490.0,616.6 491.5,616.2 493.0,615.8 494.5,615.4 496.0,614.9 497.5,614.4 498.9,613.9 500.4,613.5 501.8,613.0 503.2,612.5 504.6,612.0 506.0,611.6 507.7,611.0 509.4,610.5 511.0,609.8 512.7,609.2 514.3,608.7 515.9,608.1 517.3,607.7 518.7,607.4 520.0,607.2 521.9,607.1 523.4,607.3 524.8,607.8 526.2,608.5 528.0,609.6 529.0,610.3 530.2,611.2 531.4,612.1 532.6,613.2 533.9,614.3 535.2,615.5 536.4,616.6 537.7,617.7 538.9,618.7 540.0,619.6 541.3,620.6 542.5,621.4 543.6,622.1 544.7,622.8 545.8,623.6 547.1,624.4 548.4,625.4 550.0,626.6 551.0,627.4 552.0,628.2 553.1,629.1 554.3,630.1 555.5,631.1 556.7,632.1 557.9,633.1 559.2,634.2 560.5,635.3 561.7,636.4 563.0,637.5 564.3,638.7 565.5,639.8 566.7,640.9 567.8,642.0 568.9,643.0 570.0,644.1 571.1,645.3 572.2,646.4 573.3,647.6 574.4,648.7 575.6,649.9 576.7,651.0 577.8,652.2 578.9,653.3 580.0,654.4 581.1,655.5 582.2,656.6 583.3,657.6 584.5,658.7 585.7,659.7 586.9,660.7 588.1,661.7 589.3,662.7 590.5,663.6 591.6,664.6 592.8,665.5 594.0,666.4 595.2,667.3 596.4,668.2 597.6,669.1 598.8,670.0 600.0,670.9 601.3,671.9 602.6,672.8 603.9,673.8 605.1,674.7 606.4,675.7 607.7,676.6 609.0,677.5 610.3,678.4 611.6,679.3 612.9,680.2 614.1,681.0 615.4,681.8 616.7,682.6 618.1,683.4 619.5,684.2 620.9,685.0 622.2,685.7 623.6,686.4 625.0,687.1 626.4,687.7 627.8,688.4 629.1,689.0 630.5,689.6 631.9,690.3 633.3,690.9 634.8,691.6 636.4,692.3 637.9,693.0 639.5,693.7 641.1,694.3 642.6,695.0 644.2,695.6 645.7,696.2 647.2,696.7 648.6,697.2 650.0,697.6 651.7,698.0 653.5,698.3 655.2,698.6 657.0,698.8 658.6,698.9 660.1,699.0 661.5,699.1 662.6,699.2 663.5,699.3" stroke="#ffff00"/>
<polyline points="472.5,588.6 473.4,588.6 474.6,588.7 476.1,588.7 477.6,588.8 479.4,588.8 481.2,588.9 483.0,589.0 484.9,589.1 486.7,589.2 488.4,589.4 490.0,589.6 491.7,589.9 493.4,590.2 495.0,590.5 496.7,590.9 498.3,591.3 500.0,591.7 501.5,592.2 503.1,592.6 504.6,593.1 506.0,593.6 507.7,594.3 509.4,595.1 511.1,595.9 512.7,596.7 514.2,597.6 515.6,598.3 516.9,599.0 518.0,599.6 520.1,600.7 521.4,601.5 523.0,601.6 524.2,601.4 525.5,601.0 526.9,600.3 528.4,599.5 530.0,598.6 531.1,597.9 532.3,597.1 533.5,596.3 534.8,595.4 536.1,594.4 537.4,593.5 538.7,592.5 540.0,591.6 541.2,590.7 542.5,589.8 543.8,588.8 545.0,587.9 546.2,586.9 547.5,585.9 548.8,585.0 550.0,584.0 551.2,583.0 552.5,582.1 553.8,581.1 555.0,580.1 556.2,579.1 557.5,578.1 558.8,577.1 560.0,576.0 561.1,575.0 562.2,574.0 563.3,573.0 564.4,572.0 565.6,571.0 566.7,569.9 567.8,568.8 568.9,567.7 570.0,566.6 571.1,565.4 572.2,564.2 573.3,563.0 574.4,561.7 575.6,560.4 576.7,559.2 577.8,557.9 578.9,556.7 580.0,555.6 581.2,554.4 582.5,553.2 583.8,552.0 585.0,550.9 586.2,549.8 587.5,548.7 588.8,547.7 590.0,546.6 591.3,545.5 592.5,544.5 593.8,543.4 595.1,542.3 596.4,541.3 597.6,540.4 598.8,539.4 600.0,538.6 601.4,537.6 602.7,536.7 604.0,535.8 605.3,535.1 606.6,534.3 608.0,533.6 609.3,533.0 610.7,532.4 612.0,531.8 613.5,531.3 614.9,530.7 616.4,530.2 618.0,529.6 619.4,529.1 620.9,528.6 622.4,528.1 623.9,527.5 625.4,527.0 627.0,526.5 628.5,526.1 630.0,525.6 631.5,525.2 633.0,524.7 634.5,524.3 636.0,523.9 637.5,523.6 639.0,523.2 640.5,522.9 642.0,522.6 643.5,522.3 645.1,522.1 646.6,521.9 648.2,521.7 649.7,521.6 651.2,521.4 652.6,521.3 654.0,521.2 655.8,521.1 657.7,521.1 659.5,521.1 661.1,521.1 662.5,521.2 663.5,521.2" stroke="#ffff00"/>
<polyline points="596.0,532.6 596.7,531.9 597.6,530.9" stroke="#ffff00"/>
<polyline points="597.6,530.9 598.6,529.7 599.8,528.4 601.0,527.0" stroke="#eeee11"/>
<polyline points="601.0,527.0 602.3,525.6" stroke="#eeee22"/>
<polyline points="602.3,525.6 603.6,524.2 604.8,522.8 606.0,521.6" stroke="#dddd22"/>
<polyline points="606.0,521.6 607.1,520.4 608.2,519.3 609.3,518.1" stroke="#cccc33"/>
<polyline points="609.3,518.1 610.4,517.0 611.6,515.9 612.7,514.8" stroke="#bbbb44"/>
<polyline points="612.7,514.8 613.8,513.7" stroke="#bbbb55"/>
<polyline points="613.8,513.7 614.9,512.6 616.0,511.6" stroke="#aaaa55"/>
<polyline points="616.0,511.6 617.2,510.5 618.5,509.3 619.7,508.3 620.9,507.2 622.1,506.1 623.4,505.1 624.7,504.1 626.0,503.1 627.2,502.2 628.5,501.3 629.9,500.4 631.2,499.5 632.6,498.6 633.9,497.8 635.3,497.0 636.7,496.3 638.0,495.6 639.5,494.9 641.0,494.3 642.4,493.7 643.9,493.2 645.4,492.7 646.9,492.3 648.4,491.9 650.0,491.6 651.5,491.4 653.2,491.2 654.9,491.0 656.6,490.9 658.3,490.8 659.9,490.7 661.4,490.7 662.6,490.7 663.5,490.6" stroke="#aaaa66"/>
<polyline points="472.5,556.6 473.4,556.6 474.6,556.5 475.9,556.5 477.5,556.5 479.1,556.4 480.9,556.4 482.7,556.3 484.6,556.2 486.4,556.2 488.2,556.1 490.0,556.0 491.5,555.9 493.0,555.8 494.6,555.7 496.2,555.6 497.9,555.5 499.5,555.4 501.2,555.3 502.8,555.2 504.4,555.1 505.9,554.9 507.3,554.8 508.7,554.7 510.0,554.6 511.9,554.4 513.7,554.3 515.4,554.1 516.9,553.9 518.4,553.7 519.7,553.6 520.9,553.4 522.0,553.2 524.1,552.8 525.4,552.3 527.0,551.6 528.2,551.0 529.5,550.2 530.9,549.3 532.4,548.4 534.0,547.6 535.3,547.0 536.6,546.4 538.1,545.7 539.6,545.1 541.1,544.5 542.5,544.0 544.0,543.6 545.7,543.3 547.5,543.1 549.2,543.0 551.0,543.0 552.6,543.1 554.0,543.2 555.8,543.6 557.4,544.3" stroke="#ffff00"/>
<polyline points="557.4,544.3 558.7,545.0" stroke="#ffcc00"/>
<polyline points="558.7,545.0 560.0,545.6" stroke="#ff7700"/>
<polyline points="560.0,545.6 561.8,546.9 564.0,547.6 565.3,547.4 566.8,547.2" stroke="#ff6600"/>
<polyline points="566.8,547.2 568.5,546.7" stroke="#ffbb00"/>
<polyline points="568.5,546.7 570.3,546.2 572.1,545.4 574.0,544.6 575.3,543.9 576.6,543.1 577.9,542.3 579.3,541.3 580.7,540.4 582.1,539.4 583.4,538.4 584.7,537.5 586.0,536.6 587.3,535.7 588.6,534.9 589.9,534.1 591.1,533.3 592.3,532.5 593.5,531.7" stroke="#ffff00"/>
<polyline points="593.5,531.7 594.8,530.7" stroke="#ff9900"/>
<polyline points="594.8,530.7 596.0,529.6 597.0,528.6 598.0,527.5 599.0,526.3" stroke="#ff0000"/>
<polyline points="599.0,526.3 600.0,525.1" stroke="#ff7700"/>
<polyline points="600.0,525.1 601.0,523.8 602.0,522.5 603.0,521.2 604.0,520.0 605.0,518.7 606.0,517.6 607.1,516.4 608.2,515.2" stroke="#ffff00"/>
<polyline points="608.2,515.2 609.3,514.1" stroke="#ffcc00"/>
<polyline points="609.3,514.1 610.4,513.0" stroke="#ff2200"/>
<polyline points="610.4,513.0 611.6,511.9 612.7,510.8 613.8,509.7" stroke="#ff0000"/>
<polyline points="613.8,509.7 614.9,508.7" stroke="#ff4400"/>
<polyline points="614.9,508.7 616.0,507.6" stroke="#ffee00"/>
<polyline points="616.0,507.6 617.2,506.4 618.5,505.2 619.7,504.1 620.9,502.9 622.1,501.8 623.4,500.7" stroke="#ffff00"/>
<polyline points="623.4,500.7 624.7,499.6" stroke="#eeee11"/>
<polyline points="624.7,499.6 626.0,498.6" stroke="#cccc33"/>
<polyline points="626.0,498.6 627.2,497.7" stroke="#bbbb44"/>
<polyline points="627.2,497.7 628.5,496.9" stroke="#aaaa55"/>
<polyline points="628.5,496.9 629.9,496.0 631.2,495.2 632.6,494.4 633.9,493.6 635.3,492.9 636.7,492.2 638.0,491.6 639.5,490.9 641.0,490.3" stroke="#aaaa66"/>
<polyline points="641.0,490.3 642.4,489.7" stroke="#bbbb55"/>
<polyline points="642.4,489.7 643.9,489.2" stroke="#cccc33"/>
<polyline points="643.9,489.2 645.4,488.7" stroke="#dddd22"/>
<polyline points="645.4,488.7 646.9,488.3" stroke="#eeee11"/>
<polyline points="646.9,488.3 648.4,487.9 650.0,487.6 651.5,487.4 653.2,487.2" stroke="#ffff00"/>
<polyline points="653.2,487.2 654.9,487.0" stroke="#aaaa55"/>
<polyline points="654.9,487.0 656.6,486.9" stroke="#3333cc"/>
<polyline points="656.6,486.9 658.3,486.8 659.9,486.7 661.4,486.7 662.6,486.7 663.5,486.6" stroke="#0000ff"/>
<polyline points="528.0,556.6 528.9,556.4 530.2,556.2 531.7,556.0 533.4,555.7 535.1,555.5 536.9,555.2 538.5,554.9 540.0,554.6 541.8,554.2 543.5,553.8 545.1,553.4 546.7,553.0 548.4,552.6 550.0,552.2 551.7,551.8 553.4,551.3 555.1,550.8 556.8,550.4 558.4,549.9 560.0,549.6 561.9,549.3 563.7,549.0 565.5,548.9 566.9,548.7 568.0,548.6" stroke="#ffff00"/>
<polyline points="472.5,578.6 473.4,578.5 474.5,578.5 475.8,578.4 477.2,578.3 478.8,578.2 480.5,578.1 482.2,578.0 484.0,577.8 485.8,577.7 487.6,577.5 489.4,577.3 491.0,577.1 492.6,576.9 494.0,576.6 495.7,576.2 497.2,575.8 498.8,575.3 500.2,574.8 501.6,574.3 503.0,573.7 504.4,573.1 505.8,572.5 507.2,571.9 508.6,571.2 510.0,570.6 511.5,570.0 512.9,569.3 514.4,568.6 515.9,568.0 517.4,567.3 518.9,566.6 520.3,565.8 521.8,565.1 523.2,564.3 524.6,563.4 526.0,562.6 527.4,561.7 528.7,560.8 530.1,559.8 531.4,558.7 532.7,557.7 534.0,556.6 535.3,555.6 536.5,554.5 537.7,553.5 538.9,552.5 540.0,551.6 541.4,550.4 542.8,549.2 544.0,548.1 545.2,547.0 546.4,545.9 547.6,544.8 548.8,543.7 550.0,542.6 551.2,541.5 552.5,540.4 553.8,539.3 555.0,538.2 556.2,537.0 557.5,535.9" stroke="#ffff00"/>
<polyline points="557.5,535.9 558.8,534.8" stroke="#ff8800"/>
<polyline points="558.8,534.8 560.0,533.6 561.1,532.5 562.2,531.5 563.3,530.4 564.4,529.3 565.5,528.2 566.6,527.1 567.7,526.0 568.8,524.8 570.0,523.6 571.1,522.5 572.1,521.4" stroke="#ff0000"/>
<polyline points="572.1,521.4 573.2,520.2" stroke="#ff1100"/>
<polyline points="573.2,520.2 574.2,519.0 575.3,517.8 576.4,516.6 577.5,515.4 578.7,514.2 579.8,512.9 581.0,511.6 582.0,510.5 583.0,509.4 584.0,508.3" stroke="#ff0000"/>
<polyline points="584.0,508.3 585.1,507.2" stroke="#ff1100"/>
<polyline points="585.1,507.2 586.1,506.1" stroke="#ff3300"/>
<polyline points="586.1,506.1 587.2,505.0 588.3,503.8 589.4,502.6 590.5,501.4 591.6,500.2 592.8,498.9" stroke="#ff6600"/>
<polyline points="592.8,498.9 594.0,497.6" stroke="#ff7700"/>
<polyline points="594.0,497.6 594.9,496.6 595.9,495.5 596.9,494.4 597.9,493.2" stroke="#ff6600"/>
<polyline points="597.9,493.2 599.0,492.1" stroke="#ff7700"/>
<polyline points="599.0,492.1 600.0,490.9" stroke="#ffbb00"/>
<polyline points="600.0,490.9 601.1,489.7 602.2,488.5 603.3,487.3 604.3,486.1" stroke="#ffcc00"/>
<polyline points="604.3,486.1 605.3,484.9 606.4,483.8 607.3,482.7 608.3,481.6 609.2,480.6 610.0,479.6 611.3,478.1 612.5,476.7 613.6,475.4 614.7,474.1 615.8,472.9 616.7,471.8 617.6,470.6 618.5,469.6 619.3,468.6 620.0,467.6 621.1,465.9 621.7,464.5 622.3,463.3 622.9,462.0 624.0,460.6 624.9,459.6 626.0,458.4 627.2,457.2 628.5,456.0 629.8,454.8 631.2,453.7 632.6,452.6 634.0,451.6 635.4,450.7 636.9,449.8 638.4,449.0 639.9,448.2 641.4,447.4 643.0,446.7 644.5,446.1 646.0,445.6 647.5,445.1 649.2,444.8 650.8,444.5 652.4,444.2 654.0,444.0 655.5,443.9 656.8,443.7 658.0,443.6 660.5,443.5 662.3,443.5 663.5,443.6" stroke="#ffff00"/>
<polyline points="472.5,514.6 473.4,514.7 474.6,514.8 475.9,514.9 477.5,515.1 479.1,515.3 480.9,515.4 482.7,515.6 484.6,515.9 486.4,516.1 488.2,516.3 490.0,516.6 491.5,516.8 492.9,517.1 494.4,517.3 496.0,517.6 497.5,517.9 499.1,518.1 500.6,518.4 502.2,518.8 503.8,519.1 505.3,519.4 506.9,519.8 508.5,520.2 510.0,520.6 511.4,521.0 512.9,521.5 514.4,522.0 515.8,522.5 517.3,523.0 518.8,523.5 520.2,524.1 521.7,524.7 523.2,525.2 524.6,525.7 526.0,526.2 527.4,526.7 528.7,527.2 530.0,527.6 531.8,528.1 533.6,528.7 535.3,529.2 537.1,529.7 538.8,530.1 540.4,530.5 541.9,530.9 543.4,531.2 544.7,531.4 546.0,531.6 548.1,531.8 549.7,531.8 551.0,531.7 552.4,531.3 554.0,530.6 555.2,530.0 556.4,529.3 557.6,528.5 558.9,527.5 560.2,526.6 561.5,525.6 562.7,524.6 564.0,523.6 565.3,522.6 566.6,521.6 567.9,520.6 569.2,519.5 570.5,518.5 571.7,517.5 572.9,516.5 574.0,515.6 575.4,514.4 576.8,513.2 578.1,512.1 579.3,511.1 580.3,510.2 581.0,509.6" stroke="#ffff00"/>
<polyline points="472.5,514.6 473.4,514.6 474.6,514.6 475.9,514.6 477.5,514.6 479.1,514.7 480.9,514.7 482.7,514.7 484.6,514.7 486.4,514.7 488.2,514.6 490.0,514.6 491.5,514.6 492.9,514.5 494.4,514.5 496.0,514.4 497.5,514.4 499.1,514.3 500.6,514.3 502.2,514.2 503.8,514.1 505.3,514.0 506.9,513.9 508.5,513.7 510.0,513.6 511.5,513.4 513.1,513.3 514.6,513.1 516.2,512.9 517.7,512.7 519.2,512.5 520.8,512.3 522.3,512.1 523.8,511.8 525.4,511.5 526.9,511.2 528.5,510.9 530.0,510.6 531.5,510.2 533.1,509.8 534.6,509.4 536.2,509.0 537.7,508.5 539.2,508.0 540.8,507.5 542.3,507.0 543.8,506.5 545.4,506.0 546.9,505.6 548.5,505.1 550.0,504.6 551.5,504.1 553.1,503.7 554.7,503.2 556.3,502.8 557.9,502.3 559.5,501.8 561.0,501.4 562.6,500.9 564.1,500.4 565.7,500.0 567.1,499.5 568.6,499.1 570.0,498.6 571.6,498.1 573.2,497.5 574.7,497.0 576.2,496.4 577.7,495.9 579.1,495.3 580.5,494.8 581.9,494.2 583.3,493.7 584.6,493.1 586.0,492.6 587.5,492.0 588.9,491.4 590.3,490.7 591.7,490.1 593.1,489.4 594.5,488.8 595.9,488.2 597.2,487.6 598.6,487.1 600.0,486.6 601.6,486.1 603.2,485.7 604.9,485.3 606.6,485.0 608.2,484.7 609.8,484.4 611.3,484.1 612.7,483.9 614.0,483.6 616.0,483.1 617.6,482.7 619.1,482.4 620.5,482.0 622.0,481.6 623.5,481.2 625.0,480.8 626.5,480.5 628.1,480.1 630.0,479.6 631.3,479.3 632.7,478.9 634.2,478.5 635.8,478.1 637.3,477.7 638.9,477.3 640.5,476.9 642.0,476.6 643.5,476.3 645.1,476.1 646.6,475.9 648.2,475.7 649.7,475.6 651.2,475.4 652.6,475.3 654.0,475.2 655.8,475.1 657.7,475.1 659.5,475.1 661.1,475.1 662.5,475.2 663.5,475.2" stroke="#ffff00"/>
</g>
<g clip-path="url(#cp20)">
<polyline points="90.0,878.3 90.9,878.1 92.0,877.8 93.3,877.5 94.8,877.1 96.4,876.7 98.1,876.3 99.9,875.8 101.7,875.4 103.4,874.9 105.2,874.4 106.8,873.8 108.3,873.3 109.8,872.8 111.2,872.3 112.6,871.7 114.0,871.1 115.4,870.5 116.8,869.9 118.1,869.3 119.5,868.7 120.9,868.0 122.2,867.3 123.6,866.7 125.0,866.0 126.4,865.3 127.8,864.6 129.2,863.9 130.7,863.1 132.1,862.4 133.5,861.6 135.0,860.8 136.4,860.0 137.7,859.3 139.1,858.5 140.4,857.7 141.7,857.0 143.2,856.1 144.6,855.2 146.0,854.4 147.4,853.5 148.8,852.6 150.1,851.8 151.3,850.9 152.6,850.1 153.8,849.2 155.0,848.3 156.4,847.2 157.8,846.2 159.1,845.1 160.4,844.0 161.6,842.9 162.8,841.8 163.9,840.7 165.0,839.7 166.1,838.5 167.1,837.3 168.1,836.2 169.0,835.1 169.9,833.8 170.7,832.5 171.7,831.0 172.3,829.8 173.0,828.6" stroke="#0000ff"/>
<polyline points="173.0,828.6 173.7,827.3 174.3,825.9 175.0,824.5" stroke="#1111ee"/>
<polyline points="175.0,824.5 175.7,823.1 176.3,821.6 177.0,820.2" stroke="#2222dd"/>
<polyline points="177.0,820.2 177.7,818.7 178.3,817.3" stroke="#3333cc"/>
<polyline points="178.3,817.3 179.0,816.0" stroke="#4444cc"/>
<polyline points="179.0,816.0 179.7,814.6" stroke="#5555aa"/>
<polyline points="179.7,814.6 180.3,813.3" stroke="#777788"/>
<polyline points="180.3,813.3 181.0,811.9" stroke="#888877"/>
<polyline points="181.0,811.9 181.7,810.6" stroke="#aaaa55"/>
<polyline points="181.7,810.6 182.3,809.2" stroke="#cccc33"/>
<polyline points="182.3,809.2 183.0,807.8" stroke="#dddd22"/>
<polyline points="183.0,807.8 183.7,806.3" stroke="#ffff00"/>
<polyline points="183.7,806.3 184.3,804.7" stroke="#eeee11"/>
<polyline points="184.3,804.7 185.0,803.0" stroke="#dddd22"/>
<polyline points="185.0,803.0 185.5,801.7 186.0,800.4" stroke="#cccc33"/>
<polyline points="186.0,800.4 186.5,799.0" stroke="#bbbb44"/>
<polyline points="186.5,799.0 187.0,797.6 187.4,796.2" stroke="#aaaa55"/>
<polyline points="187.4,796.2 187.9,794.7" stroke="#999966"/>
<polyline points="187.9,794.7 188.4,793.2" stroke="#888877"/>
<polyline points="188.4,793.2 188.9,791.7" stroke="#777788"/>
<polyline points="188.9,791.7 189.4,790.1" stroke="#666699"/>
<polyline points="189.4,790.1 189.9,788.6" stroke="#5555aa"/>
<polyline points="189.9,788.6 190.3,787.1" stroke="#4444bb"/>
<polyline points="190.3,787.1 190.8,785.6" stroke="#3333cc"/>
<polyline points="190.8,785.6 191.2,784.1" stroke="#2222dd"/>
<polyline points="191.2,784.1 191.7,782.7" stroke="#1111ee"/>
<polyline points="191.7,782.7 192.1,781.1 192.5,779.6 193.0,778.0 193.4,776.5 193.8,775.0 194.2,773.4 194.6,771.9 194.9,770.3 195.3,768.8 195.7,767.3 196.0,765.7 196.3,764.2 196.7,762.7 197.0,761.1 197.3,759.5 197.5,757.9 197.8,756.3 198.1,754.7 198.3,753.1 198.6,751.5 198.8,749.9 199.0,748.3 199.3,746.8 199.5,745.4 199.7,744.0 200.0,742.7 200.4,740.9 200.8,739.2 201.2,737.6 201.6,736.1 202.0,734.6 202.4,733.2 202.7,731.9 203.1,730.6 203.3,729.3 203.6,727.4 203.9,725.6 204.0,723.8 204.2,722.3 204.3,721.0 204.3,720.1" stroke="#0000ff"/>
<polyline points="90.0,744.3 90.9,744.2 92.0,744.1 93.3,743.9 94.8,743.7 96.5,743.5 98.2,743.3 99.9,743.0 101.7,742.7 103.4,742.4 105.0,742.0 106.5,741.6 107.9,741.2 109.4,740.7 110.9,740.2 112.5,739.7 114.0,739.1 115.5,738.5 117.1,737.9 118.6,737.3 120.1,736.6 121.7,736.0 123.1,735.4 124.5,734.7 125.8,734.1 127.2,733.4 128.6,732.7 130.0,732.0 131.4,731.3 132.8,730.5 134.2,729.8 135.6,729.1 137.0,728.4 138.3,727.7 139.7,726.9 141.2,726.2 142.8,725.4 144.3,724.6 145.9,723.8 147.4,723.0 148.8,722.2 150.2,721.5 151.5,720.8 152.6,720.2 152.9,720.1" stroke="#ff0000"/>
<polyline points="90.0,744.3 90.9,744.4 92.1,744.5 93.5,744.6 95.0,744.8 96.7,744.9 98.4,745.1 100.1,745.4 101.9,745.7 103.5,746.1 105.0,746.7 106.4,747.3 107.8,748.0 109.1,748.8 110.5,749.6 111.8,750.5 113.1,751.5 114.4,752.6 115.7,753.7 117.0,754.8 118.3,756.0 119.4,757.0 120.4,757.9 121.4,759.0 122.4,760.0 123.5,761.1 124.5,762.3 125.5,763.4 126.5,764.6 127.6,765.8 128.6,767.1 129.6,768.4 130.6,769.7 131.7,771.0 132.5,772.1 133.4,773.3 134.2,774.5 135.1,775.7 135.9,776.9 136.8,778.2 137.7,779.5 138.5,780.8 139.4,782.1 140.2,783.4 141.1,784.7 141.9,786.0 142.7,787.3 143.5,788.5 144.3,789.8 145.0,791.0 145.9,792.5 146.7,793.9 147.6,795.4 148.4,796.8 149.2,798.2 150.0,799.7 150.8,801.1 151.5,802.5 152.2,803.9 152.9,805.3 153.6,806.6 154.3,808.0 155.0,809.3 155.7,810.8 156.4,812.2 157.1,813.7 157.7,815.1 158.3,816.6 158.9,818.0 159.5,819.4 160.1,820.8 160.7,822.1 161.2,823.4 161.8,824.7 162.3,826.0 163.1,827.6 163.7,829.2 164.4,830.7 165.1,832.2 165.7,833.6 166.3,835.0 167.0,836.4 167.6,837.9 168.3,839.3 169.0,840.8 169.8,842.3 170.5,843.8 171.3,845.3 172.0,846.7 172.8,848.2 173.5,849.7 174.3,851.2 175.0,852.7 175.7,854.1 176.5,855.6 177.2,857.1 177.9,858.6 178.7,860.1 179.4,861.6 180.1,863.0 180.9,864.5 181.7,866.0 182.4,867.3 183.2,868.7 184.0,870.1 184.8,871.5 185.6,872.9 186.4,874.2 187.1,875.6" stroke="#ff0000"/>
<polyline points="187.1,875.6 187.8,876.9" stroke="#ff4400"/>
<polyline points="187.8,876.9 188.5,878.1" stroke="#ff8800"/>
<polyline points="188.5,878.1 189.0,879.3" stroke="#ffbb00"/>
<polyline points="189.0,879.3 189.7,881.2" stroke="#ffff00"/>
<polyline points="189.7,881.2 190.1,882.9" stroke="#ff9900"/>
<polyline points="190.1,882.9 190.5,884.5" stroke="#ff2200"/>
<polyline points="190.5,884.5 190.8,886.1" stroke="#ff5500"/>
<polyline points="190.8,886.1 191.1,887.7" stroke="#ffdd00"/>
<polyline points="191.1,887.7 191.7,889.3" stroke="#ffbb00"/>
<polyline points="191.7,889.3 192.2,890.7" stroke="#ff6600"/>
<polyline points="192.2,890.7 192.9,891.9" stroke="#ff2200"/>
<polyline points="192.9,891.9 193.6,893.2 194.3,894.5 195.0,895.9 195.8,897.5 196.7,899.3 197.1,900.5 197.6,901.8 198.1,903.2 198.6,904.7 199.2,906.2 199.7,907.8 200.3,909.4 200.8,911.0 201.4,912.5 201.9,913.9" stroke="#ff0000"/>
<polyline points="201.9,913.9 202.4,915.3" stroke="#ff1100"/>
<polyline points="202.4,915.3 202.9,916.6" stroke="#ff3300"/>
<polyline points="202.9,916.6 203.3,917.7" stroke="#ff4400"/>
<polyline points="203.3,917.7 204.2,919.6" stroke="#ff6600"/>
<polyline points="204.2,919.6 205.1,921.0" stroke="#ff3300"/>
<polyline points="205.1,921.0 205.8,922.1 206.6,923.2 207.4,924.4 208.3,926.0 209.0,927.3 209.7,928.6 210.4,930.0 211.1,931.5 211.8,933.0 212.6,934.6 213.4,936.2 214.2,937.8 215.0,939.3 215.7,940.6 216.4,942.0 217.2,943.3 217.9,944.7 218.7,946.1 219.5,947.5 220.2,948.9 221.0,950.3 221.8,951.7 222.6,953.0 223.3,954.3 224.2,955.7 225.0,957.2 225.9,958.6 226.7,959.9 227.6,961.3 228.5,962.7 229.3,964.0 230.1,965.2 230.9,966.5 231.7,967.7 232.6,969.1 233.4,970.4 234.1,971.7 234.9,972.9 235.7,974.1 236.5,975.2 237.4,976.4 238.3,977.7 239.3,978.8 240.3,979.9 241.3,981.0 242.4,982.1 243.5,983.2 244.6,984.3 245.8,985.4 247.1,986.6 248.3,987.7 249.4,988.6 250.6,989.5 251.7,990.4 252.9,991.4 254.2,992.3 255.4,993.2 256.7,994.2 257.9,995.1 259.2,995.9 260.4,996.8 261.7,997.7 263.0,998.6 264.4,999.5 265.9,1000.5 267.3,1001.4 268.8,1002.3 270.1,1003.2 271.5,1004.0 272.8,1004.7 273.9,1005.4 275.0,1006.0 277.3,1007.1 279.2,1007.9 280.6,1008.3 281.7,1008.7" stroke="#ff0000"/>
<polyline points="90.0,827.7 90.9,827.4 92.0,827.2 93.3,826.8 94.8,826.5 96.4,826.1 98.1,825.7 99.9,825.2 101.7,824.8 103.4,824.3 105.2,823.8 106.8,823.2 108.3,822.7 109.8,822.1 111.2,821.5 112.6,820.9 114.0,820.3 115.4,819.7 116.8,819.0 118.1,818.3 119.5,817.6 120.9,816.8 122.2,816.1 123.6,815.2 125.0,814.3 126.2,813.5 127.4,812.7 128.6,811.9 129.8,811.0 131.0,810.1 132.1,809.1 133.3,808.2 134.5,807.2 135.7,806.2 136.9,805.2 138.1,804.2 139.3,803.1 140.5,802.1 141.7,801.0 142.8,800.0 143.9,799.0 145.0,797.9 146.1,796.8 147.2,795.8 148.3,794.7 149.4,793.5 150.6,792.4 151.7,791.3 152.8,790.1 153.9,789.0 155.0,787.8 156.1,786.7 157.2,785.5 158.3,784.3 159.4,783.2 160.4,782.1 161.5,781.0 162.5,779.9 163.5,778.8 164.6,777.7 165.6,776.5 166.7,775.4 167.7,774.2 168.8,773.1 169.8,771.9 170.8,770.7 171.9,769.6 172.9,768.4 174.0,767.2 175.0,766.0 176.0,764.9 177.0,763.7 178.0,762.5 179.0,761.3 180.0,760.1 181.0,758.9 182.0,757.6 183.0,756.4 184.0,755.2 185.0,754.0 186.0,752.8 187.0,751.6 188.0,750.4 188.9,749.3 189.9,748.1 190.8,747.0 191.7,746.0 192.8,744.7 194.0,743.4 195.1,742.1 196.2,740.9 197.3,739.7 198.3,738.5 199.4,737.4 200.4,736.3 201.4,735.2 202.3,734.1 203.3,733.0 204.1,732.0 205.0,731.0 206.2,729.5 207.3,728.1 208.5,726.6 209.5,725.2 210.5,723.9 211.4,722.7 212.1,721.6 212.8,720.7 213.3,720.1" stroke="#ff0000"/>
<polyline points="90.0,830.3 90.9,830.3 92.0,830.3 93.3,830.3 94.8,830.4 96.4,830.4 98.1,830.4 99.9,830.4 101.7,830.4 103.4,830.4 105.2,830.4 106.8,830.4 108.3,830.3 109.9,830.3 111.5,830.3 113.0,830.2 114.5,830.2 116.0,830.1 117.5,830.0 119.0,830.0 120.5,829.9 122.0,829.8 123.5,829.7 125.0,829.7 126.5,829.6 128.0,829.5 129.5,829.5 131.1,829.4 132.6,829.4 134.1,829.3 135.6,829.2 137.1,829.1 138.6,829.0 140.2,828.8 141.7,828.7 143.2,828.5 144.7,828.2 146.3,828.0 147.9,827.8 149.4,827.5 151.0,827.2 152.5,826.9 154.0,826.5 155.5,826.2 156.9,825.8 158.3,825.3 160.0,824.8 161.6,824.2 163.1,823.5 164.7,822.9 166.2,822.1 167.6,821.4 169.0,820.6 170.3,819.8 171.7,819.0 173.1,818.0" stroke="#ff0000"/>
<polyline points="173.1,818.0 174.4,817.1" stroke="#ff1100"/>
<polyline points="174.4,817.1 175.7,816.0" stroke="#ff5500"/>
<polyline points="175.7,816.0 176.9,815.0" stroke="#ff8800"/>
<polyline points="176.9,815.0 178.1,813.9" stroke="#ffcc00"/>
<polyline points="178.1,813.9 179.2,812.7" stroke="#ffff00"/>
<polyline points="179.2,812.7 180.4,811.5" stroke="#ffcc00"/>
<polyline points="180.4,811.5 181.7,810.3" stroke="#ffaa00"/>
<polyline points="181.7,810.3 182.8,809.2" stroke="#ff8800"/>
<polyline points="182.8,809.2 183.9,808.1" stroke="#ff6600"/>
<polyline points="183.9,808.1 185.0,806.9" stroke="#ff4400"/>
<polyline points="185.0,806.9 186.1,805.7" stroke="#ff3300"/>
<polyline points="186.1,805.7 187.2,804.5" stroke="#ff2200"/>
<polyline points="187.2,804.5 188.3,803.3" stroke="#ff1100"/>
<polyline points="188.3,803.3 189.4,802.0 190.6,800.7 191.7,799.3 192.6,798.2 193.5,797.1 194.4,796.0 195.3,794.8 196.2,793.6 197.1,792.4 198.0,791.2 198.9,789.9 199.8,788.7 200.8,787.3 201.7,786.0 202.5,784.7 203.3,783.4 204.2,782.1 205.0,780.7 205.8,779.3 206.7,777.9 207.5,776.4 208.3,775.0 209.2,773.6 210.0,772.1 210.8,770.7 211.7,769.3 212.5,767.9 213.3,766.6 214.2,765.2 215.0,763.8 215.8,762.4 216.7,761.0 217.5,759.6 218.3,758.2 219.2,756.8 220.0,755.4 220.8,754.1 221.7,752.7 222.5,751.3 223.3,749.9 224.2,748.5 225.0,747.1 225.8,745.7 226.7,744.3 227.5,742.9 228.3,741.5 229.2,740.1 230.0,738.7 230.8,737.4 231.7,736.0 232.5,734.6 233.4,733.1 234.4,731.6 235.4,730.0 236.3,728.5 237.3,727.0 238.2,725.5 239.1,724.1 239.9,722.9 240.6,721.7 241.2,720.8 241.6,720.1" stroke="#ff0000"/>
<polyline points="90.0,878.3 90.9,878.6 92.0,878.9 93.3,879.3 94.8,879.7 96.4,880.1 98.1,880.6 99.9,881.1 101.7,881.7 103.4,882.3 105.2,882.9 106.8,883.6 108.3,884.3 109.7,885.0 111.0,885.8 112.4,886.6 113.7,887.5 115.1,888.3 116.4,889.2 117.7,890.2 119.0,891.1 120.3,892.1 121.5,893.1 122.7,894.1 123.9,895.0 125.0,896.0 126.3,897.1 127.4,898.3 128.6,899.4 129.7,900.5 130.7,901.7 131.8,902.8 132.8,904.0 133.7,905.3 134.7,906.6 135.7,907.9 136.7,909.3 137.5,910.6 138.3,911.9 139.1,913.3 139.9,914.7 140.7,916.1 141.5,917.6 142.3,919.0 143.0,920.5 143.8,922.0 144.5,923.4 145.2,924.9 146.0,926.3 146.7,927.7 147.4,929.1 148.2,930.5 148.9,932.0 149.6,933.3 150.3,934.7 150.9,936.1 151.6,937.5 152.3,938.8 153.0,940.2 153.6,941.6 154.3,942.9 155.0,944.3 155.7,945.7 156.4,947.1 157.1,948.5 157.8,949.9 158.5,951.3 159.2,952.7 159.9,954.1 160.6,955.4 161.2,956.8 161.9,958.2 162.6,959.6 163.3,961.0 164.0,962.4 164.7,963.8 165.4,965.2 166.1,966.6 166.8,967.9 167.5,969.3 168.2,970.7 168.9,972.1 169.6,973.5 170.3,974.9 171.0,976.3 171.7,977.7 172.4,979.1 173.1,980.4 173.8,981.8 174.4,983.2 175.1,984.6 175.8,986.0 176.5,987.4 177.2,988.8 177.9,990.2 178.6,991.6 179.3,992.9 180.0,994.3 180.7,995.7 181.4,997.1 182.1,998.4 182.8,999.8 183.5,1001.1 184.2,1002.5 184.9,1003.8 185.6,1005.2 186.2,1006.6 186.9,1008.0 187.6,1009.5 188.3,1011.0 188.9,1012.3 189.5,1013.7 190.1,1015.1 190.7,1016.5 191.3,1018.0 191.9,1019.4 192.5,1020.9 193.1,1022.4 193.7,1023.8 194.3,1025.3 194.9,1026.8 195.5,1028.2 196.1,1029.6 196.7,1031.0 197.3,1032.5 197.9,1033.9 198.6,1035.4 199.2,1036.8 199.9,1038.2 200.5,1039.7 201.2,1041.1 201.8,1042.5 202.4,1043.9 203.1,1045.3 203.7,1046.6 204.4,1048.0 205.0,1049.3 205.7,1050.8 206.4,1052.2 207.1,1053.7 207.8,1055.1 208.5,1056.5 209.2,1057.9 209.9,1059.3 210.6,1060.7 211.3,1062.1 212.0,1063.4 212.7,1064.7 213.3,1066.0 214.2,1067.6 215.0,1069.2 215.9,1070.8 216.8,1072.5 217.7,1074.0 218.5,1075.5 219.3,1076.9 220.0,1078.1 220.2,1078.5" stroke="#0000ff"/>
<polyline points="189.3,879.3 190.0,878.6" stroke="#ffff00"/>
<polyline points="190.0,878.6 190.8,877.6" stroke="#cccc33"/>
<polyline points="190.8,877.6 191.9,876.5" stroke="#999966"/>
<polyline points="191.9,876.5 193.0,875.2" stroke="#666699"/>
<polyline points="193.0,875.2 194.2,873.8" stroke="#2222cc"/>
<polyline points="194.2,873.8 195.6,872.3 196.9,870.8 198.3,869.3 199.3,868.3 200.3,867.3 201.4,866.2 202.5,865.1 203.6,864.0 204.7,862.9 205.9,861.7 207.1,860.6 208.2,859.4 209.4,858.3 210.5,857.1 211.7,856.0 212.8,854.9 213.9,853.8 215.0,852.6 216.1,851.5 217.2,850.4 218.3,849.2 219.4,848.1 220.6,847.0 221.7,845.9 222.8,844.8 223.9,843.7 225.0,842.7 226.2,841.5 227.4,840.4 228.6,839.3 229.8,838.2 231.1,837.2 232.3,836.1 233.5,835.0 234.7,834.0 235.9,833.0 237.1,832.0 238.3,831.0 239.5,830.0 240.8,829.0 242.0,828.1 243.2,827.1 244.4,826.2 245.6,825.2 246.8,824.3 248.0,823.4 249.2,822.6 250.5,821.8 251.7,821.0 253.2,820.1 254.7,819.2 256.2,818.4 257.8,817.6 259.3,816.9 260.8,816.2 262.3,815.5 263.7,814.9 265.0,814.3 266.6,813.7 268.2,813.1 269.7,812.5 271.1,812.1 272.5,811.7 273.8,811.3 275.0,811.0 277.1,810.6 279.0,810.5 280.5,810.4 281.7,810.3" stroke="#0000ff"/>
<polyline points="90.0,965.3 90.8,965.0 91.8,964.6 93.0,964.1 94.3,963.6 95.8,963.0 97.3,962.4 98.9,961.8 100.6,961.1 102.2,960.4 103.8,959.8 105.4,959.1 106.9,958.4 108.3,957.7 109.8,956.9 111.2,956.2 112.6,955.4 114.0,954.6 115.4,953.7 116.8,952.9 118.1,952.1 119.5,951.2 120.9,950.3 122.2,949.5 123.6,948.6 125.0,947.7 126.3,946.8 127.6,946.0 128.9,945.1 130.2,944.2 131.6,943.3 132.9,942.4 134.2,941.5 135.5,940.6 136.8,939.6 138.0,938.7 139.3,937.8 140.5,936.9 141.7,936.0 143.0,934.9 144.3,933.9 145.5,932.9 146.8,931.8 148.0,930.8 149.1,929.7 150.3,928.7 151.5,927.6 152.6,926.6 153.8,925.5 155.0,924.3 156.1,923.3 157.3,922.2 158.4,921.1 159.6,920.0 160.7,918.8 161.9,917.7 163.0,916.5 164.1,915.4 165.2,914.3 166.3,913.1 167.3,912.1 168.3,911.0 169.5,909.8 170.6,908.5 171.6,907.3 172.7,906.1 173.6,905.0 174.6,903.8 175.6,902.7 176.5,901.5 177.4,900.4 178.3,899.3 179.5,898.0 180.7,896.5 181.8,895.1 183.0,893.8 184.0,892.4 185.0,891.3 185.9,890.2 186.7,889.3 188.5,887.5" stroke="#0000ff"/>
<polyline points="188.5,887.5 189.3,887.0" stroke="#666699"/>
<polyline points="189.3,887.0 189.3,887.0" stroke="#ffff00"/>
<polyline points="90.0,967.7 90.9,967.8 92.0,967.9 93.3,968.0 94.8,968.2 96.4,968.3 98.1,968.5 99.9,968.7 101.7,968.8 103.4,969.0 105.2,969.1 106.8,969.2 108.3,969.3 109.9,969.4 111.5,969.5 113.0,969.5 114.5,969.5 116.0,969.5 117.5,969.5 119.0,969.5 120.5,969.5 122.0,969.5 123.5,969.4 125.0,969.3 126.5,969.3 128.1,969.2 129.6,969.0 131.2,968.9 132.8,968.8 134.3,968.6 135.9,968.5 137.4,968.3 138.8,968.1 140.3,967.9 141.7,967.7 143.3,967.4 144.9,967.1 146.5,966.7 148.0,966.4 149.5,966.0 150.9,965.6 152.3,965.2 153.7,964.8 155.0,964.3 156.6,963.7 158.1,963.1 159.5,962.5 160.9,961.8 162.2,961.1 163.6,960.2 165.0,959.3 166.2,958.5 167.5,957.6 168.8,956.6 170.0,955.6 171.2,954.5 172.5,953.4 173.8,952.2 175.0,951.0 176.0,950.0 177.0,948.9 178.0,947.7 179.0,946.6 180.0,945.4 181.0,944.2 182.0,942.9 183.0,941.7 184.0,940.5 185.0,939.3 186.0,938.2 187.0,937.0 188.1,935.8 189.1,934.6 190.1,933.4 191.1,932.2 192.1,931.0 193.1,929.9 194.1,928.8 195.0,927.7 196.1,926.4 197.2,925.1 198.2,923.9 199.3,922.8 200.3,921.6 201.3,920.4 202.3,919.1 203.3,917.7 204.2,916.5 205.0,915.3 205.8,914.0 206.6,912.7 207.4,911.4 208.2,910.1 209.0,908.7 209.9,907.3 210.8,905.8 211.7,904.3 212.4,903.1 213.2,901.8 214.0,900.4 214.8,899.1 215.6,897.7 216.5,896.3 217.3,894.9 218.1,893.5 219.0,892.0 219.9,890.6 220.8,889.1 221.7,887.7 222.4,886.4 223.2,885.1 224.1,883.8 224.9,882.5 225.7,881.2 226.6,879.8 227.4,878.5 228.2,877.2 229.1,875.8 230.0,874.5 230.8,873.2 231.7,871.9 232.5,870.6 233.3,869.3 234.2,868.0 235.1,866.7 236.1,865.4 237.0,864.1 237.9,862.8 238.8,861.5 239.7,860.3 240.6,859.0 241.5,857.7 242.4,856.5 243.3,855.2 244.2,853.9 245.0,852.7 245.9,851.3 246.8,849.9 247.6,848.4 248.5,847.0 249.3,845.6 250.1,844.1 250.9,842.7 251.7,841.3 252.5,839.9 253.4,838.6 254.2,837.3 255.0,836.0 255.9,834.6 256.8,833.3 257.7,832.0 258.6,830.7 259.5,829.4 260.5,828.2 261.4,827.0 262.3,825.9 263.2,824.7 264.1,823.7 265.0,822.7 266.3,821.4 267.6,820.1 268.9,819.0 270.2,817.9 271.5,816.9 272.7,815.9 273.9,815.1 275.0,814.3 277.1,813.1 279.0,812.1 280.5,811.5 281.7,811.0" stroke="#0000ff"/>
<polyline points="185.4,1078.5 185.5,1078.1 185.7,1076.9 186.1,1075.5 186.4,1074.0 186.8,1072.4 187.2,1070.7 187.6,1069.0 188.0,1067.3 188.4,1065.5 188.8,1063.9 189.2,1062.3 189.6,1060.7 190.0,1059.3 190.5,1057.7 190.9,1056.1 191.4,1054.5 191.8,1053.0 192.3,1051.5 192.7,1050.0 193.2,1048.6 193.6,1047.1 194.1,1045.6 194.5,1044.2 195.0,1042.7 195.4,1041.2 195.9,1039.7 196.3,1038.2 196.7,1036.7 197.2,1035.3 197.6,1033.8 198.1,1032.3 198.5,1030.8 199.0,1029.2 199.5,1027.6 200.0,1026.0 200.4,1024.7 200.9,1023.3 201.3,1021.9 201.8,1020.4 202.3,1019.0 202.7,1017.5 203.2,1016.0 203.7,1014.5 204.2,1013.0 204.7,1011.6 205.2,1010.1 205.7,1008.7 206.2,1007.3 206.7,1006.0 207.3,1004.3 207.9,1002.7 208.4,1001.0 209.0,999.3 209.6,997.7 210.2,996.2 210.8,994.6 211.4,993.2 212.0,991.8 212.7,990.5 213.3,989.3 214.5,987.7 215.6,986.2 216.9,984.9 218.1,983.7 219.4,982.7 220.5,981.8 221.7,981.0 223.5,979.9 225.1,979.2 226.7,978.9 228.3,978.7 230.0,978.7 231.7,979.0 233.3,979.4 235.0,980.0 236.7,980.7 238.3,981.5 240.0,982.4 241.7,983.3 243.1,984.2 244.7,985.2 246.1,986.2 247.4,987.1 248.3,987.7" stroke="#ff0000"/>
</g>
<g clip-path="url(#cp21)">
<polyline points="282.0,912.5 283.1,912.7 284.6,912.9 286.4,913.2 288.5,913.6 290.8,914.1 292.0,914.4 293.4,914.7 294.8,915.1 296.3,915.5 297.8,915.9 299.4,916.3 301.0,916.8 302.5,917.3 304.1,917.9 305.6,918.5 306.9,919.1 308.3,919.8 309.6,920.5 311.0,921.3 312.3,922.1 313.7,922.9 315.0,923.7 316.4,924.5 317.7,925.4 319.1,926.2 320.4,927.0 321.8,927.8 323.1,928.6 324.5,929.5 325.8,930.4 327.2,931.2 328.5,932.1 329.9,932.9 331.2,933.7 332.6,934.5 333.9,935.3 335.3,936.0 336.8,936.7 338.4,937.5 339.9,938.2 341.5,938.8 343.1,939.5 344.6,940.1 346.1,940.6 347.5,941.1 348.9,941.6 350.1,942.0 352.0,942.6 353.6,943.0 355.1,943.3 356.5,943.5 357.8,943.5 359.0,943.5 360.6,943.5 361.9,943.3 363.2,942.7 365.0,941.0 365.7,940.1 366.6,939.1 367.4,937.9 368.3,936.7 369.3,935.3 370.2,933.8 371.2,932.4 372.2,930.8 373.2,929.3 374.2,927.8 375.1,926.4 376.0,925.0 376.9,923.7 377.7,922.4 378.6,921.0 379.5,919.7 380.3,918.4 381.2,917.1 382.0,915.8 382.9,914.5 383.7,913.1 384.5,911.8 385.2,910.4 386.0,909.0 386.7,907.7 387.4,906.3 388.0,904.9 388.7,903.5 389.3,902.1 389.9,900.7 390.6,899.3 391.2,897.9 391.8,896.5 392.3,895.1 392.9,893.7 393.5,892.3 394.0,891.0 394.6,889.5 395.2,887.9 395.8,886.4 396.4,885.0 397.0,883.5 397.5,882.0 398.0,880.6 398.6,879.2 399.1,877.8 399.5,876.4 400.0,875.0 400.5,873.3 401.0,871.7 401.5,870.1 401.9,868.5 402.3,867.0 402.7,865.4 403.1,863.9 403.6,862.5 404.0,861.0 404.5,859.4 405.0,857.8 405.5,856.3 406.0,854.8 406.5,853.3 407.0,851.8 407.5,850.4 408.0,849.0 408.6,847.5 409.1,846.0 409.7,844.6 410.3,843.3 410.9,841.9 411.4,840.5 412.0,839.0 412.6,837.5 413.1,836.0 413.7,834.4 414.3,832.8 414.9,831.2 415.4,829.6 416.0,828.0 416.5,826.6 417.0,825.1 417.5,823.7 418.0,822.2 418.5,820.7 419.0,819.2 419.5,817.6 420.0,816.0 420.4,814.5 420.9,813.1 421.3,811.6 421.8,810.0 422.2,808.5 422.7,806.9 423.1,805.3 423.6,803.7 424.0,802.0 424.4,800.5 424.8,798.9 425.2,797.3 425.6,795.7 426.0,794.1 426.4,792.5 426.8,790.9 427.2,789.2 427.6,787.6 428.0,786.0 428.4,784.4 428.8,782.8 429.2,781.3 429.6,779.7 430.0,778.1 430.4,776.5 430.8,774.9 431.2,773.3 431.6,771.7 432.0,770.0 432.3,768.6 432.7,767.1 433.0,765.6 433.3,764.1 433.7,762.5 434.0,761.0 434.3,759.5 434.7,757.9 435.0,756.4 435.3,754.9 435.7,753.4 436.0,752.0 436.4,750.3 436.8,748.7 437.2,747.1 437.6,745.5 438.0,743.9 438.4,742.3 438.8,740.7 439.2,739.2 439.6,737.6 440.0,736.0 440.4,734.3 440.9,732.5 441.3,730.7 441.8,728.8 442.2,727.0 442.7,725.2 443.1,723.6 443.5,722.2 443.8,721.0 444.0,720.1" stroke="#0000ff"/>
<polyline points="282.0,812.0 283.1,811.8 284.5,811.5 286.2,811.2 288.1,810.9 290.1,810.5 292.0,810.2 293.4,810.0 294.9,809.7 296.4,809.5 297.9,809.3 299.4,809.0 301.0,808.8 302.5,808.5 304.0,808.3 305.5,808.1 307.0,807.8 308.5,807.6 310.0,807.4 311.5,807.2 313.0,807.0 314.5,806.7 316.0,806.5 317.5,806.3 319.0,806.0 320.5,805.8 322.0,805.5 323.5,805.3 325.0,805.0 326.5,804.8 328.0,804.5 329.5,804.3 331.0,804.0 332.6,803.8 334.1,803.5 335.6,803.3 337.1,803.0 338.6,802.7 340.0,802.4 341.5,802.0 343.0,801.5 344.4,801.0 345.8,800.5 347.2,800.0 348.6,799.5 350.0,799.0 351.4,798.5 352.9,798.0 354.3,797.6 355.7,797.1 357.1,796.6 358.6,796.1 360.0,795.5 361.4,794.9 362.9,794.3 364.3,793.6 365.7,792.9 367.1,792.3 368.6,791.6 370.0,791.0 371.4,790.4 372.9,789.8 374.3,789.3 375.7,788.8 377.1,788.2 378.6,787.6 380.0,787.0 381.4,786.3 382.9,785.6 384.3,784.9 385.7,784.2 387.1,783.5 388.6,782.7 390.0,782.0 391.4,781.3 392.9,780.6 394.3,779.9 395.7,779.1 397.1,778.4 398.6,777.7 400.0,777.0 401.5,776.3 403.0,775.5 404.5,774.8 406.0,774.0 407.4,773.3 408.8,772.6 410.0,772.0 411.7,771.2 413.0,770.6 414.3,770.0 416.0,769.0 417.1,768.3 418.3,767.5 419.5,766.6 420.9,765.7 422.2,764.7 423.5,763.8 424.8,762.9 426.0,762.0 427.5,760.9 428.9,759.9 430.2,758.9 431.6,757.9 432.8,756.9 434.0,756.0 435.3,755.0 436.4,754.0 437.4,753.1 438.6,752.1 440.0,751.0 441.1,750.2 442.2,749.4 443.5,748.5 444.8,747.6 446.1,746.6 447.4,745.7 448.7,744.8 450.0,744.0 451.4,743.1 452.9,742.1 454.4,741.2 455.9,740.3 457.3,739.5 458.7,738.7 460.0,738.0 461.8,737.2 463.5,736.5 465.1,735.9 466.6,735.4 468.0,735.0 470.1,734.5 471.8,734.2 473.0,734.0" stroke="#ff0000"/>
<polyline points="282.0,812.0 283.1,812.1 284.5,812.2 286.2,812.3 288.1,812.4 290.1,812.7 292.0,813.0 293.4,813.3 295.0,813.7 296.6,814.1 298.2,814.6 299.9,815.1 301.4,815.6 302.8,816.1 304.0,816.6 305.9,817.6 307.4,818.7 308.6,819.8 310.0,821.0 311.2,822.0 312.4,823.0 313.6,824.0 314.8,825.0 316.0,826.0 317.2,827.0 318.4,828.0 319.6,829.0 320.8,830.0 322.0,831.0 323.2,832.0 324.4,833.0 325.6,834.0 326.8,835.0 328.0,836.0 329.2,837.0 330.4,838.0 331.6,839.0 332.8,840.0 334.0,841.0 335.2,842.0 336.4,842.9 337.7,843.8 338.9,844.7 340.0,845.5 341.7,846.5 343.4,847.4 345.0,848.3 346.1,849.1 347.2,850.0 348.4,850.9 350.0,852.0 351.2,852.7 352.5,853.5 353.9,854.4 355.5,855.3 357.0,856.1 358.5,856.9 360.0,857.5 361.7,858.1 363.3,858.6 365.0,859.1 366.7,859.5 368.3,859.8 370.0,860.0 371.7,860.2 373.3,860.3 375.0,860.3 376.7,860.3 378.3,860.2 380.0,860.0 381.7,859.7 383.3,859.3 385.0,858.9 386.7,858.3 388.3,857.7 390.0,857.0 391.4,856.3 392.9,855.5 394.4,854.7 395.9,853.8 397.3,852.9 398.7,851.9 400.0,851.0 401.3,850.1 402.5,849.1 403.7,848.1 404.8,847.1 405.9,846.1 407.0,845.1 408.0,844.0 409.1,842.7 410.1,841.5 411.1,840.2 412.1,838.9 413.0,837.5 414.0,836.0 414.9,834.7 415.7,833.3 416.6,832.0 417.4,830.5 418.3,829.1 419.1,827.6 420.0,826.0 420.8,824.6 421.5,823.2 422.2,821.7 423.0,820.2 423.8,818.7 424.5,817.1 425.2,815.6 426.0,814.0 426.7,812.6 427.3,811.2 428.0,809.8 428.7,808.3 429.3,806.9 430.0,805.4 430.7,804.0 431.3,802.5 432.0,801.0 432.6,799.6 433.2,798.3 433.8,796.9 434.4,795.5 435.0,794.1 435.6,792.6 436.2,791.2 436.8,789.8 437.4,788.4 438.0,787.0 438.6,785.6 439.2,784.2 439.8,782.7 440.4,781.3 441.0,779.8 441.6,778.4 442.2,777.0 442.8,775.6 443.4,774.3 444.0,773.0 444.8,771.5 445.5,770.0 446.2,768.6 447.0,767.2 447.8,765.8 448.5,764.5 449.2,763.3 450.0,762.0 450.9,760.6 451.7,759.3 452.6,758.0 453.4,756.7 454.3,755.4 455.1,754.2 456.0,753.0 457.0,751.6 458.0,750.2 459.1,748.8 460.1,747.5 461.1,746.2 462.0,745.0 463.0,743.6 464.0,742.4 465.0,741.2 466.0,740.0 467.0,739.0 468.6,737.8 470.3,736.6 471.9,735.7 473.0,735.0" stroke="#ff0000"/>
<polyline points="282.0,870.5 283.1,870.5 284.5,870.5 286.2,870.5 288.1,870.5 290.1,870.5 292.0,870.5 293.4,870.5 294.9,870.4 296.4,870.3 298.0,870.3 299.6,870.2 301.1,870.1 302.6,870.1 304.0,870.0 305.8,869.9 307.6,869.9 309.4,869.8 311.0,869.7 312.6,869.6 314.0,869.5 315.7,869.3 317.0,869.2 318.3,868.9 320.0,868.5 321.2,868.1 322.6,867.7 324.0,867.2 325.5,866.7 327.0,866.1 328.5,865.5 330.0,865.0 331.5,864.4 333.0,863.8 334.5,863.2 336.1,862.6 337.5,862.0 338.8,861.5 340.0,861.0 342.0,860.3 343.4,859.7 345.0,859.0 346.5,858.2 348.0,857.2 349.5,856.2 351.0,855.0 352.0,853.9 353.0,852.8 354.0,851.6 355.0,850.3 356.0,849.0 356.9,847.9 357.9,846.9 358.8,845.8 359.8,844.6 360.9,843.4 362.0,842.0 362.9,840.9 363.9,839.7 364.9,838.5 365.9,837.2 366.9,835.9 368.0,834.6 369.0,833.3 370.0,832.0 371.0,830.8 372.0,829.5 373.0,828.3 374.0,827.1 375.0,825.8 376.0,824.6 377.0,823.3 378.0,822.0 378.9,820.8 379.8,819.6 380.7,818.4 381.6,817.2 382.4,815.9 383.3,814.7 384.2,813.5 385.1,812.2 386.0,811.0 386.9,809.8 387.8,808.5 388.7,807.2 389.7,805.9 390.6,804.6 391.5,803.4 392.4,802.2 393.2,801.0 394.0,800.0 395.1,798.6 396.1,797.4 397.0,796.4 397.9,795.3 398.9,794.2 400.0,793.0 400.9,792.0 401.9,790.8 402.9,789.7 404.0,788.5 405.1,787.3 406.1,786.2 407.1,785.0 408.0,784.0 409.1,782.7 410.1,781.5 411.1,780.4 412.1,779.3 413.0,778.1 414.0,777.0 415.0,775.8 416.0,774.6 417.0,773.4 418.0,772.2 419.0,771.1 420.0,770.0 421.2,768.8 422.3,767.8 423.5,766.8 424.7,765.9 426.0,765.0 427.4,764.2 429.0,763.4 430.6,762.7 432.2,762.1 434.0,761.5 435.5,761.1 437.1,760.7 438.8,760.3 440.4,760.0 442.2,759.8 444.0,759.5 445.4,759.3 446.7,759.2 448.1,759.0 449.6,758.9 451.0,758.8 452.6,758.7 454.2,758.6 456.0,758.5 457.4,758.4 459.0,758.4 460.7,758.3 462.5,758.3 464.3,758.2 466.1,758.2 467.9,758.1 469.5,758.1 470.9,758.1 472.1,758.0 473.0,758.0" stroke="#ff0000"/>
<polyline points="282.0,872.0 282.9,872.4 284.0,872.8 285.3,873.4 286.8,874.0 288.4,874.6 290.0,875.3 291.7,876.0 293.2,876.7 294.7,877.4 296.0,878.0 297.6,878.9 299.1,879.7 300.6,880.6 301.9,881.4 303.3,882.3 304.6,883.1 306.0,884.0 307.4,884.9 308.9,885.7 310.3,886.6 311.7,887.5 313.1,888.4 314.6,889.2 316.0,890.0 317.4,890.8" stroke="#ff0000"/>
<polyline points="317.4,890.8 318.9,891.5" stroke="#ff1100"/>
<polyline points="318.9,891.5 320.4,892.3" stroke="#ff3300"/>
<polyline points="320.4,892.3 321.9,893.0" stroke="#ff4400"/>
<polyline points="321.9,893.0 323.3,893.7" stroke="#ff5500"/>
<polyline points="323.3,893.7 324.7,894.4" stroke="#ff7700"/>
<polyline points="324.7,894.4 326.0,895.0" stroke="#ff8800"/>
<polyline points="326.0,895.0 327.7,895.8" stroke="#ff9900"/>
<polyline points="327.7,895.8 329.4,896.6" stroke="#ffbb00"/>
<polyline points="329.4,896.6 331.0,897.3" stroke="#ffdd00"/>
<polyline points="331.0,897.3 332.5,898.0" stroke="#ffff00"/>
<polyline points="332.5,898.0 334.0,898.5" stroke="#cccc33"/>
<polyline points="334.0,898.5 335.8,899.1" stroke="#aaaa55"/>
<polyline points="335.8,899.1 337.4,899.6" stroke="#777788"/>
<polyline points="337.4,899.6 339.1,899.9" stroke="#4444bb"/>
<polyline points="339.1,899.9 341.0,900.0" stroke="#1111ee"/>
<polyline points="341.0,900.0 342.3,899.9 343.7,899.7 345.2,899.4 346.7,899.0 348.3,898.5 350.0,898.0 351.3,897.6 352.7,897.1 354.2,896.5 355.7,895.9 357.2,895.3 358.8,894.7 360.4,894.0 362.0,893.3 363.3,892.7 364.7,892.1 366.1,891.4 367.5,890.8 368.9,890.1 370.3,889.4 371.7,888.7 373.2,888.0 374.6,887.3 376.0,886.7 377.4,886.1 378.9,885.5 380.3,884.8 381.8,884.2 383.2,883.6 384.7,883.0 386.1,882.5 387.5,882.0 388.8,881.5 390.0,881.0 391.8,880.4 393.4,879.9 394.9,879.6 396.4,879.2 398.0,878.7 400.0,878.0 401.3,877.5 402.7,876.9 404.1,876.3 405.7,875.7 407.3,875.0 408.9,874.3 410.5,873.6 412.1,872.9 413.5,872.2 414.8,871.6 416.0,871.0 417.8,870.1 419.3,869.2 420.5,868.4 421.6,867.6 422.8,866.8 424.0,866.0 425.3,865.1 426.7,864.3 428.0,863.4 429.3,862.5 430.7,861.7 432.0,861.0 433.5,860.3 435.0,859.6 436.5,859.0 438.1,858.5 440.0,858.0 441.3,857.7 442.7,857.4 444.2,857.1 445.8,856.9 447.3,856.6 448.9,856.4 450.5,856.2 452.0,856.0 453.5,855.9 455.1,855.7 456.6,855.6 458.2,855.6 459.7,855.5 461.2,855.5 462.6,855.4 464.0,855.4 465.8,855.4 467.6,855.4 469.2,855.4 470.8,855.4 472.1,855.4 473.0,855.4" stroke="#0000ff"/>
<polyline points="282.0,912.0 283.1,911.8 284.6,911.5 286.4,911.1 288.5,910.7 290.8,910.4 292.2,910.2 293.7,910.1 295.3,909.9 297.0,909.7 298.7,909.6 300.4,909.4 302.2,909.2 303.9,909.1 305.6,908.9 307.3,908.7 308.9,908.6 310.6,908.4 312.3,908.2 313.9,908.0 315.6,907.8 317.2,907.7 318.8,907.5 320.4,907.4 322.2,907.3" stroke="#0000ff"/>
<polyline points="322.2,907.3 324.0,907.1" stroke="#1111ee"/>
<polyline points="324.0,907.1 325.9,907.0" stroke="#3333cc"/>
<polyline points="325.9,907.0 327.7,906.9" stroke="#4444bb"/>
<polyline points="327.7,906.9 329.4,906.8" stroke="#666699"/>
<polyline points="329.4,906.8 331.0,906.8" stroke="#777788"/>
<polyline points="331.0,906.8 332.5,906.7" stroke="#999966"/>
<polyline points="332.5,906.7 333.8,906.7" stroke="#aaaa55"/>
<polyline points="333.8,906.7 336.3,906.6" stroke="#cccc33"/>
<polyline points="336.3,906.6 337.9,906.7" stroke="#ffff00"/>
<polyline points="337.9,906.7 339.7,907.4" stroke="#ffbb00"/>
<polyline points="339.7,907.4 340.8,908.1" stroke="#ff7700"/>
<polyline points="340.8,908.1 342.1,908.9" stroke="#ff5500"/>
<polyline points="342.1,908.9 343.3,909.9" stroke="#ff3300"/>
<polyline points="343.3,909.9 344.6,911.0" stroke="#ff1100"/>
<polyline points="344.6,911.0 345.8,912.1 347.1,913.3 348.2,914.4 349.3,915.5 350.4,916.7 351.4,917.9 352.5,919.1 353.5,920.4 354.5,921.5 355.6,922.8 356.6,924.1 357.6,925.3 358.6,926.6 359.5,927.8 360.4,928.9 361.7,930.5 362.8,932.0 363.9,933.5 364.9,934.8 365.8,936.1 366.6,937.2" stroke="#ff0000"/>
<polyline points="366.6,937.2 367.9,939.3" stroke="#ff2200"/>
<polyline points="367.9,939.3 368.5,940.3" stroke="#ffff00"/>
<polyline points="368.5,940.3 369.2,941.4" stroke="#ffbb00"/>
<polyline points="369.2,941.4 369.9,942.6" stroke="#ff8800"/>
<polyline points="369.9,942.6 370.7,943.9" stroke="#ff4400"/>
<polyline points="370.7,943.9 371.5,945.3 372.4,946.7 373.3,948.1 374.2,949.5 375.1,950.8 376.0,952.0 377.0,953.2 378.1,954.4 379.2,955.5 380.3,956.5 381.5,957.6 382.6,958.6 383.7,959.7 384.9,960.8 386.0,962.0 387.0,963.1 388.0,964.3 389.0,965.5 390.0,966.7 391.0,967.9 392.0,969.1 393.0,970.3 394.0,971.6 395.0,972.8 396.0,974.0 397.0,975.2 397.9,976.4 398.9,977.6 399.8,978.7 400.8,979.9 401.8,981.1 402.8,982.3 403.8,983.5 404.9,984.7 406.0,986.0 407.0,987.1 408.0,988.2 409.1,989.3 410.2,990.4 411.3,991.5 412.4,992.7 413.6,993.8 414.7,994.9 415.9,996.1 417.0,997.2 418.2,998.2 419.3,999.3 420.5,1000.4 421.7,1001.6 423.0,1002.7 424.2,1003.8 425.4,1004.9 426.6,1006.0 427.8,1007.1 429.0,1008.1 430.3,1009.1 431.5,1010.1 432.7,1011.0 434.0,1012.0 435.4,1012.9 436.7,1013.9 438.0,1014.8 439.4,1015.6 440.7,1016.4 442.0,1017.2 443.3,1017.9 444.7,1018.6 446.0,1019.3 447.5,1020.0 448.9,1020.6 450.4,1021.2 451.9,1021.7 453.4,1022.2 454.8,1022.6 456.3,1023.0 457.8,1023.4 459.3,1023.7 460.9,1024.0 462.6,1024.2 464.3,1024.4 466.1,1024.6 467.8,1024.7 469.4,1024.8 470.9,1024.9 472.1,1024.9 473.0,1025.0" stroke="#ff0000"/>
<polyline points="282.0,972.5 283.1,972.4 284.6,972.2 286.4,972.1 288.5,971.8 290.8,971.5 292.0,971.3 293.4,971.1 294.8,970.9 296.3,970.7 297.8,970.5 299.4,970.2 301.0,970.0 302.5,969.7 304.1,969.3 305.6,969.0 307.1,968.6 308.6,968.3 310.0,967.9 311.5,967.4 313.0,967.0 314.5,966.5 316.0,966.1 317.4,965.5 318.9,965.0 320.4,964.4 321.8,963.8 323.1,963.2 324.5,962.6 325.8,961.9 327.2,961.2 328.5,960.5 329.9,959.8 331.2,959.1 332.6,958.4 333.9,957.7 335.3,957.0 336.7,956.3 338.0,955.6 339.4,954.9 340.8,954.2 342.2,953.6 343.6,952.9 344.9,952.2 346.3,951.5 347.6,950.9 348.9,950.2 350.1,949.6 351.8,948.8 353.4,948.0 355.0,947.2 356.6,946.5 358.1,945.8 359.5,945.1 360.8,944.4 362.0,943.7 363.5,942.7 364.7,941.9 365.7,941.1 366.8,940.1 368.0,939.0 369.0,938.0 370.1,936.9 371.3,935.7 372.5,934.5 373.7,933.3 374.8,932.1 376.0,931.0 377.1,930.0 378.3,929.0 379.4,928.0 380.6,927.0 381.7,926.0 382.9,925.0 384.0,924.0 385.1,922.9 386.3,921.8 387.4,920.7 388.6,919.6 389.7,918.5 390.9,917.3 392.0,916.0 393.0,914.9 394.0,913.7 395.0,912.5 396.0,911.3 397.0,910.1 398.0,908.8 399.0,907.4 400.0,906.0 400.8,904.8 401.6,903.6 402.4,902.3 403.2,901.0 404.0,899.7 404.8,898.3 405.6,897.0 406.4,895.6 407.2,894.3 408.0,893.0 408.8,891.7 409.6,890.4 410.3,889.1 411.1,887.8 411.9,886.5 412.7,885.2 413.5,883.9 414.3,882.6 415.1,881.3 416.0,880.0 416.9,878.7 417.9,877.4 418.9,876.0 419.9,874.7 420.9,873.3 421.9,872.0 422.9,870.7 424.0,869.4 425.0,868.2 426.0,867.0 427.1,865.8 428.2,864.6 429.3,863.4 430.3,862.3 431.4,861.3 432.5,860.2 433.6,859.2 434.8,858.1 436.0,857.0 437.1,856.0 438.3,855.0 439.5,853.9 440.7,852.9 441.9,851.8 443.1,850.8 444.3,849.8 445.6,848.8 446.8,847.9 448.0,847.0 449.3,846.1 450.6,845.2 452.0,844.3 453.3,843.5 454.6,842.7 455.9,842.0 457.3,841.3 458.6,840.6 460.0,840.0 461.7,839.4 463.5,838.8 465.4,838.3 467.2,837.9 469.0,837.5 470.6,837.1 472.0,836.8 473.0,836.6" stroke="#0000ff"/>
<polyline points="281.6,974.0 282.5,974.3 283.5,974.7 284.8,975.2 286.2,975.8 287.8,976.4 289.4,977.0 291.1,977.6 292.8,978.3 294.5,979.0 296.2,979.7 297.8,980.3 299.3,981.0 300.7,981.6 302.1,982.2 303.5,982.9 304.9,983.5 306.3,984.1 307.7,984.8 309.1,985.4 310.5,986.1 311.8,986.8 313.2,987.6 314.6,988.4 316.0,989.3 317.2,990.1 318.4,990.9 319.6,991.8 320.8,992.7 322.0,993.6 323.2,994.5 324.4,995.5 325.5,996.5 326.7,997.5 327.9,998.5 329.1,999.5 330.3,1000.6 331.5,1001.6 332.7,1002.7 333.8,1003.7 334.9,1004.8 336.0,1005.8 337.1,1006.9 338.2,1008.0 339.3,1009.1 340.4,1010.2 341.6,1011.4 342.7,1012.5 343.8,1013.6 344.9,1014.8 346.0,1015.9 347.1,1017.1 348.2,1018.2 349.3,1019.3 350.4,1020.4 351.5,1021.5 352.6,1022.6 353.7,1023.7 354.9,1024.7 356.0,1025.8 357.1,1026.9 358.2,1028.0 359.3,1029.1 360.4,1030.2 361.5,1031.3 362.7,1032.4 363.8,1033.6 364.9,1034.8 366.0,1036.0 367.0,1037.1 368.0,1038.2 368.9,1039.3 369.9,1040.4 370.9,1041.6 371.9,1042.7 372.9,1043.9 373.9,1045.1 374.8,1046.3 375.8,1047.5 376.8,1048.7 377.8,1049.9 378.8,1051.1 379.8,1052.3 380.7,1053.5 381.7,1054.8 382.7,1056.0 383.6,1057.2 384.6,1058.4 385.6,1059.7 386.7,1061.0 387.7,1062.4 388.8,1063.8 389.8,1065.1 390.8,1066.5 391.9,1067.8 392.9,1069.2 393.9,1070.4 394.8,1071.7 395.7,1072.9 396.5,1074.0 397.3,1075.1 398.1,1076.0 398.7,1076.9 399.3,1077.7 399.9,1078.5" stroke="#0000ff"/>
<polyline points="457.1,1078.5 458.3,1078.0 460.0,1077.5 461.6,1077.2 463.3,1076.9 465.2,1076.7 467.1,1076.5 468.9,1076.3 470.6,1076.2 472.0,1076.1 473.0,1076.0" stroke="#ff0000"/>
</g>
<g clip-path="url(#cp22)">
<polyline points="472.5,937.0 473.4,936.9 474.5,936.8 475.9,936.7 477.4,936.6 479.0,936.5 480.7,936.3 482.5,936.2 484.3,936.0 486.1,935.9 487.9,935.7 489.6,935.5 491.2,935.4 492.7,935.2 494.0,935.0 496.0,934.7 497.7,934.3 499.3,933.9 500.7,933.5 502.1,933.1" stroke="#ff0000"/>
<polyline points="502.1,933.1 503.4,932.7" stroke="#ff1100"/>
<polyline points="503.4,932.7 504.7,932.3" stroke="#ff2200"/>
<polyline points="504.7,932.3 506.0,932.0" stroke="#ff4400"/>
<polyline points="506.0,932.0 507.7,931.6" stroke="#ff5500"/>
<polyline points="507.7,931.6 509.3,931.2" stroke="#ff7700"/>
<polyline points="509.3,931.2 510.9,930.9" stroke="#ff8800"/>
<polyline points="510.9,930.9 512.4,930.6" stroke="#ffaa00"/>
<polyline points="512.4,930.6 514.1,930.3" stroke="#ffcc00"/>
<polyline points="514.1,930.3 516.0,930.0" stroke="#ffdd00"/>
<polyline points="516.0,930.0 517.4,929.8" stroke="#ffff00"/>
<polyline points="517.4,929.8 518.8,929.6" stroke="#dddd22"/>
<polyline points="518.8,929.6 520.3,929.4" stroke="#cccc33"/>
<polyline points="520.3,929.4 521.8,929.2" stroke="#aaaa55"/>
<polyline points="521.8,929.2 523.4,929.0" stroke="#888877"/>
<polyline points="523.4,929.0 525.0,928.9" stroke="#777788"/>
<polyline points="525.0,928.9 526.7,928.8" stroke="#5555aa"/>
<polyline points="526.7,928.8 528.3,928.8" stroke="#3333cc"/>
<polyline points="528.3,928.8 530.0,929.0" stroke="#2222dd"/>
<polyline points="530.0,929.0 531.4,929.3 532.9,929.6 534.4,930.1 536.0,930.7 537.6,931.2 539.2,931.8 540.7,932.4 542.2,933.0 543.6,933.4 544.8,933.8 546.0,934.0 548.1,934.2 549.7,934.0 551.0,933.6 552.4,933.1 554.0,932.4 555.4,931.8 556.8,931.1 558.4,930.2 559.9,929.3 561.4,928.5 562.8,927.7 564.0,927.0 565.6,926.0" stroke="#0000ff"/>
<polyline points="565.6,926.0 566.9,925.3" stroke="#4444bb"/>
<polyline points="566.9,925.3 568.2,924.6" stroke="#888888"/>
<polyline points="568.2,924.6 570.0,924.0" stroke="#bbbb44"/>
<polyline points="570.0,924.0 571.2,923.8" stroke="#ffff00"/>
<polyline points="571.2,923.8 572.6,923.6" stroke="#ffdd00"/>
<polyline points="572.6,923.6 574.1,923.5" stroke="#ffbb00"/>
<polyline points="574.1,923.5 575.6,923.3" stroke="#ff9900"/>
<polyline points="575.6,923.3 577.2,923.2" stroke="#ff8800"/>
<polyline points="577.2,923.2 578.9,923.0" stroke="#ff6600"/>
<polyline points="578.9,923.0 580.5,922.8" stroke="#ff4400"/>
<polyline points="580.5,922.8 582.0,922.4" stroke="#ff2200"/>
<polyline points="582.0,922.4 583.5,921.9 585.1,921.4 586.7,920.9 588.2,920.3 589.8,919.6 591.3,918.8 592.7,918.0 594.0,917.0 595.1,916.0 596.1,914.9 597.1,913.6 598.1,912.3 599.0,911.0 599.9,909.7 600.6,908.4 601.4,907.1 602.0,906.0 602.9,904.3 603.5,902.9 603.9,901.5 604.4,899.9 605.0,898.0 605.5,896.7 606.0,895.3 606.6,893.9 607.1,892.3 607.7,890.7 608.3,889.0 608.9,887.4 609.5,885.7 610.0,884.0 610.4,882.5 610.9,880.9 611.3,879.3 611.7,877.6 612.1,876.0 612.4,874.4 612.8,872.7 613.2,871.1 613.6,869.5 614.0,868.0 614.4,866.4 614.9,864.8 615.3,863.3 615.8,861.9 616.2,860.4 616.7,858.9 617.1,857.3 617.6,855.7 618.0,854.0 618.3,852.6 618.7,851.2 619.0,849.7 619.4,848.2 619.7,846.7 620.1,845.1 620.4,843.6 620.7,842.0 621.1,840.5 621.4,838.9 621.7,837.4 622.0,836.0 622.3,834.3 622.7,832.7 623.0,831.1 623.3,829.5 623.6,827.9 623.8,826.3 624.1,824.7 624.4,823.2 624.7,821.6 625.0,820.0 625.3,818.4 625.6,816.8 625.9,815.1 626.2,813.5 626.5,811.9 626.8,810.3 627.1,808.7 627.4,807.1 627.7,805.5 628.0,804.0 628.3,802.3 628.7,800.7 629.0,799.0 629.4,797.4 629.7,795.8 630.1,794.3 630.4,792.8 630.7,791.4 631.0,790.0 631.4,788.3 631.6,786.9 631.9,785.7 632.1,784.3 632.5,782.5 633.0,780.0 633.2,778.8 633.5,777.6 633.8,776.2 634.1,774.7 634.4,773.1 634.7,771.5 635.0,769.8 635.4,768.1 635.7,766.4 636.1,764.7 636.4,762.9 636.8,761.2 637.1,759.6 637.4,758.0 637.7,756.5 638.0,755.0 638.3,753.3 638.7,751.6 639.0,749.9 639.3,748.3 639.7,746.7 640.0,745.1 640.3,743.6 640.6,742.1 640.9,740.6 641.2,739.2 641.4,737.8 641.7,736.4 642.0,735.0 642.4,733.2 642.7,731.4 643.1,729.7 643.4,727.9 643.8,726.2 644.1,724.7 644.4,723.2 644.6,722.0 644.8,720.9 645.0,720.1" stroke="#ff0000"/>
<polyline points="472.5,985.0 473.4,985.1 474.6,985.3 476.1,985.5 477.6,985.7 479.4,986.0 481.2,986.3 483.0,986.6 484.9,986.9 486.7,987.2 488.4,987.6 490.0,988.0 491.5,988.4 493.0,988.9 494.5,989.4 496.0,989.9 497.5,990.4 498.9,991.0 500.4,991.5 501.8,992.1 503.2,992.7 504.6,993.4 506.0,994.0 507.5,994.7 508.9,995.4 510.4,996.2 511.8,996.9 513.2,997.7 514.5,998.5 515.9,999.3 517.3,1000.2 518.6,1001.1 520.0,1002.0 521.2,1002.8 522.4,1003.7 523.6,1004.6 524.7,1005.4 525.9,1006.3 527.1,1007.3 528.2,1008.3 529.4,1009.3 530.7,1010.4 532.0,1011.5 533.3,1012.7 534.3,1013.6 535.4,1014.6 536.4,1015.6 537.5,1016.7 538.6,1017.8 539.7,1018.9 540.9,1020.0 542.0,1021.2 543.2,1022.4 544.3,1023.5 545.5,1024.7 546.6,1025.9 547.7,1027.0 548.9,1028.2 550.0,1029.3 551.1,1030.4 552.2,1031.5 553.3,1032.7 554.5,1033.8 555.6,1034.9 556.7,1036.1 557.8,1037.2 558.9,1038.3 560.0,1039.4 561.1,1040.6 562.3,1041.7 563.4,1042.8 564.5,1043.9 565.6,1044.9 566.7,1046.0 567.9,1047.1 569.1,1048.3 570.3,1049.4 571.4,1050.5 572.6,1051.6 573.8,1052.7 575.0,1053.8 576.2,1054.9 577.4,1056.0 578.6,1057.0 579.7,1058.0 580.9,1059.0 582.1,1060.0 583.3,1061.0 584.6,1062.0 585.9,1063.0 587.2,1064.0 588.6,1064.9 589.9,1065.8 591.3,1066.8 592.6,1067.6 593.9,1068.5 595.2,1069.4 596.5,1070.2 597.7,1071.1 598.9,1071.9 600.0,1072.7 601.4,1073.8 602.9,1074.9 604.3,1076.0 605.7,1077.0 607.0,1078.1 607.6,1078.5" stroke="#0000ff"/>
<polyline points="472.5,982.0 473.4,981.9 474.6,981.7 476.1,981.5 477.6,981.3 479.4,981.0 481.2,980.8 483.0,980.5 484.9,980.2 486.7,979.8 488.4,979.4 490.0,979.0 491.5,978.5 493.0,978.0 494.5,977.5 496.0,976.9 497.5,976.3 498.9,975.7 500.4,975.0 501.8,974.4 503.2,973.8 504.6,973.1 506.0,972.5 507.5,971.8 509.0,971.2 510.5,970.5 511.9,969.9 513.4,969.2 514.8,968.5 516.2,967.8 517.5,967.1 518.8,966.4 520.0,965.6 521.4,964.6 522.6,963.6 523.8,962.6 524.9,961.5 526.0,960.4 527.2,959.3 528.5,958.2 530.0,957.0 531.1,956.2 532.4,955.3 533.7,954.3 535.1,953.3 536.5,952.3 538.0,951.3 539.5,950.3 540.9,949.4 542.3,948.6 543.6,947.9 544.9,947.4 546.0,947.0 548.0,946.7 549.8,947.0 551.4,947.6 552.9,948.4 554.4,949.2 556.0,950.0 557.4,950.6 558.8,951.3 560.2,952.1 561.6,952.8 563.0,953.6 564.5,954.3 566.0,955.0 567.4,955.6 569.0,956.2 570.5,956.8 572.1,957.4 573.7,957.9 575.2,958.4 576.7,958.7 578.0,959.0 579.9,959.2 581.5,959.3 583.0,959.1 584.5,958.7 586.0,958.0 587.2,957.3 588.3,956.4 589.5,955.4 590.7,954.2 591.9,952.9 593.0,951.5 594.0,950.0 594.7,948.9 595.3,947.6 596.0,946.4 596.6,945.0 597.2,943.6 597.8,942.2 598.3,940.7 598.9,939.2 599.4,937.6 600.0,936.0 600.5,934.7 600.9,933.3 601.3,931.9 601.7,930.4 602.2,929.0 602.6,927.5 603.0,926.0 603.4,924.4 603.8,922.9 604.2,921.3 604.6,919.7 605.0,918.0 605.3,916.7 605.7,915.3 606.0,913.9 606.3,912.5 606.6,911.0 606.9,909.6 607.2,908.1 607.6,906.6 607.9,905.1 608.2,903.6 608.5,902.1 608.9,900.5 609.2,899.0 609.6,897.5 610.0,896.0 610.4,894.6 610.8,893.1 611.2,891.6 611.6,890.1 612.0,888.6 612.5,887.1 612.9,885.5 613.4,884.0 613.8,882.5 614.3,881.0 614.7,879.5 615.2,878.1 615.6,876.7 616.0,875.3 616.3,874.0 616.7,872.7 617.2,870.9 617.6,869.3 618.1,867.8 618.5,866.3 618.9,864.8 619.3,863.4 619.6,862.0 620.0,860.6 620.3,859.1 620.7,857.6 621.0,856.0 621.3,854.6 621.5,853.1 621.8,851.5 622.0,850.0 622.2,848.4 622.5,846.8 622.7,845.2 622.9,843.6 623.1,842.0 623.3,840.4 623.6,838.9 623.8,837.4 624.0,836.0 624.3,834.2 624.6,832.5 624.9,830.9 625.2,829.3 625.5,827.8 625.8,826.2 626.1,824.7 626.4,823.1 626.7,821.6 627.0,820.0 627.3,818.4 627.6,816.8 627.9,815.1 628.2,813.5 628.5,811.9 628.8,810.3 629.1,808.7 629.4,807.1 629.7,805.5 630.0,804.0 630.3,802.3 630.7,800.7 631.0,799.0 631.4,797.4 631.7,795.8 632.1,794.3 632.4,792.8 632.7,791.4 633.0,790.0 633.3,788.4 633.6,787.2 633.8,786.1 634.0,784.8 634.4,782.9 635.0,780.0 635.2,778.9 635.5,777.7 635.7,776.4 636.0,775.1 636.3,773.6 636.6,772.0 636.9,770.4 637.3,768.8 637.6,767.1 638.0,765.3 638.3,763.6 638.7,761.9 639.1,760.1 639.4,758.4 639.8,756.7 640.1,755.0 640.5,753.4 640.8,751.9 641.1,750.4 641.4,749.0 641.7,747.7 642.1,745.7 642.6,743.8 643.0,742.0 643.4,740.3 643.9,738.6 644.3,737.0 644.7,735.4 645.0,734.0 645.4,732.6 645.7,731.3 646.1,730.0 646.4,728.8 646.7,727.7 647.4,725.1 648.0,723.1 648.6,721.5 649.0,720.3 649.0,720.1" stroke="#0000ff"/>
<polyline points="472.5,978.0 473.4,977.8 474.6,977.7 476.1,977.5 477.6,977.2 479.4,977.0 481.2,976.7 483.0,976.4 484.9,976.0 486.7,975.7 488.4,975.4 490.0,975.0 491.5,974.6 493.0,974.2 494.5,973.8 496.0,973.3 497.5,972.8 498.9,972.3 500.4,971.9 501.8,971.4 503.2,970.9 504.6,970.4 506.0,970.0 507.7,969.4 509.4,968.9 511.0,968.2" stroke="#0000ff"/>
<polyline points="511.0,968.2 512.7,967.6" stroke="#2222dd"/>
<polyline points="512.7,967.6 514.3,967.1" stroke="#4444bb"/>
<polyline points="514.3,967.1 515.9,966.5" stroke="#5555aa"/>
<polyline points="515.9,966.5 517.3,966.1" stroke="#777788"/>
<polyline points="517.3,966.1 518.7,965.8" stroke="#999966"/>
<polyline points="518.7,965.8 520.0,965.6" stroke="#aaaa55"/>
<polyline points="520.0,965.6 521.9,965.5" stroke="#cccc33"/>
<polyline points="521.9,965.5 523.4,965.7" stroke="#ffff00"/>
<polyline points="523.4,965.7 524.8,966.2" stroke="#ffcc00"/>
<polyline points="524.8,966.2 526.2,966.9" stroke="#ff9900"/>
<polyline points="526.2,966.9 528.0,968.0" stroke="#ff6600"/>
<polyline points="528.0,968.0 529.0,968.7" stroke="#ff3300"/>
<polyline points="529.0,968.7 530.2,969.6" stroke="#ff2200"/>
<polyline points="530.2,969.6 531.4,970.5 532.6,971.6 533.9,972.7 535.2,973.9 536.4,975.0 537.7,976.1 538.9,977.1 540.0,978.0 541.3,979.0 542.5,979.8 543.6,980.5 544.7,981.2 545.8,982.0 547.1,982.8 548.4,983.8 550.0,985.0 551.0,985.8 552.0,986.6 553.1,987.5 554.3,988.5 555.5,989.5 556.7,990.5 557.9,991.5 559.2,992.6 560.5,993.7 561.7,994.8 563.0,995.9 564.3,997.1 565.5,998.2 566.7,999.3 567.8,1000.4 568.9,1001.4 570.0,1002.5 571.1,1003.7 572.2,1004.8 573.3,1006.0 574.4,1007.1 575.6,1008.3 576.7,1009.4 577.8,1010.6 578.9,1011.7 580.0,1012.8 581.1,1013.9 582.2,1015.0 583.3,1016.0 584.5,1017.1 585.7,1018.1 586.9,1019.1 588.1,1020.1 589.3,1021.1 590.5,1022.0 591.6,1023.0 592.8,1023.9 594.0,1024.8 595.2,1025.7 596.4,1026.6 597.6,1027.5 598.8,1028.4 600.0,1029.3 601.3,1030.3 602.6,1031.2 603.9,1032.2 605.1,1033.1 606.4,1034.1 607.7,1035.0 609.0,1035.9 610.3,1036.8 611.6,1037.7 612.9,1038.6 614.1,1039.4 615.4,1040.2 616.7,1041.0 618.1,1041.8 619.5,1042.6 620.9,1043.4 622.2,1044.1 623.6,1044.8 625.0,1045.5 626.4,1046.1 627.8,1046.8 629.1,1047.4 630.5,1048.0 631.9,1048.7 633.3,1049.3 634.8,1050.0 636.4,1050.7 637.9,1051.4 639.5,1052.1 641.1,1052.7 642.6,1053.4 644.2,1054.0 645.7,1054.6 647.2,1055.1 648.6,1055.6 650.0,1056.0 651.7,1056.4 653.5,1056.7 655.2,1057.0 657.0,1057.2 658.6,1057.3 660.1,1057.4 661.5,1057.5 662.6,1057.6 663.5,1057.7" stroke="#ff0000"/>
<polyline points="472.5,947.0 473.4,947.0 474.6,947.1 476.1,947.1 477.6,947.2 479.4,947.2 481.2,947.3 483.0,947.4 484.9,947.5 486.7,947.6 488.4,947.8 490.0,948.0 491.7,948.3" stroke="#ff6600"/>
<polyline points="491.7,948.3 493.4,948.6 495.0,948.9 496.7,949.3" stroke="#ff5500"/>
<polyline points="496.7,949.3 498.3,949.7 500.0,950.1 501.5,950.6" stroke="#ff4400"/>
<polyline points="501.5,950.6 503.1,951.0 504.6,951.5" stroke="#ff3300"/>
<polyline points="504.6,951.5 506.0,952.0 507.7,952.7" stroke="#ff2200"/>
<polyline points="507.7,952.7 509.4,953.5 511.1,954.3" stroke="#ff1100"/>
<polyline points="511.1,954.3 512.7,955.1 514.2,956.0 515.6,956.7 516.9,957.4 518.0,958.0 520.1,959.1 521.4,959.9" stroke="#ff0000"/>
<polyline points="521.4,959.9 523.0,960.0" stroke="#ff5500"/>
<polyline points="523.0,960.0 524.2,959.8" stroke="#ffff00"/>
<polyline points="524.2,959.8 525.5,959.4" stroke="#cccc33"/>
<polyline points="525.5,959.4 526.9,958.7" stroke="#999966"/>
<polyline points="526.9,958.7 528.4,957.9" stroke="#666699"/>
<polyline points="528.4,957.9 530.0,957.0" stroke="#3333cc"/>
<polyline points="530.0,957.0 531.1,956.3 532.3,955.5 533.5,954.7 534.8,953.8 536.1,952.8 537.4,951.9 538.7,950.9 540.0,950.0 541.2,949.1 542.5,948.2 543.8,947.2 545.0,946.3 546.2,945.3 547.5,944.3 548.8,943.4 550.0,942.4 551.2,941.4 552.5,940.5 553.8,939.5 555.0,938.5 556.2,937.5 557.5,936.5 558.8,935.5 560.0,934.4 561.1,933.4 562.2,932.4 563.3,931.4 564.4,930.4 565.6,929.4 566.7,928.3 567.8,927.2 568.9,926.1 570.0,925.0 571.1,923.8 572.2,922.6 573.3,921.4 574.4,920.1 575.6,918.8 576.7,917.6 577.8,916.3 578.9,915.1 580.0,914.0 581.2,912.8 582.5,911.6 583.8,910.4 585.0,909.3 586.2,908.2 587.5,907.1 588.8,906.1 590.0,905.0 591.3,903.9 592.5,902.9 593.8,901.8 595.1,900.8 596.4,899.7 597.6,898.8 598.8,897.8 600.0,897.0 601.4,896.0 602.7,895.1 604.0,894.2 605.3,893.5 606.6,892.7 608.0,892.0 609.3,891.4 610.7,890.8 612.0,890.2 613.5,889.7 614.9,889.1 616.4,888.6 618.0,888.0 619.4,887.5 620.9,887.0 622.4,886.5 623.9,885.9 625.4,885.4 627.0,884.9 628.5,884.5 630.0,884.0 631.5,883.6 633.0,883.1 634.5,882.7 636.0,882.3 637.5,882.0 639.0,881.6 640.5,881.3 642.0,881.0 643.5,880.7 645.1,880.5 646.6,880.3 648.2,880.1 649.7,880.0 651.2,879.8 652.6,879.7 654.0,879.6 655.8,879.5 657.7,879.5 659.5,879.5 661.1,879.5 662.5,879.6 663.5,879.6" stroke="#0000ff"/>
<polyline points="472.5,915.0 473.4,915.0 474.6,914.9 475.9,914.9 477.5,914.9 479.1,914.8 480.9,914.8 482.7,914.7 484.6,914.6 486.4,914.6 488.2,914.5 490.0,914.4 491.5,914.3 493.0,914.2" stroke="#0000ff"/>
<polyline points="493.0,914.2 494.6,914.1 496.2,914.0" stroke="#1111ee"/>
<polyline points="496.2,914.0 497.9,913.9 499.5,913.8 501.2,913.7" stroke="#2222dd"/>
<polyline points="501.2,913.7 502.8,913.6 504.4,913.5 505.9,913.3" stroke="#3333cc"/>
<polyline points="505.9,913.3 507.3,913.2 508.7,913.1" stroke="#4444bb"/>
<polyline points="508.7,913.1 510.0,913.0 511.9,912.8" stroke="#5555aa"/>
<polyline points="511.9,912.8 513.7,912.7 515.4,912.5" stroke="#666699"/>
<polyline points="515.4,912.5 516.9,912.3" stroke="#777788"/>
<polyline points="516.9,912.3 518.4,912.1" stroke="#888888"/>
<polyline points="518.4,912.1 519.7,912.0" stroke="#888877"/>
<polyline points="519.7,912.0 520.9,911.8 522.0,911.6" stroke="#999966"/>
<polyline points="522.0,911.6 524.1,911.2" stroke="#aaaa55"/>
<polyline points="524.1,911.2 525.4,910.7" stroke="#cccc33"/>
<polyline points="525.4,910.7 527.0,910.0" stroke="#dddd22"/>
<polyline points="527.0,910.0 528.2,909.4" stroke="#ffff00"/>
<polyline points="528.2,909.4 529.5,908.6" stroke="#ffdd00"/>
<polyline points="529.5,908.6 530.9,907.7" stroke="#ffbb00"/>
<polyline points="530.9,907.7 532.4,906.8" stroke="#ffaa00"/>
<polyline points="532.4,906.8 534.0,906.0" stroke="#ff8800"/>
<polyline points="534.0,906.0 535.3,905.4 536.6,904.8" stroke="#ff6600"/>
<polyline points="536.6,904.8 538.1,904.1 539.6,903.5 541.1,902.9" stroke="#ff5500"/>
<polyline points="541.1,902.9 542.5,902.4 544.0,902.0 545.7,901.7 547.5,901.5" stroke="#ff4400"/>
<polyline points="547.5,901.5 549.2,901.4 551.0,901.4 552.6,901.5" stroke="#ff3300"/>
<polyline points="552.6,901.5 554.0,901.6 555.8,902.0" stroke="#ff2200"/>
<polyline points="555.8,902.0 557.4,902.7 558.7,903.4" stroke="#ff1100"/>
<polyline points="558.7,903.4 560.0,904.0 561.8,905.3" stroke="#ff0000"/>
<polyline points="561.8,905.3 564.0,906.0" stroke="#880088"/>
<polyline points="564.0,906.0 565.3,905.8 566.8,905.6 568.5,905.1 570.3,904.6 572.1,903.8 574.0,903.0 575.3,902.3 576.6,901.5 577.9,900.7 579.3,899.7 580.7,898.8 582.1,897.8 583.4,896.8 584.7,895.9 586.0,895.0 587.3,894.1 588.6,893.3 589.9,892.5 591.1,891.8 592.3,890.9 593.5,890.1 594.8,889.1 596.0,888.0 597.0,887.0 598.0,885.9 599.0,884.7 600.0,883.5 601.0,882.2 602.0,880.9 603.0,879.6 604.0,878.4 605.0,877.1 606.0,876.0 607.1,874.8 608.2,873.6 609.3,872.5 610.4,871.4 611.6,870.3 612.7,869.2 613.8,868.1 614.9,867.1 616.0,866.0 617.2,864.8 618.5,863.6 619.7,862.5 620.9,861.3 622.1,860.2 623.4,859.1 624.7,858.0 626.0,857.0 627.2,856.1 628.5,855.3 629.9,854.4 631.2,853.6 632.6,852.8 633.9,852.0 635.3,851.3 636.7,850.6 638.0,850.0 639.5,849.3 641.0,848.7 642.4,848.1 643.9,847.6 645.4,847.1 646.9,846.7 648.4,846.3 650.0,846.0 651.5,845.8 653.2,845.6 654.9,845.4 656.6,845.3 658.3,845.2 659.9,845.1 661.4,845.1 662.6,845.1 663.5,845.0" stroke="#0000ff"/>
<polyline points="528.0,915.0 528.9,914.8 530.2,914.7 531.7,914.4 533.4,914.1 535.1,913.9 536.9,913.6 538.5,913.3 540.0,913.0 541.8,912.6 543.5,912.2 545.1,911.8 546.7,911.4 548.4,911.0 550.0,910.6 551.7,910.2 553.4,909.7 555.1,909.2 556.8,908.8 558.4,908.3 560.0,908.0 561.9,907.7" stroke="#0000ff"/>
<polyline points="561.9,907.7 563.7,907.4" stroke="#3333cc"/>
<polyline points="563.7,907.4 565.5,907.3" stroke="#666699"/>
<polyline points="565.5,907.3 566.9,907.1" stroke="#999966"/>
<polyline points="566.9,907.1 568.0,907.0" stroke="#cccc33"/>
<polyline points="568.0,907.0 568.0,907.0" stroke="#ffff00"/>
<polyline points="472.5,937.0 473.4,936.9 474.5,936.9 475.8,936.8 477.2,936.7 478.8,936.6 480.5,936.5 482.2,936.4 484.0,936.2 485.8,936.1 487.6,935.9 489.4,935.7 491.0,935.5 492.6,935.3 494.0,935.0 495.7,934.6 497.2,934.2 498.8,933.7 500.2,933.2 501.6,932.7 503.0,932.1 504.4,931.5 505.8,930.9 507.2,930.3 508.6,929.6 510.0,929.0 511.5,928.4 512.9,927.7 514.4,927.0 515.9,926.4 517.4,925.7 518.9,925.0 520.3,924.2 521.8,923.5 523.2,922.7 524.6,921.8 526.0,921.0 527.4,920.1 528.7,919.2 530.1,918.2 531.4,917.1 532.7,916.1 534.0,915.0 535.3,914.0 536.5,912.9 537.7,911.9 538.9,910.9 540.0,910.0 541.4,908.8 542.8,907.6 544.0,906.5 545.2,905.4 546.4,904.3 547.6,903.2 548.8,902.1 550.0,901.0 551.2,899.9 552.5,898.8 553.8,897.7 555.0,896.6 556.2,895.4 557.5,894.3 558.8,893.2 560.0,892.0 561.1,890.9 562.2,889.9 563.3,888.8 564.4,887.7 565.5,886.6 566.6,885.5 567.7,884.4 568.8,883.2 570.0,882.0 571.1,880.9 572.1,879.8 573.2,878.6 574.2,877.4 575.3,876.2 576.4,875.0 577.5,873.8 578.7,872.6 579.8,871.3 581.0,870.0 582.0,868.9 583.0,867.8 584.0,866.7 585.1,865.6 586.1,864.5 587.2,863.4 588.3,862.2 589.4,861.0 590.5,859.8 591.6,858.6 592.8,857.3 594.0,856.0 594.9,855.0 595.9,853.9 596.9,852.8 597.9,851.6 599.0,850.5 600.0,849.3 601.1,848.1 602.2,846.9 603.3,845.7 604.3,844.5 605.3,843.3 606.4,842.2 607.3,841.1 608.3,840.0 609.2,839.0 610.0,838.0 611.3,836.5 612.5,835.1 613.6,833.8 614.7,832.5 615.8,831.3 616.7,830.2 617.6,829.0 618.5,828.0 619.3,827.0 620.0,826.0 621.1,824.3" stroke="#ff0000"/>
<polyline points="621.1,824.3 621.7,822.9" stroke="#ff6600"/>
<polyline points="621.7,822.9 622.3,821.7 622.9,820.4" stroke="#ffcc00"/>
<polyline points="622.9,820.4 624.0,819.0" stroke="#ff6600"/>
<polyline points="624.0,819.0 624.9,818.0 626.0,816.8 627.2,815.6 628.5,814.4 629.8,813.2 631.2,812.1 632.6,811.0 634.0,810.0 635.4,809.1 636.9,808.2 638.4,807.4 639.9,806.6 641.4,805.8 643.0,805.1 644.5,804.5 646.0,804.0 647.5,803.5 649.2,803.2 650.8,802.9 652.4,802.6 654.0,802.4 655.5,802.3 656.8,802.1 658.0,802.0 660.5,801.9 662.3,801.9 663.5,802.0" stroke="#ff0000"/>
<polyline points="472.5,873.0 473.4,873.1 474.6,873.2 475.9,873.3 477.5,873.5 479.1,873.7 480.9,873.8 482.7,874.0 484.6,874.3 486.4,874.5 488.2,874.7 490.0,875.0 491.5,875.2 492.9,875.5 494.4,875.7 496.0,876.0 497.5,876.3 499.1,876.5 500.6,876.8 502.2,877.2 503.8,877.5 505.3,877.8 506.9,878.2 508.5,878.6 510.0,879.0 511.4,879.4 512.9,879.9 514.4,880.4 515.8,880.9 517.3,881.4 518.8,881.9 520.2,882.5 521.7,883.1 523.2,883.6 524.6,884.1 526.0,884.6 527.4,885.1 528.7,885.6 530.0,886.0 531.8,886.5 533.6,887.1 535.3,887.6 537.1,888.1 538.8,888.5 540.4,888.9 541.9,889.3 543.4,889.6 544.7,889.8 546.0,890.0 548.1,890.2 549.7,890.2 551.0,890.1 552.4,889.7 554.0,889.0 555.2,888.4 556.4,887.7 557.6,886.9 558.9,885.9 560.2,885.0 561.5,884.0 562.7,883.0 564.0,882.0 565.3,881.0 566.6,880.0 567.9,879.0 569.2,877.9 570.5,876.9 571.7,875.9 572.9,874.9 574.0,874.0 575.4,872.8 576.8,871.6 578.1,870.5 579.3,869.5 580.3,868.6 581.0,868.0" stroke="#ff0000"/>
<polyline points="472.5,873.0 473.4,873.0 474.6,873.0 475.9,873.0 477.5,873.0 479.1,873.1 480.9,873.1 482.7,873.1 484.6,873.1 486.4,873.1 488.2,873.0 490.0,873.0 491.5,873.0 492.9,872.9 494.4,872.9 496.0,872.8 497.5,872.8 499.1,872.7 500.6,872.7 502.2,872.6 503.8,872.5 505.3,872.4 506.9,872.3 508.5,872.1 510.0,872.0 511.5,871.8 513.1,871.7 514.6,871.5 516.2,871.3 517.7,871.1 519.2,870.9 520.8,870.7 522.3,870.5 523.8,870.2 525.4,869.9 526.9,869.6 528.5,869.3 530.0,869.0 531.5,868.6 533.1,868.2 534.6,867.8 536.2,867.4 537.7,866.9 539.2,866.4 540.8,865.9 542.3,865.4 543.8,864.9 545.4,864.4 546.9,864.0 548.5,863.5 550.0,863.0 551.5,862.5 553.1,862.1 554.7,861.6 556.3,861.2 557.9,860.7 559.5,860.2 561.0,859.8 562.6,859.3 564.1,858.8 565.7,858.4 567.1,857.9 568.6,857.5 570.0,857.0 571.6,856.5 573.2,855.9 574.7,855.4 576.2,854.8 577.7,854.3 579.1,853.7 580.5,853.2 581.9,852.6 583.3,852.1 584.6,851.5 586.0,851.0 587.5,850.4 588.9,849.8 590.3,849.1 591.7,848.5 593.1,847.8 594.5,847.2 595.9,846.6 597.2,846.0 598.6,845.5 600.0,845.0 601.6,844.5 603.2,844.1 604.9,843.7 606.6,843.4 608.2,843.1 609.8,842.8 611.3,842.5 612.7,842.3 614.0,842.0 616.0,841.5 617.6,841.1 619.1,840.8 620.5,840.4 622.0,840.0 623.5,839.6 625.0,839.2 626.5,838.9 628.1,838.5 630.0,838.0 631.3,837.7 632.7,837.3 634.2,836.9 635.8,836.5 637.3,836.1 638.9,835.7 640.5,835.3 642.0,835.0 643.5,834.7 645.1,834.5 646.6,834.3 648.2,834.1 649.7,834.0 651.2,833.8 652.6,833.7 654.0,833.6 655.8,833.5 657.7,833.5 659.5,833.5 661.1,833.5 662.5,833.6 663.5,833.6" stroke="#ff0000"/>
</g>
</g>
<path d="M90.5 101.0H663.5" stroke="#333" stroke-width="1.0" stroke-dasharray="2.2 3.58" stroke-dashoffset="-0.3"/>
<path d="M90.5 459.4H663.5" stroke="#333" stroke-width="1.0" stroke-dasharray="2.2 3.58" stroke-dashoffset="-0.3"/>
<path d="M90.5 817.8H663.5" stroke="#333" stroke-width="1.0" stroke-dasharray="2.2 3.58" stroke-dashoffset="-0.3"/>
<path d="M663.5 3.3V361.7" stroke="#1a1a1a" stroke-width="1.3" stroke-dasharray="2.7 0.9"/>
<path d="M663.5 361.7V720.1" stroke="#1a1a1a" stroke-width="1.3" stroke-dasharray="2.7 0.9"/>
<g font-family="Liberation Serif" font-size="30" text-anchor="end" fill="#111">
<text x="73" y="46.1">1</text>
<text x="73" y="111.2">0</text>
<text x="73" y="176.4">-1</text>
<text x="73" y="241.6">-2</text>
<text x="73" y="306.7">-3</text>
<text x="73" y="404.5">1</text>
<text x="73" y="469.6">0</text>
<text x="73" y="534.8">-1</text>
<text x="73" y="600.0">-2</text>
<text x="73" y="665.1">-3</text>
<text x="73" y="762.9">1</text>
<text x="73" y="828.0">0</text>
<text x="73" y="893.2">-1</text>
<text x="73" y="958.4">-2</text>
<text x="73" y="1023.5">-3</text>
</g>
<rect x="231.4" y="18.2" width="40.7" height="31.8" fill="#fff" stroke="#333" stroke-width="1.3"/>
<text x="251.8" y="43.3" font-family="Liberation Serif" font-size="25" text-anchor="middle" fill="#111">Fe</text>
<rect x="420.4" y="17.8" width="45.3" height="32.4" fill="#fff" stroke="#333" stroke-width="1.3"/>
<text x="443.0" y="42.9" font-family="Liberation Serif" font-size="25" text-anchor="middle" fill="#111">Co</text>
<rect x="614.0" y="17.8" width="40.2" height="32.4" fill="#fff" stroke="#333" stroke-width="1.3"/>
<text x="634.1" y="42.9" font-family="Liberation Serif" font-size="25" text-anchor="middle" fill="#111">Ni</text>
<rect x="230" y="312.5" width="43.3" height="37.4" fill="#fff" stroke="#333" stroke-width="1.3"/>
<text x="251.6" y="337.3" font-family="Liberation Serif" font-size="25" text-anchor="middle" fill="#111">(a)</text>
<rect x="230" y="670.9" width="43.3" height="37.4" fill="#fff" stroke="#333" stroke-width="1.3"/>
<text x="251.6" y="695.7" font-family="Liberation Serif" font-size="25" text-anchor="middle" fill="#111">(b)</text>
<rect x="230" y="1029.3" width="43.3" height="37.4" fill="#fff" stroke="#333" stroke-width="1.3"/>
<text x="251.6" y="1054.1" font-family="Liberation Serif" font-size="25" text-anchor="middle" fill="#111">(c)</text>
<path d="M128 339H163" stroke="#8a8a8a" stroke-width="2.4"/><path d="M163 336L179 340.5L163 343Z" fill="#9a9a9a"/>
<path d="M128 335.8H164" stroke="#000" stroke-width="3"/>
<path d="M161.5 330.8L178 336.3L161.5 341.6Z" fill="#000"/>
<circle cx="115.3" cy="335.8" r="15.2" fill="url(#ball)" stroke="#300" stroke-width="0.8"/>
<text x="169.5" y="355" font-family="Liberation Serif" font-style="italic" font-size="22" fill="#111">y</text>
<path d="M118.2 688V653" stroke="#888" stroke-width="2.2"/>
<path d="M118.6 644.5L123.4 656.5H113.8Z" fill="#9a9a9a"/>
<path d="M114 688V652" stroke="#000" stroke-width="2.8"/>
<path d="M109.2 655L114 641.4L118.7 655Z" fill="#000"/>
<circle cx="114.2" cy="701" r="15" fill="url(#ball)" stroke="#300" stroke-width="0.8"/>
<text x="124" y="647" font-family="Liberation Serif" font-style="italic" font-size="22" fill="#111">z</text>
<circle cx="489.9" cy="680.3" r="7.1" fill="#0000ff"/>
<circle cx="489.9" cy="703.3" r="7.1" fill="#ff0000"/>
<text x="505.5" y="688" font-family="Liberation Serif" font-size="20" font-style="italic" fill="#111">ι</text>
<text transform="translate(519.5,688) scale(1.15,1)" font-family="Liberation Serif" font-size="20" fill="#111">&lt;</text>
<text x="538.5" y="688" font-family="Liberation Serif" font-size="20" fill="#111">0</text>
<text x="505.5" y="711" font-family="Liberation Serif" font-size="20" font-style="italic" fill="#111">ι</text>
<text transform="translate(519.5,711) scale(1.15,1)" font-family="Liberation Serif" font-size="20" fill="#111">&gt;</text>
<text x="538.5" y="711" font-family="Liberation Serif" font-size="20" fill="#111">0</text>
<g font-family="Liberation Serif" font-size="30.5" fill="#111" text-anchor="middle">
<text x="90.7" y="1116">Γ</text>
<text x="279.5" y="1116"><tspan font-style="italic">H</tspan>Γ</text>
<text x="470.5" y="1116"><tspan font-style="italic">X</tspan>Γ</text>
<text x="662" y="1116" font-style="italic">X</text>
</g>
<g font-family="Liberation Serif" fill="#111">
<text x="326" y="1160.6" font-size="34" font-style="italic">k</text>
<text x="355.5" y="1161" font-size="34">(</text>
<text x="366.5" y="1160.6" font-size="34" font-style="italic">a</text>
<text x="384.5" y="1169" font-size="22">0</text>
<text transform="translate(386.5,1148) scale(1.45,1)" font-size="22">−</text>
<text x="403" y="1148" font-size="22">1</text>
<text x="418" y="1161" font-size="34">)</text>
</g>
<text transform="translate(25.5,540) rotate(-90) scale(1.064,0.96)" font-family="Liberation Serif" font-size="36" fill="#111" text-anchor="middle"><tspan font-style="italic">E</tspan> − <tspan font-style="italic">E</tspan><tspan font-style="italic" font-size="24" dy="6">F</tspan><tspan dy="-6"> (eV)</tspan></text>
</svg>
</body></html>
